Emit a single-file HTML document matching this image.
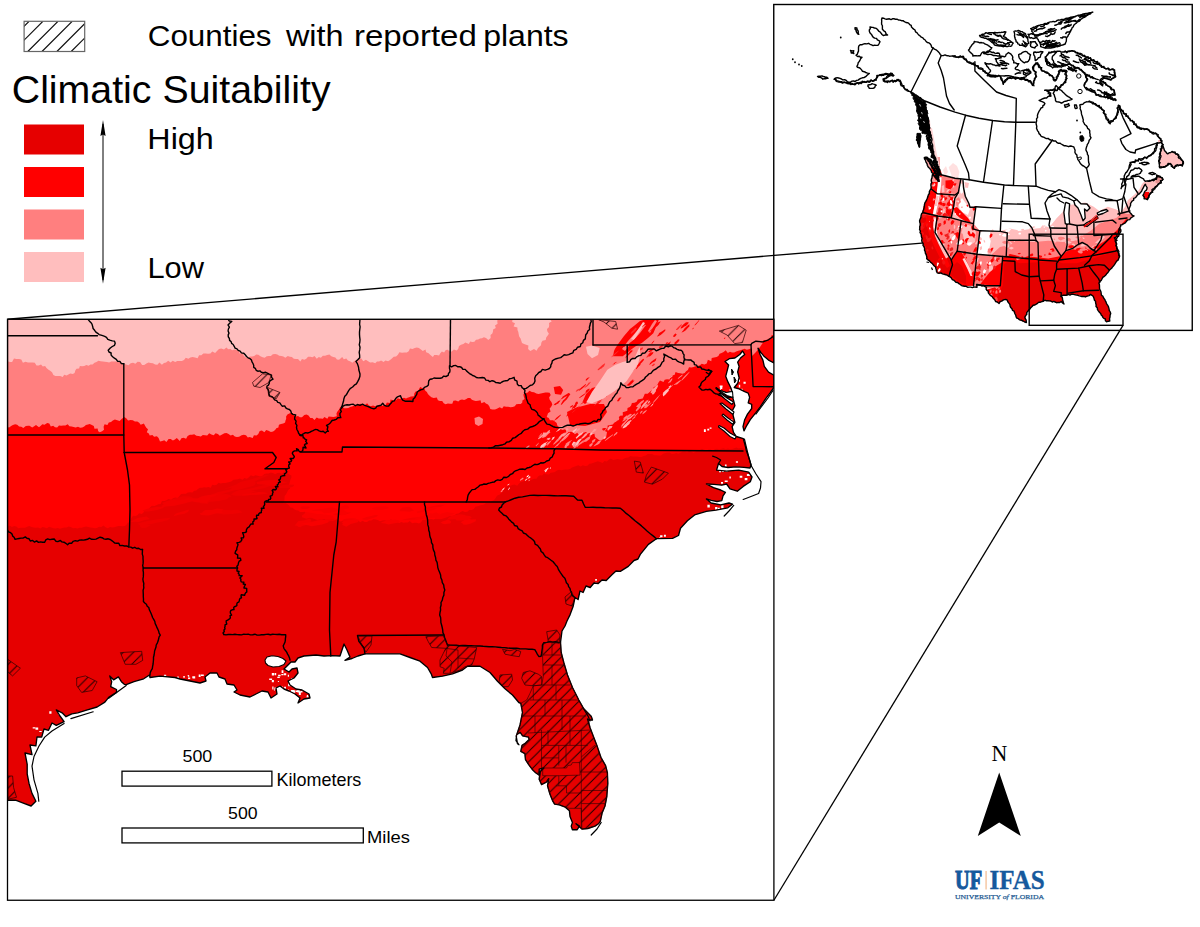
<!DOCTYPE html>
<html><head><meta charset="utf-8"><title>Climatic Suitability</title>
<style>
html,body{margin:0;padding:0;background:#fff;}
body{width:1200px;height:927px;overflow:hidden;font-family:"Liberation Sans",sans-serif;}
svg{display:block;position:absolute;left:0;top:0;}
text{font-family:"Liberation Sans",sans-serif;fill:#000;}
.ser{font-family:"Liberation Serif",serif;}
</style></head><body>
<svg width="1200" height="927" viewBox="0 0 1200 927">
<defs>
<pattern id="hatchL" patternUnits="userSpaceOnUse" width="16.6" height="20.5" x="24" y="21.5">
  <path d="M-16.6,20.5 L16.6,-20.5 M0,20.5 L16.6,0 M0,41 L33.2,0" stroke="#000" stroke-width="0.9" fill="none"/>
</pattern>

<pattern id="hatchM" patternUnits="userSpaceOnUse" width="10.3" height="10.3" x="3" y="0">
  <path d="M-1,11.3 L11.3,-1 M-1,1 L1,-1 M9.3,11.3 L11.3,9.3" stroke="#140000" stroke-width="0.95" fill="none"/>
</pattern>

</defs>
<rect x="0" y="0" width="1200" height="927" fill="#fff"/>
<!-- inset map -->
<rect x="773.75" y="4.5" width="418.5" height="325.9" fill="#fff"/>
<!-- connector lines -->
<line x1="7.5" y1="319.25" x2="1029.2" y2="234.2" stroke="#000" stroke-width="1.3"/>
<line x1="773.9" y1="900.25" x2="1123" y2="325.3" stroke="#000" stroke-width="1.3"/>
<clipPath id="insetclip"><rect x="773.75" y="4.5" width="418.5" height="325.9"/></clipPath>
<clipPath id="insetland"><path d="M882.0,18.0 L888.0,19.5 L895.5,18.8 L903.0,21.0 L909.0,23.2 L913.5,29.2 L918.0,33.8 L924.0,39.0 L930.0,44.2 L933.0,48.0 L937.5,51.0 L941.2,55.5 L945.0,54.8 L952.5,56.2 L962.5,57.0 L967.0,61.5 L974.5,64.5 L976.0,66.0 L983.5,70.5 L989.5,75.0 L1000.0,76.5 L1003.0,84.0 L1007.5,78.0 L1018.0,78.0 L1030.0,81.0 L1033.0,85.5 L1036.0,75.0 L1033.0,66.0 L1037.5,63.0 L1042.0,70.5 L1051.0,75.0 L1055.5,81.0 L1060.0,70.5 L1066.0,70.5 L1066.0,81.0 L1060.0,87.0 L1057.0,90.0 L1045.0,90.0 L1051.0,93.0 L1051.0,96.0 L1039.0,100.5 L1045.0,103.5 L1040.5,109.5 L1037.5,115.5 L1036.0,122.3 L1037.5,131.0 L1042.0,137.0 L1052.5,140.0 L1064.0,145.7 L1073.4,147.0 L1076.0,153.7 L1078.0,160.0 L1082.3,165.6 L1086.6,168.4 L1089.4,164.2 L1088.0,155.7 L1086.0,150.0 L1086.8,145.7 L1090.8,137.7 L1089.5,131.0 L1084.0,123.0 L1081.5,115.0 L1080.0,105.5 L1088.0,101.5 L1097.5,105.5 L1103.0,109.6 L1105.5,116.0 L1109.6,123.0 L1115.0,119.0 L1117.6,112.0 L1118.3,105.5 L1123.0,112.0 L1131.0,120.0 L1139.0,128.0 L1147.0,129.6 L1151.5,132.0 L1156.6,134.1 L1159.7,138.2 L1161.7,142.3 L1157.6,142.8 L1155.6,147.4 L1153.5,153.6 L1147.4,157.1 L1139.2,159.7 L1131.0,162.8 L1128.9,167.9 L1125.9,173.0 L1122.8,181.2 L1120.7,188.4 L1124.8,184.3 L1126.9,177.1 L1131.0,171.0 L1136.1,167.9 L1140.2,168.4 L1142.2,171.0 L1139.2,174.0 L1135.1,175.1 L1131.0,177.1 L1139.2,176.1 L1142.2,178.1 L1145.3,181.2 L1147.4,181.2 L1153.5,180.2 L1156.6,179.2 L1156.6,175.1 L1159.7,176.1 L1162.7,179.2 L1160.7,182.2 L1157.6,185.3 L1153.5,189.4 L1149.4,194.5 L1147.4,199.7 L1144.3,198.6 L1143.3,195.6 L1145.3,191.5 L1147.4,187.4 L1145.3,184.3 L1143.3,188.4 L1140.2,192.5 L1137.1,195.6 L1134.0,198.6 L1131.0,203.8 L1128.9,209.9 L1131.0,214.0 L1134.0,216.0 L1131.0,218.1 L1127.9,220.1 L1124.8,223.2 L1120.6,225.0 L1119.2,229.3 L1118.3,232.0 L1119.5,227.3 L1121.0,230.0 L1118.3,236.0 L1114.8,237.8 L1116.0,242.5 L1117.2,248.3 L1118.3,253.0 L1120.0,256.4 L1118.3,259.9 L1114.8,263.4 L1111.3,268.1 L1106.7,273.9 L1102.0,278.6 L1099.1,283.2 L1099.7,289.0 L1100.9,293.7 L1104.4,299.5 L1107.8,306.5 L1110.2,313.5 L1109.6,320.5 L1106.7,321.7 L1103.2,317.0 L1099.7,312.4 L1096.2,306.5 L1095.6,303.0 L1093.9,297.2 L1090.4,294.3 L1085.7,297.2 L1082.2,296.0 L1075.2,294.3 L1068.2,294.9 L1061.2,296.0 L1062.4,299.5 L1064.2,303.6 L1061.2,301.9 L1056.6,302.5 L1050.8,301.3 L1044.9,300.7 L1040.3,301.9 L1033.3,305.4 L1027.5,311.2 L1025.1,317.0 L1026.3,322.8 L1021.3,320.7 L1016.7,318.3 L1015.5,313.7 L1012.0,309.0 L1009.7,304.3 L1007.3,299.7 L1002.7,299.7 L999.2,303.2 L995.7,301.4 L992.2,297.3 L988.7,292.7 L985.2,286.2 L977.0,284.5 L977.0,287.4 L972.3,287.4 L963.0,286.2 L954.8,281.0 L949.0,276.3 L944.3,274.0 L937.3,272.8 L936.2,268.2 L931.5,263.5 L926.8,258.8 L925.0,251.8 L922.8,243.7 L921.6,236.7 L919.8,229.7 L920.0,220.6 L922.5,212.3 L923.9,206.0 L927.3,198.2 L930.7,188.5 L931.7,180.8 L932.2,175.0 L936.0,177.5 L938.5,174.0 L940.0,170.0 L938.5,168.5 L935.5,161.0 L932.5,149.0 L931.8,140.0 L929.5,129.5 L926.5,113.0 L923.5,101.0 L918.0,96.0 L912.0,93.0 L909.0,91.5 L904.5,88.5 L901.5,84.0 L898.5,79.5 L895.5,81.8 L891.0,81.0 L885.0,81.8 L883.5,79.5 L888.0,76.5 L894.0,75.0 L891.0,73.5 L883.5,74.2 L877.5,75.8 L876.0,79.5 L870.0,81.0 L861.0,82.5 L853.5,84.0 L847.5,83.2 L840.0,81.8 L834.0,78.8 L837.0,78.0 L843.0,79.5 L849.0,81.8 L855.0,81.0 L861.0,78.8 L865.5,76.5 L869.2,73.5 L864.0,72.0 L860.2,69.0 L856.5,66.0 L859.5,61.5 L861.8,57.8 L856.5,55.5 L858.0,51.0 L858.8,45.8 L863.2,44.2 L868.5,43.5 L873.0,45.8 L877.5,45.0 L879.8,42.0 L877.5,39.8 L872.2,36.0 L869.2,31.5 L870.0,27.0 L876.0,27.8 L879.8,32.2 L883.5,35.2 L887.2,35.2 L885.0,32.2 L882.8,29.2 L881.2,22.5 Z M1161.7,142.3 L1162.7,146.4 L1160.7,150.5 L1159.7,156.6 L1159.1,163.8 L1159.7,167.9 L1163.8,166.9 L1169.9,163.8 L1174.0,167.9 L1177.1,164.8 L1182.2,165.9 L1183.2,161.8 L1180.1,157.7 L1176.0,153.6 L1172.0,151.5 L1167.9,153.6 L1164.8,151.5 L1163.5,147.0 Z M924.4,157.5 L927.3,165.2 L933.2,174.0 L938.0,180.8 L939.0,176.9 L936.1,169.1 L931.2,161.4 L926.8,157.0 Z M917.5,134.0 L920.5,135.5 L919.6,146.8 L916.8,140.0 Z M868.0,85.0 L872.0,84.0 L876.0,85.0 L874.0,88.0 L869.0,88.5 Z M855.0,27.8 L857.0,28.0 L858.8,34.5 L856.8,33.0 Z M850.5,50.5 L853.5,50.8 L853.8,53.2 L851.0,53.0 Z M817.5,76.5 L822.0,76.0 L828.0,78.0 L823.0,79.0 Z M1139.5,163.3 L1144.3,162.0 L1149.0,163.5 L1144.3,164.8 Z M1149.0,173.5 L1152.5,172.5 L1155.5,173.8 L1152.5,174.5 Z M1056.0,85.5 L1066.8,96.2 L1072.0,98.9 L1061.4,102.9 L1056.0,101.5 L1053.4,93.5 Z M1064.5,105.0 L1068.5,103.8 L1069.5,106.0 L1065.5,107.3 Z M1074.5,105.0 L1076.5,105.0 L1077.0,108.5 L1075.0,108.5 Z M1064.0,52.0 L1073.4,50.7 L1084.0,56.0 L1096.0,61.4 L1104.2,68.0 L1114.2,70.0 L1115.0,76.0 L1111.0,80.0 L1103.0,77.5 L1100.0,80.0 L1108.2,85.5 L1114.2,90.8 L1115.0,94.8 L1109.6,94.8 L1104.2,92.0 L1112.2,98.9 L1116.0,100.0 L1107.0,97.5 L1099.0,96.0 L1093.5,92.0 L1086.8,89.5 L1084.0,85.5 L1086.8,78.8 L1084.0,72.0 L1077.5,68.0 L1069.4,64.0 L1061.4,66.8 L1053.4,65.4 L1048.0,62.7 L1045.4,57.4 L1049.4,52.7 L1057.4,51.4 Z M1092.8,12.1 L1081.7,18.5 L1073.5,25.5 L1070.0,32.5 L1066.5,38.3 L1065.3,44.2 L1057.2,46.5 L1046.7,48.2 L1040.8,46.5 L1039.7,41.8 L1033.8,34.8 L1030.9,29.0 L1037.3,25.5 L1049.0,22.6 L1064.2,19.1 L1079.3,15.0 Z M1057.2,51.2 L1049.0,52.3 L1045.5,58.2 L1046.7,64.0 L1052.5,67.5 L1058.3,66.3 L1053.7,62.8 L1051.9,58.2 L1054.8,53.5 Z M979.6,35.4 L986.0,33.0 L997.7,32.5 L1005.8,31.9 L1003.5,36.0 L1009.3,40.7 L1012.8,43.0 L1011.7,45.9 L1003.5,46.5 L995.3,45.3 L991.8,41.8 L986.0,38.3 L981.3,37.2 Z M1014.0,31.3 L1019.8,30.8 L1025.7,33.7 L1028.0,38.3 L1028.6,43.0 L1025.7,46.5 L1019.8,45.3 L1016.3,41.8 L1015.2,37.2 Z M1028.0,34.2 L1033.0,34.0 L1037.3,36.0 L1036.0,38.3 L1030.0,38.0 Z M1030.3,41.8 L1035.0,42.0 L1037.3,45.0 L1035.0,47.7 L1031.0,46.5 Z M968.5,50.0 L974.3,41.8 L983.7,43.0 L991.8,47.7 L988.3,52.3 L982.5,52.3 L980.2,55.8 L973.2,55.8 L970.8,52.3 Z M983.7,53.5 L988.3,51.2 L998.8,53.5 L1001.2,58.2 L995.0,59.0 L1000.0,66.3 L984.8,62.8 L987.2,66.3 L990.7,71.0 L987.2,75.7 L994.2,76.8 L1001.2,75.7 L1005.8,75.7 L1014.0,76.8 L1019.8,78.0 L1025.7,76.8 L1030.3,72.2 L1025.7,69.8 L1019.8,71.0 L1015.2,68.7 L1018.7,64.0 L1014.0,62.8 L1011.7,54.7 L1008.2,52.3 L1004.7,57.0 Z M1018.7,54.7 L1025.7,51.2 L1030.3,54.7 L1029.2,60.5 L1024.5,62.8 L1019.8,59.3 Z M1033.8,52.3 L1043.2,51.8 L1039.7,57.0 L1035.0,60.5 Z M1024.0,70.0 L1029.0,69.0 L1031.0,73.0 L1027.0,75.5 L1023.0,74.0 Z"/></clipPath>
<g clip-path="url(#insetclip)">
<path d="M882.0,18.0 L888.0,19.5 L895.5,18.8 L903.0,21.0 L909.0,23.2 L913.5,29.2 L918.0,33.8 L924.0,39.0 L930.0,44.2 L933.0,48.0 L937.5,51.0 L941.2,55.5 L945.0,54.8 L952.5,56.2 L962.5,57.0 L967.0,61.5 L974.5,64.5 L976.0,66.0 L983.5,70.5 L989.5,75.0 L1000.0,76.5 L1003.0,84.0 L1007.5,78.0 L1018.0,78.0 L1030.0,81.0 L1033.0,85.5 L1036.0,75.0 L1033.0,66.0 L1037.5,63.0 L1042.0,70.5 L1051.0,75.0 L1055.5,81.0 L1060.0,70.5 L1066.0,70.5 L1066.0,81.0 L1060.0,87.0 L1057.0,90.0 L1045.0,90.0 L1051.0,93.0 L1051.0,96.0 L1039.0,100.5 L1045.0,103.5 L1040.5,109.5 L1037.5,115.5 L1036.0,122.3 L1037.5,131.0 L1042.0,137.0 L1052.5,140.0 L1064.0,145.7 L1073.4,147.0 L1076.0,153.7 L1078.0,160.0 L1082.3,165.6 L1086.6,168.4 L1089.4,164.2 L1088.0,155.7 L1086.0,150.0 L1086.8,145.7 L1090.8,137.7 L1089.5,131.0 L1084.0,123.0 L1081.5,115.0 L1080.0,105.5 L1088.0,101.5 L1097.5,105.5 L1103.0,109.6 L1105.5,116.0 L1109.6,123.0 L1115.0,119.0 L1117.6,112.0 L1118.3,105.5 L1123.0,112.0 L1131.0,120.0 L1139.0,128.0 L1147.0,129.6 L1151.5,132.0 L1156.6,134.1 L1159.7,138.2 L1161.7,142.3 L1157.6,142.8 L1155.6,147.4 L1153.5,153.6 L1147.4,157.1 L1139.2,159.7 L1131.0,162.8 L1128.9,167.9 L1125.9,173.0 L1122.8,181.2 L1120.7,188.4 L1124.8,184.3 L1126.9,177.1 L1131.0,171.0 L1136.1,167.9 L1140.2,168.4 L1142.2,171.0 L1139.2,174.0 L1135.1,175.1 L1131.0,177.1 L1139.2,176.1 L1142.2,178.1 L1145.3,181.2 L1147.4,181.2 L1153.5,180.2 L1156.6,179.2 L1156.6,175.1 L1159.7,176.1 L1162.7,179.2 L1160.7,182.2 L1157.6,185.3 L1153.5,189.4 L1149.4,194.5 L1147.4,199.7 L1144.3,198.6 L1143.3,195.6 L1145.3,191.5 L1147.4,187.4 L1145.3,184.3 L1143.3,188.4 L1140.2,192.5 L1137.1,195.6 L1134.0,198.6 L1131.0,203.8 L1128.9,209.9 L1131.0,214.0 L1134.0,216.0 L1131.0,218.1 L1127.9,220.1 L1124.8,223.2 L1120.6,225.0 L1119.2,229.3 L1118.3,232.0 L1119.5,227.3 L1121.0,230.0 L1118.3,236.0 L1114.8,237.8 L1116.0,242.5 L1117.2,248.3 L1118.3,253.0 L1120.0,256.4 L1118.3,259.9 L1114.8,263.4 L1111.3,268.1 L1106.7,273.9 L1102.0,278.6 L1099.1,283.2 L1099.7,289.0 L1100.9,293.7 L1104.4,299.5 L1107.8,306.5 L1110.2,313.5 L1109.6,320.5 L1106.7,321.7 L1103.2,317.0 L1099.7,312.4 L1096.2,306.5 L1095.6,303.0 L1093.9,297.2 L1090.4,294.3 L1085.7,297.2 L1082.2,296.0 L1075.2,294.3 L1068.2,294.9 L1061.2,296.0 L1062.4,299.5 L1064.2,303.6 L1061.2,301.9 L1056.6,302.5 L1050.8,301.3 L1044.9,300.7 L1040.3,301.9 L1033.3,305.4 L1027.5,311.2 L1025.1,317.0 L1026.3,322.8 L1021.3,320.7 L1016.7,318.3 L1015.5,313.7 L1012.0,309.0 L1009.7,304.3 L1007.3,299.7 L1002.7,299.7 L999.2,303.2 L995.7,301.4 L992.2,297.3 L988.7,292.7 L985.2,286.2 L977.0,284.5 L977.0,287.4 L972.3,287.4 L963.0,286.2 L954.8,281.0 L949.0,276.3 L944.3,274.0 L937.3,272.8 L936.2,268.2 L931.5,263.5 L926.8,258.8 L925.0,251.8 L922.8,243.7 L921.6,236.7 L919.8,229.7 L920.0,220.6 L922.5,212.3 L923.9,206.0 L927.3,198.2 L930.7,188.5 L931.7,180.8 L932.2,175.0 L936.0,177.5 L938.5,174.0 L940.0,170.0 L938.5,168.5 L935.5,161.0 L932.5,149.0 L931.8,140.0 L929.5,129.5 L926.5,113.0 L923.5,101.0 L918.0,96.0 L912.0,93.0 L909.0,91.5 L904.5,88.5 L901.5,84.0 L898.5,79.5 L895.5,81.8 L891.0,81.0 L885.0,81.8 L883.5,79.5 L888.0,76.5 L894.0,75.0 L891.0,73.5 L883.5,74.2 L877.5,75.8 L876.0,79.5 L870.0,81.0 L861.0,82.5 L853.5,84.0 L847.5,83.2 L840.0,81.8 L834.0,78.8 L837.0,78.0 L843.0,79.5 L849.0,81.8 L855.0,81.0 L861.0,78.8 L865.5,76.5 L869.2,73.5 L864.0,72.0 L860.2,69.0 L856.5,66.0 L859.5,61.5 L861.8,57.8 L856.5,55.5 L858.0,51.0 L858.8,45.8 L863.2,44.2 L868.5,43.5 L873.0,45.8 L877.5,45.0 L879.8,42.0 L877.5,39.8 L872.2,36.0 L869.2,31.5 L870.0,27.0 L876.0,27.8 L879.8,32.2 L883.5,35.2 L887.2,35.2 L885.0,32.2 L882.8,29.2 L881.2,22.5 Z M1161.7,142.3 L1162.7,146.4 L1160.7,150.5 L1159.7,156.6 L1159.1,163.8 L1159.7,167.9 L1163.8,166.9 L1169.9,163.8 L1174.0,167.9 L1177.1,164.8 L1182.2,165.9 L1183.2,161.8 L1180.1,157.7 L1176.0,153.6 L1172.0,151.5 L1167.9,153.6 L1164.8,151.5 L1163.5,147.0 Z M924.4,157.5 L927.3,165.2 L933.2,174.0 L938.0,180.8 L939.0,176.9 L936.1,169.1 L931.2,161.4 L926.8,157.0 Z M917.5,134.0 L920.5,135.5 L919.6,146.8 L916.8,140.0 Z M868.0,85.0 L872.0,84.0 L876.0,85.0 L874.0,88.0 L869.0,88.5 Z M855.0,27.8 L857.0,28.0 L858.8,34.5 L856.8,33.0 Z M850.5,50.5 L853.5,50.8 L853.8,53.2 L851.0,53.0 Z M817.5,76.5 L822.0,76.0 L828.0,78.0 L823.0,79.0 Z M1139.5,163.3 L1144.3,162.0 L1149.0,163.5 L1144.3,164.8 Z M1149.0,173.5 L1152.5,172.5 L1155.5,173.8 L1152.5,174.5 Z M1056.0,85.5 L1066.8,96.2 L1072.0,98.9 L1061.4,102.9 L1056.0,101.5 L1053.4,93.5 Z M1064.5,105.0 L1068.5,103.8 L1069.5,106.0 L1065.5,107.3 Z M1074.5,105.0 L1076.5,105.0 L1077.0,108.5 L1075.0,108.5 Z M1064.0,52.0 L1073.4,50.7 L1084.0,56.0 L1096.0,61.4 L1104.2,68.0 L1114.2,70.0 L1115.0,76.0 L1111.0,80.0 L1103.0,77.5 L1100.0,80.0 L1108.2,85.5 L1114.2,90.8 L1115.0,94.8 L1109.6,94.8 L1104.2,92.0 L1112.2,98.9 L1116.0,100.0 L1107.0,97.5 L1099.0,96.0 L1093.5,92.0 L1086.8,89.5 L1084.0,85.5 L1086.8,78.8 L1084.0,72.0 L1077.5,68.0 L1069.4,64.0 L1061.4,66.8 L1053.4,65.4 L1048.0,62.7 L1045.4,57.4 L1049.4,52.7 L1057.4,51.4 Z M1092.8,12.1 L1081.7,18.5 L1073.5,25.5 L1070.0,32.5 L1066.5,38.3 L1065.3,44.2 L1057.2,46.5 L1046.7,48.2 L1040.8,46.5 L1039.7,41.8 L1033.8,34.8 L1030.9,29.0 L1037.3,25.5 L1049.0,22.6 L1064.2,19.1 L1079.3,15.0 Z M1057.2,51.2 L1049.0,52.3 L1045.5,58.2 L1046.7,64.0 L1052.5,67.5 L1058.3,66.3 L1053.7,62.8 L1051.9,58.2 L1054.8,53.5 Z M979.6,35.4 L986.0,33.0 L997.7,32.5 L1005.8,31.9 L1003.5,36.0 L1009.3,40.7 L1012.8,43.0 L1011.7,45.9 L1003.5,46.5 L995.3,45.3 L991.8,41.8 L986.0,38.3 L981.3,37.2 Z M1014.0,31.3 L1019.8,30.8 L1025.7,33.7 L1028.0,38.3 L1028.6,43.0 L1025.7,46.5 L1019.8,45.3 L1016.3,41.8 L1015.2,37.2 Z M1028.0,34.2 L1033.0,34.0 L1037.3,36.0 L1036.0,38.3 L1030.0,38.0 Z M1030.3,41.8 L1035.0,42.0 L1037.3,45.0 L1035.0,47.7 L1031.0,46.5 Z M968.5,50.0 L974.3,41.8 L983.7,43.0 L991.8,47.7 L988.3,52.3 L982.5,52.3 L980.2,55.8 L973.2,55.8 L970.8,52.3 Z M983.7,53.5 L988.3,51.2 L998.8,53.5 L1001.2,58.2 L995.0,59.0 L1000.0,66.3 L984.8,62.8 L987.2,66.3 L990.7,71.0 L987.2,75.7 L994.2,76.8 L1001.2,75.7 L1005.8,75.7 L1014.0,76.8 L1019.8,78.0 L1025.7,76.8 L1030.3,72.2 L1025.7,69.8 L1019.8,71.0 L1015.2,68.7 L1018.7,64.0 L1014.0,62.8 L1011.7,54.7 L1008.2,52.3 L1004.7,57.0 Z M1018.7,54.7 L1025.7,51.2 L1030.3,54.7 L1029.2,60.5 L1024.5,62.8 L1019.8,59.3 Z M1033.8,52.3 L1043.2,51.8 L1039.7,57.0 L1035.0,60.5 Z M1024.0,70.0 L1029.0,69.0 L1031.0,73.0 L1027.0,75.5 L1023.0,74.0 Z" fill="#fff" stroke="none"/>
<g clip-path="url(#insetland)">
<path d="M985.0,258.0 L985.0,240.0 L988.0,232.0 L1000.0,231.0 L1010.0,228.5 L1020.0,230.8 L1028.5,229.3 L1041.2,227.9 L1051.2,225.0 L1056.8,218.0 L1062.5,212.3 L1065.3,206.7 L1069.6,205.0 L1076.7,203.8 L1085.2,202.4 L1093.7,206.7 L1099.3,210.9 L1107.8,206.7 L1116.3,209.5 L1121.0,212.0 L1125.0,207.0 L1128.0,200.0 L1134.0,195.0 L1139.0,190.0 L1142.0,184.0 L1146.0,180.0 L1152.0,178.0 L1170.0,172.0 L1170.0,210.0 L1135.0,245.0 L985.0,262.0 Z" fill="#ffbebe"/>
<path d="M975.0,256.0 L990.0,256.0 L1000.0,247.0 L1010.0,244.8 L1020.0,240.7 L1034.2,242.0 L1048.3,240.7 L1062.5,242.0 L1076.7,240.7 L1083.8,235.0 L1090.8,230.8 L1099.3,223.7 L1107.8,220.8 L1116.3,218.0 L1122.0,212.3 L1127.0,214.0 L1135.0,214.0 L1135.0,270.0 L975.0,290.0 Z" fill="#ff7f7f"/>
<path d="M1002.7,258.0 L1010.0,254.0 L1020.0,256.2 L1034.2,257.0 L1048.3,258.4 L1059.7,256.2 L1068.2,250.6 L1079.5,247.8 L1088.0,249.2 L1091.0,250.0 L1096.5,246.3 L1105.0,240.7 L1112.0,235.0 L1117.8,229.3 L1122.0,223.7 L1126.0,219.0 L1135.0,222.0 L1135.0,330.0 L985.0,330.0 L985.0,290.0 L1000.3,285.7 L1002.7,262.0 Z" fill="#ff0000"/>
<path d="M1004.0,264.0 L1010.0,260.0 L1020.0,263.3 L1041.2,262.0 L1055.4,260.5 L1062.5,263.3 L1076.7,263.3 L1090.8,259.0 L1105.0,254.8 L1116.3,252.0 L1121.0,250.0 L1130.0,250.0 L1130.0,330.0 L992.0,330.0 L996.0,300.0 L1003.0,285.0 Z" fill="#e60000"/>
<path d="M1090.5,249.5 L1094.0,244.0 L1098.0,240.0 L1103.0,235.5 L1105.0,237.0 L1100.0,242.5 L1096.0,247.0 L1093.0,251.0 Z" fill="#ffbebe"/>
<path d="M1142.0,192.0 L1149.0,192.0 L1149.0,200.5 L1142.0,200.5 Z" fill="#ff0000"/>
<path d="M1155.5,174.0 L1164.0,174.0 L1164.0,183.0 L1155.5,183.0 Z" fill="#e89090"/>
<path d="M1158.0,140.0 L1185.0,140.0 L1185.0,170.0 L1158.0,170.0 Z" fill="#ffbebe"/>
<path d="M1083.5,226.0 L1090.8,221.5 L1097.5,217.0 L1098.5,218.5 L1091.5,223.5 L1084.5,227.5 Z" fill="#ff0000"/>
<path d="M1089.0,221.0 L1096.5,215.5 L1097.5,217.0 L1090.0,222.5 Z" fill="#ff0000"/>
<path d="M935.0,216.0 L951.3,217.5 L973.5,223.6 L979.9,231.0 L977.0,254.2 L1002.7,256.5 L1000.3,285.7 L973.5,285.7 L960.0,284.0 L949.0,276.3 L951.3,260.0 L935.0,232.3 Z" fill="#ff7f7f"/>
<path d="M979.9,231.0 L990.0,232.0 L991.0,240.0 L989.0,250.0 L988.0,255.5 L977.0,254.2 Z" fill="#fff"/>
<path d="M953.4,236.0 L953.9,237.1 L952.8,238.8 L951.1,238.4 L948.8,239.0 L949.6,237.1 L951.0,236.0 L952.8,234.7 Z M955.5,233.2 L956.2,233.2 L955.9,234.1 L955.4,234.5 L954.8,235.1 L954.7,234.3 L954.3,233.6 L955.0,233.1 Z M950.1,229.3 L950.1,230.5 L950.1,231.3 L949.8,232.4 L948.9,232.9 L948.5,232.0 L948.4,230.8 L949.2,229.5 Z M951.1,239.5 L951.0,240.3 L950.3,241.3 L949.1,241.8 L947.7,242.2 L948.4,240.9 L949.3,240.1 L950.2,239.6 Z M960.3,225.8 L960.7,226.3 L960.0,227.4 L959.0,228.3 L958.1,228.3 L958.4,227.2 L958.6,226.1 L959.8,225.3 Z M952.0,253.8 L952.3,254.7 L951.2,255.8 L949.8,256.3 L948.4,256.3 L949.3,255.0 L949.9,254.0 L951.5,252.9 Z M941.3,231.5 L942.1,232.5 L942.5,233.2 L942.7,234.4 L941.8,235.4 L940.7,234.6 L939.8,233.6 L940.1,232.1 Z M945.7,220.6 L945.9,222.0 L945.8,223.4 L944.8,224.2 L943.6,224.9 L943.7,223.3 L943.3,222.1 L944.3,220.6 Z M938.6,227.1 L939.1,227.7 L939.0,228.7 L938.5,229.7 L937.5,230.2 L936.9,229.3 L937.3,228.1 L937.6,226.7 Z M938.7,216.8 L938.7,218.2 L938.0,219.9 L936.6,221.7 L936.0,220.7 L935.8,219.9 L935.9,218.5 L937.2,217.9 Z M942.2,239.9 L943.2,240.4 L943.8,241.9 L943.6,244.0 L942.3,243.5 L941.3,243.5 L940.8,242.0 L941.0,240.2 Z M939.1,223.3 L940.2,223.6 L940.5,224.8 L940.5,226.1 L939.5,227.0 L938.1,226.5 L938.2,225.0 L938.2,223.9 Z M945.7,234.8 L946.2,235.1 L946.3,235.8 L945.9,236.5 L945.1,236.2 L944.8,235.7 L944.4,235.0 L945.0,234.3 Z M948.9,215.7 L949.9,216.2 L950.1,218.2 L949.7,219.7 L948.9,220.9 L948.0,220.0 L948.1,218.2 L948.1,216.6 Z M953.5,220.5 L954.5,221.4 L953.4,223.4 L952.3,224.5 L951.1,224.7 L950.7,223.6 L950.8,221.9 L952.3,220.0 Z M948.2,244.2 L949.0,244.9 L949.7,245.7 L949.2,246.7 L948.6,246.8 L947.9,246.8 L947.5,245.9 L947.7,245.0 Z M957.5,231.9 L959.0,232.7 L959.3,235.4 L959.3,238.0 L957.9,239.3 L956.7,237.4 L955.6,235.5 L956.1,232.8 Z" fill="#ff0000"/>
<path d="M948.8,236.0 L950.0,236.4 L948.9,238.0 L948.2,239.6 L947.0,239.7 L946.2,238.8 L947.0,237.1 L947.8,235.6 Z M953.5,251.6 L953.0,253.0 L952.5,254.0 L951.6,255.0 L950.9,254.7 L950.2,254.1 L950.9,252.6 L952.1,252.3 Z M947.2,216.9 L947.7,217.8 L947.8,218.8 L947.7,219.9 L947.2,220.2 L946.4,220.3 L946.4,218.8 L946.6,217.6 Z M949.1,246.5 L949.1,247.7 L949.5,248.8 L948.6,250.3 L947.7,249.9 L947.3,249.1 L947.1,247.8 L948.2,247.2 Z M952.9,247.9 L953.4,248.9 L952.5,250.4 L951.0,251.1 L949.8,251.0 L949.5,249.9 L950.3,248.2 L952.1,246.9 Z M954.1,231.5 L954.1,232.4 L953.8,233.8 L952.4,233.5 L951.1,233.5 L951.5,232.3 L952.0,231.1 L953.3,231.1 Z M948.7,233.0 L948.5,234.6 L948.8,236.2 L947.1,236.8 L946.0,237.1 L945.3,236.2 L945.8,234.3 L947.4,233.4 Z M940.2,223.0 L941.1,223.2 L941.4,224.5 L941.1,225.7 L940.3,226.2 L939.7,225.3 L939.2,224.6 L939.4,223.5 Z M944.8,242.4 L945.4,242.7 L944.8,243.5 L944.2,243.8 L943.7,243.7 L943.4,243.2 L943.8,242.6 L944.3,242.1 Z" fill="#f02020"/>
<path d="M960.0,225.5 L959.9,226.3 L959.4,227.0 L958.6,227.8 L957.6,227.8 L958.0,226.8 L958.1,225.8 L959.2,225.5 Z M949.5,254.1 L949.9,255.0 L949.7,256.0 L948.9,256.4 L948.1,256.3 L947.8,255.7 L947.5,254.6 L948.6,254.4 Z M951.2,241.1 L952.0,241.3 L952.3,242.2 L952.1,242.8 L951.8,243.8 L951.0,243.3 L950.7,242.5 L950.5,241.5 Z M955.1,234.8 L955.5,236.6 L955.0,238.4 L953.7,240.3 L951.9,240.1 L951.3,238.4 L951.8,236.5 L953.4,235.5 Z" fill="#fff"/>
<path d="M947.8,215.8 L948.3,216.6 L948.3,217.9 L948.0,219.0 L947.3,219.3 L946.8,218.8 L946.8,217.7 L946.9,216.0 Z M958.8,227.8 L958.9,228.8 L958.3,229.5 L957.7,230.1 L956.7,230.3 L956.6,229.3 L957.0,228.4 L957.8,228.0 Z M954.6,224.7 L955.2,225.8 L955.4,227.0 L955.1,228.0 L954.5,228.9 L953.8,228.5 L953.8,226.9 L953.8,225.4 Z M943.9,243.2 L944.6,243.2 L944.4,244.6 L944.4,246.0 L943.7,246.3 L943.2,245.7 L942.7,244.5 L943.4,243.6 Z M953.9,233.6 L953.8,235.1 L952.8,236.7 L951.3,238.3 L949.3,239.2 L949.7,237.0 L950.1,234.5 L952.6,233.4 Z M939.8,214.1 L941.0,215.1 L942.0,216.1 L942.2,218.1 L940.6,218.2 L939.2,218.6 L938.5,216.8 L939.2,215.5 Z" fill="#ffbebe"/>
<path d="M964.0,224.0 L972.0,226.0 L976.0,232.0 L975.0,242.0 L969.0,246.0 L964.0,240.0 L962.0,230.0 Z" fill="#ffbebe"/>
<path d="M963.9,239.5 L964.0,240.5 L963.5,241.5 L962.5,241.9 L961.4,242.1 L961.3,241.1 L961.9,240.1 L963.0,239.3 Z M967.7,238.0 L969.1,238.3 L967.6,240.5 L966.7,243.1 L965.1,243.1 L964.5,241.6 L965.3,239.3 L966.6,238.3 Z M964.3,242.4 L964.1,243.2 L964.0,244.1 L963.0,244.2 L962.0,244.6 L962.1,243.7 L963.0,243.0 L963.7,242.2 Z M970.7,234.2 L971.6,233.8 L971.9,235.0 L972.1,236.0 L971.3,236.3 L970.5,236.5 L970.0,235.6 L969.8,234.5 Z M969.0,230.8 L969.8,231.7 L970.4,233.2 L970.6,235.7 L969.5,236.3 L968.6,235.0 L967.6,233.4 L967.9,231.2 Z M959.5,244.2 L959.7,244.8 L959.1,245.7 L958.1,245.7 L957.5,245.4 L957.0,244.7 L958.0,243.9 L959.1,243.5 Z M976.4,246.6 L976.9,248.2 L976.9,250.6 L975.4,252.6 L974.1,252.7 L973.2,251.9 L974.0,249.5 L975.0,248.1 Z M965.7,223.7 L966.5,224.3 L967.2,225.1 L966.9,226.0 L966.3,227.0 L965.2,226.8 L964.3,225.6 L965.0,224.5 Z M964.8,250.8 L965.4,251.4 L966.2,251.8 L965.6,252.5 L965.3,253.3 L964.5,253.0 L964.2,252.3 L964.5,251.7 Z M972.4,225.5 L973.3,227.1 L974.6,228.3 L973.8,229.9 L972.9,230.6 L972.0,230.0 L971.4,228.6 L971.2,226.4 Z M972.7,231.9 L974.0,233.0 L975.4,234.9 L974.7,236.8 L974.3,238.5 L973.1,237.1 L971.8,235.8 L971.8,233.2 Z" fill="#ff0000"/>
<path d="M965.0,241.5 L965.7,241.5 L965.9,243.0 L965.6,244.7 L964.8,244.4 L964.1,244.5 L964.1,242.9 L964.4,241.6 Z M975.4,251.4 L975.9,252.1 L975.1,253.0 L974.6,253.6 L974.0,253.4 L973.5,252.9 L973.8,252.0 L974.6,251.8 Z M976.6,244.5 L977.2,244.8 L977.2,245.7 L977.3,246.6 L976.6,246.8 L976.0,246.6 L975.9,245.7 L976.0,244.9 Z" fill="#ff7f7f"/>
<path d="M962.6,240.6 L963.0,241.6 L961.6,243.9 L958.5,245.0 L956.7,244.4 L957.6,242.4 L959.6,240.8 L962.0,239.5 Z M961.9,224.8 L962.4,225.6 L962.7,226.7 L962.3,227.7 L961.8,228.1 L961.0,228.2 L960.8,226.7 L961.2,225.4 Z M972.3,242.4 L971.4,244.0 L970.2,245.4 L968.6,245.5 L967.6,245.1 L967.0,244.1 L968.4,242.4 L970.4,242.3 Z M959.8,241.4 L959.8,243.1 L960.0,244.4 L958.7,245.0 L957.5,245.1 L956.3,244.1 L957.0,242.5 L958.3,242.3 Z M959.4,242.3 L959.2,243.1 L958.9,243.8 L958.2,244.2 L957.3,244.3 L957.0,243.5 L957.7,242.6 L958.6,242.1 Z" fill="#fff"/>
<path d="M971.5,251.6 L972.1,252.1 L972.4,253.2 L972.4,254.3 L971.9,255.1 L971.4,254.3 L970.8,253.4 L971.2,252.4 Z M963.2,230.8 L963.7,231.6 L963.9,232.7 L963.0,233.4 L961.9,233.8 L961.3,232.8 L961.5,231.6 L962.4,230.9 Z M979.7,240.7 L980.0,242.2 L978.9,244.4 L976.9,244.3 L975.4,244.5 L975.2,243.2 L976.4,241.6 L978.2,240.5 Z" fill="#ffbebe"/>
<path d="M990.8,236.3 L991.8,238.2 L993.0,239.1 L992.9,241.2 L991.9,241.4 L991.0,241.1 L990.1,239.7 L990.5,238.2 Z M990.0,251.3 L990.6,252.1 L990.4,253.9 L989.3,255.3 L988.4,255.3 L987.7,254.8 L987.9,252.9 L989.0,250.8 Z M987.9,250.7 L988.8,251.1 L989.2,252.4 L989.4,253.6 L988.8,254.1 L988.0,254.3 L987.5,252.9 L987.2,251.5 Z M992.8,229.2 L993.9,230.4 L992.9,233.1 L992.0,234.6 L991.0,235.1 L989.8,234.8 L990.7,232.4 L991.4,230.3 Z M983.8,239.5 L984.5,240.2 L985.1,241.0 L985.2,242.0 L985.0,242.9 L984.3,242.2 L983.8,241.4 L983.6,240.4 Z M981.8,231.0 L982.2,231.4 L981.4,232.0 L980.7,232.4 L980.5,231.9 L980.0,231.5 L980.7,230.8 L981.5,230.6 Z M981.4,237.8 L981.8,238.4 L981.9,239.3 L981.3,240.4 L980.3,240.0 L979.7,239.3 L979.6,238.1 L980.5,237.0 Z M981.6,245.9 L982.0,247.2 L982.1,248.4 L981.4,249.7 L980.2,250.2 L979.8,248.8 L979.5,247.6 L980.5,246.8 Z" fill="#ffbebe"/>
<path d="M993.6,247.8 L992.8,249.6 L992.0,251.4 L990.1,251.8 L988.1,252.3 L988.4,250.7 L990.3,249.3 L991.9,247.8 Z M991.8,233.8 L992.6,234.3 L992.1,236.4 L991.0,237.3 L989.9,238.6 L989.7,237.1 L989.6,235.4 L990.8,233.5 Z M980.0,241.1 L980.5,242.1 L981.1,243.4 L979.7,243.8 L978.8,244.0 L978.4,243.2 L977.9,242.1 L978.8,241.0 Z" fill="#ff0000"/>
<path d="M988.7,248.2 L990.1,248.6 L991.3,250.7 L991.4,253.1 L990.3,253.6 L989.3,252.7 L987.8,251.8 L987.8,249.5 Z" fill="#ff7f7f"/>
<path d="M1002.7,262.0 L996.0,266.0 L990.0,272.0 L985.0,278.0 L980.0,284.5 L1000.3,285.7 Z" fill="#ff0000"/>
<path d="M977.0,284.5 L985.2,286.2 L988.7,292.7 L992.2,297.3 L985.0,290.0 Z" fill="#ff7f7f"/>
<path d="M993.5,259.1 L994.0,260.1 L993.2,261.4 L991.6,262.7 L990.8,261.5 L990.4,260.4 L991.4,259.2 L992.8,257.9 Z M980.2,278.4 L980.7,279.4 L980.5,280.6 L979.3,281.6 L978.3,280.5 L977.5,279.6 L978.2,278.5 L979.2,277.7 Z M987.9,261.9 L989.1,261.8 L990.3,263.1 L989.6,264.5 L989.1,265.7 L987.7,266.0 L987.0,264.2 L987.2,262.8 Z M985.2,273.6 L985.9,274.1 L985.6,274.9 L985.1,276.0 L984.2,275.3 L983.2,274.7 L983.9,273.9 L984.5,273.3 Z M976.4,271.4 L977.0,271.8 L977.0,272.8 L976.4,273.4 L975.9,273.2 L975.3,273.1 L975.3,272.3 L975.6,271.5 Z M979.4,271.3 L980.6,272.2 L979.3,274.4 L977.9,276.3 L976.2,276.4 L975.0,275.1 L976.1,272.5 L978.0,271.8 Z M980.0,263.8 L980.1,264.5 L979.8,265.5 L978.9,265.6 L978.4,265.6 L978.4,265.1 L978.6,264.4 L979.3,263.8 Z M982.5,278.2 L982.6,279.2 L982.7,279.9 L982.3,280.9 L981.6,280.5 L980.8,280.4 L981.3,279.4 L981.6,278.6 Z M996.9,258.3 L997.5,258.9 L998.0,259.9 L998.3,261.7 L997.4,261.7 L996.7,261.5 L996.1,260.2 L995.9,258.3 Z" fill="#ff0000"/>
<path d="M988.7,264.8 L988.9,265.9 L989.0,267.1 L988.5,268.8 L987.7,268.7 L987.3,267.8 L987.5,266.7 L987.9,265.3 Z M995.3,265.9 L996.3,266.6 L995.5,267.9 L994.6,269.2 L993.1,269.4 L993.2,267.6 L993.4,266.6 L994.2,265.6 Z M980.6,266.1 L981.3,267.5 L978.9,268.5 L977.3,269.3 L975.8,268.9 L975.6,267.4 L977.5,266.0 L979.6,265.1 Z M982.9,274.3 L983.9,274.3 L983.2,276.0 L982.5,277.2 L981.4,277.8 L980.7,276.9 L981.1,275.1 L982.2,274.2 Z M999.9,257.5 L999.6,258.9 L999.3,260.0 L998.2,260.1 L997.0,259.8 L997.0,258.6 L997.6,257.8 L998.5,257.4 Z M978.9,265.9 L980.0,266.2 L980.3,267.7 L980.9,269.6 L979.6,269.7 L978.7,269.4 L978.2,268.1 L978.2,266.7 Z M974.9,278.7 L975.3,279.4 L975.7,280.3 L975.3,281.5 L974.3,281.9 L974.0,280.7 L973.5,279.9 L974.2,279.0 Z M994.9,255.4 L995.8,256.1 L996.7,258.0 L995.9,260.8 L994.5,260.3 L993.8,259.4 L992.4,257.7 L993.8,255.7 Z M979.0,277.2 L978.3,278.5 L977.6,279.9 L975.9,280.3 L975.7,279.2 L974.8,278.4 L976.1,277.3 L977.8,276.6 Z" fill="#f02020"/>
<path d="M995.9,255.8 L996.5,256.5 L996.5,258.0 L996.1,259.6 L995.1,260.8 L994.4,259.4 L994.2,257.6 L995.1,256.5 Z M987.3,261.4 L987.8,262.1 L988.2,262.6 L988.1,263.4 L987.5,263.8 L986.8,263.7 L986.4,262.8 L986.8,262.1 Z M977.5,257.9 L978.8,258.1 L978.1,260.3 L977.6,261.7 L976.7,262.4 L975.7,261.8 L976.0,260.0 L976.1,257.4 Z M983.5,273.2 L983.8,274.1 L984.0,274.6 L984.0,275.4 L983.2,275.2 L982.6,275.0 L982.2,274.3 L983.0,273.9 Z M992.0,265.2 L992.7,266.5 L993.1,268.3 L992.1,270.3 L990.7,271.0 L990.2,269.2 L990.0,267.5 L990.8,265.7 Z M990.3,266.1 L991.1,267.3 L991.7,268.9 L991.1,270.6 L990.1,271.7 L988.7,271.6 L989.0,268.9 L988.7,265.9 Z" fill="#ffbebe"/>
<path d="M985.2,270.1 L986.5,270.2 L985.6,271.9 L984.9,273.6 L983.9,273.3 L983.0,272.7 L983.1,270.9 L984.2,269.1 Z M989.4,261.9 L990.8,262.2 L991.2,263.6 L990.6,264.6 L989.6,264.8 L988.5,264.8 L988.4,263.8 L988.5,262.8 Z M991.5,254.7 L992.1,254.8 L991.7,255.8 L991.4,256.4 L990.8,256.9 L990.6,256.3 L990.5,255.4 L991.1,254.5 Z M981.2,261.2 L981.7,261.8 L981.8,263.1 L981.3,264.8 L980.4,264.8 L980.1,263.8 L979.7,262.6 L980.5,261.4 Z" fill="#fff"/>
<path d="M951.3,260.0 L957.2,251.5 L962.0,253.0 L966.0,260.0 L970.0,268.0 L974.0,280.0 L973.5,285.7 L963.0,286.2 L954.8,281.0 L949.0,276.3 L950.2,271.7 L952.5,264.7 Z" fill="#ff0000"/>
<path d="M953.0,266.0 L957.0,262.0 L962.0,266.0 L966.0,276.0 L966.0,284.0 L958.0,281.0 L951.0,275.0 Z" fill="#e60000"/>
<path d="M962.5,259.0 L964.5,258.0 L968.0,264.0 L971.5,271.0 L972.5,276.0 L970.5,276.0 L967.5,269.0 L964.5,263.0 Z" fill="#ffd8d8"/>
<path d="M975.1,255.5 L976.3,256.2 L976.7,257.9 L975.7,259.0 L974.8,259.4 L974.1,258.7 L973.2,257.6 L974.3,256.8 Z M964.3,251.4 L965.5,252.0 L966.3,253.4 L965.5,254.4 L965.1,255.4 L963.9,255.5 L963.1,254.0 L963.6,252.5 Z M966.8,257.0 L967.0,257.6 L966.7,258.1 L966.4,258.7 L965.9,258.4 L965.7,258.0 L965.8,257.6 L966.1,256.8 Z M975.6,256.9 L976.4,257.6 L975.2,259.2 L973.9,260.7 L973.1,259.9 L972.2,259.2 L973.7,257.9 L974.8,256.2 Z M975.0,272.1 L974.6,273.3 L974.2,274.3 L973.0,274.7 L972.0,274.5 L971.8,273.5 L973.0,272.7 L973.8,272.4 Z M974.7,259.9 L974.5,261.6 L973.6,263.0 L972.4,264.8 L971.7,264.0 L970.6,263.6 L972.0,261.7 L973.3,260.0 Z M974.0,253.0 L974.5,253.5 L975.0,254.2 L975.1,255.5 L974.4,255.6 L973.8,255.6 L973.4,254.5 L973.7,253.7 Z M973.6,271.1 L974.4,272.4 L974.3,273.7 L974.0,275.2 L972.6,275.7 L971.7,274.5 L971.7,273.1 L972.5,272.2 Z M973.6,275.6 L974.6,276.3 L974.5,277.6 L974.4,278.6 L973.8,279.7 L972.6,279.2 L972.3,277.7 L972.9,276.7 Z M973.2,275.0 L974.2,275.3 L974.5,276.8 L974.6,278.0 L974.4,279.4 L973.5,278.2 L972.6,277.3 L972.7,275.9 Z" fill="#ff0000"/>
<path d="M915.0,212.0 L937.3,216.0 L935.0,232.3 L951.3,260.0 L952.5,264.7 L950.2,271.7 L949.0,278.0 L915.0,278.0 Z" fill="#e60000"/>
<path d="M926.0,214.0 L931.0,215.0 L930.0,222.0 L933.0,232.0 L937.0,242.0 L942.0,252.0 L947.0,259.0 L950.0,266.0 L947.0,268.0 L940.0,258.0 L934.0,246.0 L929.0,234.0 L926.0,224.0 Z" fill="#ff0000"/>
<path d="M933.5,217.0 L936.5,217.5 L935.5,226.0 L938.0,236.0 L942.0,244.0 L946.0,252.0 L948.5,257.0 L946.0,258.5 L942.5,252.0 L938.5,244.0 L935.0,236.0 L933.0,227.0 Z" fill="#ffbebe"/>
<path d="M934.2,219.0 L935.6,219.3 L935.2,226.0 L937.6,235.0 L941.0,243.0 L940.0,244.5 L936.5,236.5 L934.3,228.0 Z" fill="#fff"/>
<path d="M922.7,231.8 L923.5,232.4 L924.0,233.6 L923.6,234.8 L922.9,234.9 L922.1,235.1 L921.9,233.8 L921.9,232.3 Z M926.6,223.2 L927.7,223.4 L928.1,224.8 L927.5,225.7 L927.0,226.7 L926.0,226.4 L925.6,225.1 L925.8,223.9 Z M924.9,250.2 L925.8,249.9 L926.2,251.5 L926.4,252.8 L925.7,253.2 L925.1,252.9 L924.2,252.0 L924.2,250.5 Z M926.4,215.9 L926.7,216.8 L927.1,217.5 L926.4,218.0 L925.9,218.2 L925.5,217.9 L925.3,217.1 L925.7,216.4 Z M937.9,261.8 L938.3,262.5 L938.1,263.5 L937.3,264.0 L936.6,263.9 L935.4,263.6 L936.4,262.5 L936.9,261.1 Z M943.5,259.4 L944.5,261.1 L945.4,262.0 L945.2,263.6 L944.3,264.6 L942.9,264.5 L942.1,262.5 L942.7,260.9 Z M925.3,226.2 L923.8,228.3 L922.8,229.5 L921.1,230.6 L920.4,229.8 L919.8,228.9 L921.0,227.0 L923.0,226.8 Z" fill="#f41010"/>
<path d="M931.9,246.2 L932.6,246.5 L933.0,247.6 L933.4,248.9 L932.9,249.3 L932.2,249.4 L931.4,248.1 L931.7,247.0 Z M931.4,238.3 L930.6,239.6 L930.2,241.1 L928.2,242.0 L926.6,241.5 L926.9,239.8 L928.2,238.1 L930.4,237.4 Z M926.6,213.9 L926.9,215.1 L925.4,216.7 L924.2,217.8 L922.8,218.1 L923.2,216.7 L923.8,215.2 L925.4,213.8 Z M923.1,223.0 L924.4,222.6 L924.6,224.2 L924.3,225.4 L923.5,226.5 L921.9,226.3 L921.4,224.5 L921.6,222.6 Z M926.0,234.9 L927.3,235.9 L927.9,236.9 L927.8,238.0 L927.5,239.6 L926.0,239.3 L925.8,237.6 L925.4,236.3 Z M930.3,227.3 L931.2,228.4 L931.1,230.0 L931.1,231.6 L930.1,231.8 L929.4,231.1 L928.9,229.9 L928.9,227.7 Z M922.9,225.8 L923.3,226.8 L922.1,228.4 L920.5,229.5 L918.5,230.1 L918.1,228.4 L920.3,226.5 L922.1,225.1 Z M923.8,215.0 L924.7,215.5 L924.2,216.3 L923.6,216.9 L922.6,217.2 L922.5,216.1 L922.1,215.2 L923.0,214.7 Z M928.3,249.7 L929.0,250.1 L928.4,251.2 L927.4,251.6 L926.7,251.6 L926.5,250.9 L926.5,249.6 L927.8,248.9 Z M924.3,245.6 L925.3,246.3 L925.9,247.1 L926.1,248.3 L925.1,248.7 L923.9,248.9 L923.6,247.6 L923.2,246.2 Z" fill="#f01818"/>
<path d="M925.6,221.2 L926.4,222.4 L926.1,224.7 L924.7,225.9 L923.5,226.5 L923.1,225.2 L923.6,223.7 L924.4,222.7 Z M925.0,234.5 L925.9,234.5 L926.0,235.8 L925.5,236.6 L925.0,237.3 L924.4,236.8 L924.3,235.8 L924.6,235.0 Z M941.1,257.1 L941.0,258.4 L940.4,260.0 L938.9,260.9 L938.2,260.3 L937.8,259.6 L938.8,258.5 L939.7,257.7 Z M939.2,266.4 L940.2,266.8 L941.2,267.7 L940.6,268.8 L940.2,270.1 L938.9,269.9 L938.2,268.5 L938.2,266.9 Z M933.4,219.6 L933.9,220.2 L933.6,221.5 L932.3,221.6 L931.8,221.0 L931.2,220.4 L931.7,219.3 L932.9,218.9 Z" fill="#ff0000"/>
<path d="M940.4,268.6 L940.7,269.5 L940.0,270.9 L938.9,271.7 L937.9,271.7 L937.8,270.8 L938.3,269.5 L939.6,268.1 Z M938.2,262.8 L939.1,263.0 L938.4,264.6 L937.9,265.8 L937.0,266.4 L936.8,265.2 L936.9,264.1 L937.4,262.4 Z" fill="#fff"/>
<path d="M929.5,227.0 L930.0,227.7 L930.5,228.3 L930.4,229.4 L930.0,230.0 L929.5,229.3 L928.9,228.6 L929.2,227.7 Z M943.1,258.3 L943.0,258.8 L942.7,259.3 L942.1,259.5 L941.8,259.2 L941.6,258.7 L942.1,258.4 L942.6,258.1 Z M929.6,220.7 L929.8,221.0 L929.9,221.3 L929.8,221.8 L929.3,221.7 L929.0,221.5 L929.1,221.1 L929.3,220.9 Z" fill="#ffbebe"/>
<path d="M915.0,172.0 L946.7,175.8 L960.7,179.8 L958.3,192.7 L954.8,198.5 L953.7,206.7 L951.3,217.5 L937.3,216.0 L915.0,214.0 Z" fill="#ff7f7f"/>
<path d="M915.0,172.0 L938.5,175.5 L938.0,186.0 L936.5,196.0 L934.5,206.0 L932.5,215.0 L915.0,214.0 Z" fill="#ff0000"/>
<path d="M915.0,190.0 L930.0,190.0 L928.0,200.0 L926.0,208.0 L924.5,214.0 L915.0,214.0 Z" fill="#e60000"/>
<path d="M938.2,177.0 L941.5,177.5 L941.0,186.0 L939.5,196.0 L937.5,206.0 L935.5,214.5 L933.0,214.0 L934.8,204.0 L936.5,194.0 L937.6,185.0 Z" fill="#fff"/>
<path d="M936.2,196.0 L938.8,196.0 L937.0,206.0 L934.6,206.0 Z" fill="#ffbebe"/>
<path d="M945.5,180.5 L952.0,180.0 L954.5,185.5 L950.0,189.5 L945.5,187.5 Z" fill="#ff0000"/>
<path d="M941.8,186.0 L944.0,185.0 L944.5,192.0 L942.0,192.5 Z" fill="#ffbebe"/>
<path d="M955.6,200.9 L956.6,202.2 L954.1,204.6 L951.2,205.8 L949.7,205.2 L948.9,203.6 L951.7,201.3 L954.9,199.3 Z M941.5,201.7 L941.8,202.6 L940.6,204.0 L938.8,204.8 L938.5,203.8 L938.2,203.1 L939.3,202.2 L940.6,201.2 Z M950.6,209.4 L950.3,211.3 L949.1,213.0 L947.0,214.1 L946.0,212.8 L945.9,211.5 L946.8,209.9 L948.7,209.2 Z M947.7,208.3 L948.3,209.5 L947.8,210.7 L947.6,212.2 L946.5,212.2 L945.9,211.3 L946.2,210.1 L946.5,208.7 Z M943.3,203.3 L944.1,203.1 L944.6,204.4 L944.0,205.3 L943.5,206.4 L942.7,205.7 L942.3,204.6 L942.5,203.2 Z M942.1,208.5 L942.5,209.5 L941.3,211.1 L940.2,212.8 L939.7,211.9 L939.5,211.3 L939.9,210.2 L940.8,209.2 Z M943.6,197.8 L943.9,198.8 L942.3,199.8 L941.2,200.6 L939.7,200.8 L940.4,199.4 L941.2,198.4 L942.4,197.9 Z M945.7,203.5 L945.6,204.4 L945.2,205.8 L943.6,206.2 L942.4,205.9 L942.2,204.6 L943.3,203.1 L944.8,203.2 Z M948.9,201.4 L950.3,201.3 L950.8,203.4 L950.5,205.3 L949.4,206.4 L947.8,206.0 L947.9,203.7 L948.1,202.3 Z M952.5,196.8 L953.3,198.5 L952.4,200.6 L951.2,202.3 L949.9,201.7 L948.4,201.1 L949.9,199.2 L950.7,197.5 Z M951.5,211.6 L952.2,213.4 L952.0,215.3 L951.4,216.8 L950.4,217.5 L949.4,217.0 L949.6,214.9 L949.9,212.1 Z M952.0,201.9 L951.6,203.6 L950.2,204.6 L948.7,205.3 L946.3,205.4 L946.9,203.3 L948.3,201.4 L950.3,201.8 Z M940.8,192.8 L942.1,193.3 L943.2,194.9 L943.0,196.7 L942.5,198.3 L941.2,197.2 L940.7,195.7 L940.6,194.5 Z M944.5,197.7 L945.0,198.8 L944.1,200.3 L943.5,201.6 L942.6,201.8 L942.4,200.7 L942.5,199.5 L943.3,198.1 Z M953.8,203.3 L954.4,205.2 L954.1,208.2 L951.9,209.5 L950.2,210.9 L949.9,208.9 L950.4,206.5 L952.0,204.8 Z M951.1,200.7 L951.7,201.6 L952.6,202.3 L952.0,203.4 L951.2,203.7 L950.4,203.2 L949.8,202.3 L950.3,201.3 Z M951.5,209.9 L951.3,212.2 L951.1,214.4 L949.3,215.5 L947.2,216.4 L947.2,214.2 L947.1,211.7 L949.4,210.1 Z M947.2,206.5 L948.0,206.9 L947.8,207.8 L947.3,208.4 L946.4,209.2 L945.9,208.1 L945.5,207.1 L946.4,206.7 Z M951.6,201.7 L952.7,202.3 L952.6,203.9 L952.8,205.3 L951.8,206.2 L951.1,204.8 L950.5,203.9 L951.1,203.1 Z M954.7,199.0 L955.6,199.6 L955.1,200.8 L954.7,201.9 L953.7,201.6 L953.2,201.0 L953.2,200.0 L953.7,199.1 Z M944.4,212.9 L945.3,213.8 L946.4,214.9 L946.1,216.9 L944.8,217.9 L943.2,217.3 L942.5,215.2 L943.3,213.5 Z M949.9,201.1 L950.8,201.3 L951.0,202.7 L951.5,204.0 L950.8,204.5 L950.1,204.1 L949.3,203.1 L949.5,202.0 Z M940.9,203.1 L941.9,202.8 L942.8,203.6 L942.0,204.5 L941.6,205.4 L940.7,205.2 L940.1,204.4 L940.1,203.4 Z M946.0,197.1 L946.8,197.6 L947.4,198.8 L946.3,199.5 L945.3,200.8 L944.7,199.3 L944.6,198.2 L945.2,197.5 Z" fill="#ff0000"/>
<path d="M952.2,212.6 L953.5,212.9 L952.7,215.6 L950.9,217.9 L948.9,218.7 L948.8,216.3 L949.5,213.8 L951.2,211.9 Z M949.8,194.6 L950.8,194.1 L951.8,195.6 L951.6,197.2 L951.3,199.1 L950.0,197.5 L948.5,196.7 L948.3,194.4 Z M941.4,211.9 L942.3,213.3 L940.6,214.9 L938.8,215.0 L937.4,214.6 L936.8,213.2 L938.3,211.5 L940.5,210.6 Z M939.4,207.2 L940.7,207.9 L941.3,210.1 L941.0,212.8 L939.6,213.5 L938.1,212.8 L938.3,210.2 L938.4,208.4 Z M945.0,196.1 L944.5,197.6 L944.5,198.9 L943.0,199.9 L941.9,199.1 L941.5,197.9 L942.5,196.9 L943.5,196.2 Z M946.1,213.1 L947.2,213.8 L947.0,215.5 L946.2,216.8 L945.2,216.6 L944.5,216.0 L943.5,214.6 L944.9,213.4 Z" fill="#f01818"/>
<path d="M941.1,210.3 L941.9,210.6 L942.3,211.2 L942.1,211.8 L941.7,212.4 L941.0,212.1 L940.7,211.6 L940.5,210.9 Z M950.7,199.9 L951.7,200.6 L952.3,202.2 L952.6,204.2 L951.7,204.2 L950.8,204.2 L950.1,202.7 L949.8,200.6 Z M950.7,205.4 L951.5,205.6 L951.9,206.7 L951.9,208.1 L951.1,209.5 L950.0,208.5 L949.0,207.0 L950.0,205.8 Z M955.4,197.3 L955.5,198.3 L955.1,199.4 L954.4,201.2 L953.5,200.6 L953.0,199.8 L953.4,198.4 L954.4,197.9 Z M943.9,197.4 L944.3,198.3 L944.4,199.6 L943.7,201.1 L942.7,202.0 L942.2,200.8 L942.5,199.1 L943.1,197.7 Z" fill="#fff"/>
<path d="M944.0,208.6 L944.5,208.9 L944.8,209.7 L944.8,210.8 L943.9,211.1 L943.1,210.9 L943.3,209.7 L943.1,208.5 Z M952.7,193.8 L953.1,194.4 L953.0,195.9 L951.8,196.6 L950.8,197.0 L950.4,196.0 L950.6,194.5 L951.9,193.2 Z M944.8,210.2 L944.7,211.6 L944.5,212.5 L943.7,213.7 L942.8,212.8 L942.5,212.0 L942.4,210.9 L943.5,210.6 Z" fill="#ffbebe"/>
<path d="M952.2,181.1 L952.7,181.2 L952.6,182.0 L952.1,182.4 L951.7,182.8 L951.5,182.2 L951.4,181.6 L951.7,180.9 Z M949.8,188.8 L949.4,190.0 L949.2,190.7 L948.5,191.5 L947.5,191.3 L947.6,190.3 L947.8,189.4 L948.7,189.0 Z M951.3,191.2 L951.2,192.0 L950.8,192.8 L950.0,193.2 L949.3,193.1 L949.1,192.4 L949.4,191.4 L950.4,191.3 Z M953.2,181.7 L953.7,181.7 L954.1,182.1 L954.0,182.7 L953.6,183.1 L952.9,183.2 L952.7,182.5 L952.7,181.9 Z M956.5,183.2 L956.1,184.6 L955.5,185.5 L954.5,186.5 L953.4,186.1 L953.6,184.9 L953.7,183.4 L955.1,183.2 Z" fill="#ff0000"/>
<path d="M950.2,189.0 L949.3,190.3 L948.7,191.3 L947.0,192.7 L946.3,191.9 L946.9,190.8 L947.4,189.5 L949.0,188.9 Z M954.3,185.7 L954.5,186.2 L954.4,187.2 L953.4,187.4 L952.2,187.6 L952.8,186.4 L953.1,185.8 L954.0,184.8 Z M954.1,179.3 L954.4,179.7 L954.0,180.4 L953.4,181.0 L952.7,181.1 L952.8,180.4 L952.9,179.6 L953.7,179.0 Z" fill="#ffbebe"/>
<path d="M935.2,198.9 L935.5,199.2 L935.4,199.9 L934.8,200.2 L934.4,200.1 L934.2,199.8 L934.3,199.2 L934.8,198.8 Z M933.8,198.4 L934.5,198.5 L934.4,199.6 L933.9,200.3 L933.2,201.1 L932.8,200.2 L932.9,199.3 L933.2,198.2 Z M931.7,189.0 L932.3,189.7 L930.7,190.8 L929.3,191.2 L927.9,191.2 L928.8,190.0 L929.5,188.7 L930.9,188.8 Z M932.9,175.3 L934.0,175.6 L933.1,176.6 L932.5,177.5 L931.4,177.5 L931.0,176.5 L931.1,175.2 L932.3,175.1 Z M929.1,206.0 L929.9,206.1 L930.0,207.1 L929.3,207.7 L928.4,208.1 L928.0,207.2 L927.9,206.4 L928.4,205.8 Z" fill="#ff7f7f"/>
<path d="M932.4,184.6 L932.9,185.0 L932.3,186.0 L931.8,186.8 L931.3,186.7 L930.6,186.5 L931.3,185.5 L931.8,184.7 Z M934.8,183.5 L935.5,183.9 L935.1,185.5 L934.1,186.4 L933.4,186.5 L932.4,186.5 L933.3,184.7 L934.1,182.9 Z" fill="#ffbebe"/>
<path d="M930.8,207.2 L931.2,208.0 L930.5,208.9 L929.6,209.4 L928.6,209.5 L928.6,208.5 L929.2,207.6 L930.0,207.0 Z" fill="#fff"/>
<path d="M958.3,192.7 L960.7,179.8 L963.0,180.4 L963.6,188.0 L965.3,196.2 L968.8,203.2 L970.0,207.2 L975.8,207.2 L973.5,223.6 L951.3,217.5 L953.7,206.7 L954.8,198.5 Z" fill="#ffbebe"/>
<path d="M960.0,183.0 L962.5,184.0 L963.5,192.0 L961.0,194.0 L959.5,189.0 Z" fill="#fff"/>
<path d="M962.0,198.0 L967.0,205.0 L970.0,209.0 L968.0,215.0 L962.0,212.0 L958.0,204.0 Z" fill="#fff"/>
<path d="M953.5,208.0 L957.0,207.0 L962.0,212.0 L968.0,218.0 L971.0,222.5 L966.0,221.5 L960.0,218.0 L955.0,213.5 Z" fill="#ff0000"/>
<path d="M956.0,199.0 L959.0,197.0 L961.0,202.0 L958.0,205.0 Z" fill="#ff7f7f"/>
<path d="M958.2,200.5 L958.6,200.7 L958.8,201.4 L958.7,202.4 L958.2,202.2 L957.6,202.2 L957.4,201.3 L957.6,200.3 Z M955.3,213.1 L955.8,213.2 L956.0,214.0 L955.7,214.9 L955.2,214.8 L954.6,215.0 L954.8,214.0 L954.8,213.0 Z M960.4,213.2 L960.4,213.9 L960.3,214.5 L959.7,214.8 L959.3,214.6 L959.0,214.2 L959.4,213.7 L959.7,213.0 Z M965.8,206.2 L966.8,206.7 L966.5,208.5 L965.6,209.4 L964.8,209.9 L963.6,209.7 L963.8,207.7 L964.7,206.0 Z M960.8,206.3 L961.8,205.9 L961.8,207.8 L961.6,209.0 L961.0,209.5 L959.9,210.0 L959.3,207.9 L960.0,206.2 Z M955.3,206.7 L955.4,207.1 L955.0,207.5 L954.4,207.9 L953.6,207.9 L953.6,207.2 L954.3,206.6 L954.9,206.6 Z M962.6,190.5 L962.4,191.3 L961.7,192.0 L960.9,192.6 L960.1,192.6 L960.4,191.8 L960.9,191.0 L961.9,190.3 Z M957.8,193.0 L958.2,193.0 L958.6,193.7 L958.4,194.3 L958.3,195.2 L957.6,194.9 L957.5,193.9 L957.4,193.1 Z M970.9,216.9 L971.0,217.5 L970.8,218.4 L969.8,218.7 L969.2,218.5 L968.7,217.9 L969.2,216.8 L970.3,216.4 Z" fill="#fff"/>
<path d="M957.1,201.8 L957.8,203.0 L958.5,204.5 L958.0,206.3 L957.1,206.9 L956.4,205.8 L956.3,204.5 L956.0,202.2 Z M957.9,192.4 L957.8,193.5 L956.7,195.1 L954.9,195.5 L953.6,195.3 L953.5,194.2 L955.1,192.7 L956.7,192.3 Z M962.3,206.5 L962.7,206.9 L962.6,207.6 L962.0,208.0 L961.6,208.1 L961.4,207.7 L961.3,207.1 L961.8,206.6 Z" fill="#ff7f7f"/>
<path d="M967.3,204.9 L967.8,204.4 L968.2,205.6 L968.1,206.6 L967.7,206.9 L967.3,206.6 L966.6,206.0 L966.6,204.7 Z M975.9,206.1 L975.6,207.8 L975.5,209.5 L973.7,211.1 L973.0,209.8 L972.4,209.1 L973.1,207.7 L974.3,206.2 Z" fill="#ff0000"/>
<path d="M964.5,182.0 L969.0,183.0 L968.0,188.0 L965.0,187.5 Z" fill="#ffbebe"/>
<path d="M948.7,167.2 L953.0,163.0 L957.0,166.0 L959.4,172.0 L958.0,178.8 L952.0,177.0 Z" fill="#ffe0e0"/>
<path d="M943.0,170.0 L946.0,166.0 L948.0,172.0 L945.0,176.0 Z" fill="#ffe0e0"/>
<path d="M936.0,170.0 L941.0,171.0 L942.0,176.5 L936.0,177.0 Z" fill="#ff0000"/>
<path d="M924.0,157.0 L940.0,157.0 L940.0,182.0 L924.0,182.0 Z" fill="#f6a0a0"/>
<path d="M931.0,166.0 L936.0,168.0 L939.0,178.0 L936.0,180.5 L932.0,174.0 Z" fill="#ff0000"/>
<path d="M928.0,128.0 L932.0,128.0 L936.0,150.0 L940.0,168.0 L936.0,168.0 L931.0,150.0 Z" fill="#ffd6d6"/>
<path d="M925.0,120.0 L930.0,120.0 L931.0,135.0 L927.0,135.0 Z" fill="#ffd0d0"/>
<path d="M991.6,293.5 L992.3,294.3 L992.5,295.6 L991.8,296.8 L990.8,297.6 L990.2,296.4 L989.9,295.1 L990.7,294.0 Z M999.2,287.7 L999.9,287.8 L999.5,288.9 L998.8,289.6 L998.4,289.4 L997.8,289.3 L998.4,288.4 L998.8,287.3 Z M1000.3,289.8 L1001.0,290.3 L1001.1,291.5 L1000.5,292.7 L999.5,292.8 L998.7,292.3 L999.2,291.0 L999.3,289.5 Z M998.2,285.8 L998.9,286.7 L997.8,288.0 L996.5,289.2 L995.9,288.2 L994.8,287.7 L996.2,286.6 L997.3,285.0 Z M996.2,290.2 L997.3,290.6 L997.4,292.1 L997.7,293.5 L996.7,293.5 L995.8,293.9 L995.3,292.5 L995.6,291.3 Z M991.0,289.4 L991.5,290.2 L991.4,291.5 L991.0,292.8 L990.4,292.7 L990.0,292.3 L990.1,291.3 L990.4,290.6 Z" fill="#ff7f7f"/>
<path d="M996.2,296.8 L997.0,297.4 L997.7,298.7 L997.6,300.6 L996.5,301.8 L995.5,300.4 L994.5,298.8 L995.2,297.0 Z M993.2,290.7 L993.8,290.8 L994.1,291.5 L994.1,292.3 L993.6,292.7 L993.0,292.5 L992.8,291.7 L992.7,291.0 Z" fill="#ff4040"/>
<path d="M1024.3,229.8 L1023.7,230.5 L1022.4,230.7 L1021.5,230.3 L1021.1,229.8 L1021.2,229.2 L1022.4,228.9 L1023.7,229.1 Z M1057.4,225.0 L1057.2,225.8 L1056.4,226.2 L1055.6,225.9 L1055.0,225.2 L1055.3,224.2 L1056.3,223.6 L1057.3,224.0 Z M1052.8,229.0 L1052.6,230.4 L1050.5,230.8 L1048.3,230.8 L1048.3,229.3 L1048.4,227.9 L1050.3,227.2 L1052.4,227.6 Z M1061.8,230.3 L1060.9,231.1 L1059.8,231.3 L1058.2,231.4 L1058.0,230.5 L1058.4,229.7 L1059.7,229.6 L1060.6,229.8 Z M1035.6,227.0 L1034.5,227.6 L1033.7,228.0 L1032.1,228.5 L1032.4,227.6 L1032.6,227.1 L1033.3,226.3 L1034.7,226.5 Z M1032.6,229.8 L1032.2,230.4 L1030.5,230.2 L1029.1,229.4 L1029.5,228.8 L1030.1,228.5 L1031.0,228.7 L1032.6,229.0 Z M1045.4,226.5 L1045.7,227.6 L1043.5,228.9 L1041.3,228.6 L1040.6,227.8 L1041.1,226.8 L1042.7,226.0 L1045.2,225.3 Z M1023.6,227.3 L1023.7,228.2 L1022.5,228.3 L1021.7,228.0 L1021.4,227.5 L1021.6,227.0 L1022.4,226.8 L1023.2,226.8 Z M1031.6,228.1 L1031.5,228.5 L1030.9,229.0 L1029.8,229.2 L1029.4,228.6 L1029.9,227.9 L1030.6,227.6 L1031.4,227.6 Z M1018.9,232.9 L1017.7,233.4 L1016.2,233.9 L1015.2,232.8 L1013.5,231.7 L1015.2,231.2 L1016.8,231.2 L1018.3,231.8 Z M1001.2,228.7 L1001.2,229.1 L1000.6,229.2 L1000.0,229.4 L999.6,228.9 L999.9,228.5 L1000.5,228.3 L1001.1,228.2 Z M1036.9,230.2 L1036.8,231.0 L1035.9,231.0 L1035.1,231.0 L1034.7,230.4 L1034.7,229.5 L1035.7,229.4 L1036.8,229.4 Z M1033.9,232.7 L1033.6,233.6 L1032.7,233.8 L1031.7,233.8 L1031.5,232.8 L1031.9,232.1 L1032.6,231.7 L1033.5,231.9 Z M1027.1,232.9 L1026.5,233.5 L1025.5,233.6 L1024.4,233.5 L1024.0,232.8 L1024.2,232.1 L1025.5,231.9 L1026.8,232.2 Z M1043.4,226.1 L1043.0,226.4 L1042.4,226.7 L1042.2,226.1 L1042.1,225.7 L1042.4,225.5 L1042.8,225.3 L1043.3,225.6 Z" fill="#ffbebe"/>
<path d="M1010.0,234.5 L1009.2,234.9 L1008.3,235.0 L1007.5,234.8 L1007.2,234.3 L1007.7,234.0 L1008.4,233.6 L1009.4,234.0 Z M1011.3,229.1 L1010.2,230.3 L1009.0,232.1 L1006.8,231.6 L1006.1,230.8 L1005.9,229.8 L1008.0,229.1 L1009.8,228.7 Z M1051.7,229.6 L1051.4,230.8 L1050.1,230.5 L1049.3,230.0 L1049.0,229.2 L1049.2,228.2 L1050.5,227.9 L1051.4,228.7 Z M1006.6,235.2 L1007.0,236.4 L1005.0,236.8 L1003.3,236.5 L1001.8,235.7 L1002.9,234.4 L1004.7,233.6 L1006.1,234.5 Z M1045.0,227.0 L1045.0,227.6 L1044.3,227.8 L1043.7,227.5 L1043.5,227.1 L1043.7,226.6 L1044.3,226.4 L1044.8,226.6 Z M1046.7,231.1 L1046.2,231.5 L1045.6,231.4 L1044.9,231.3 L1045.2,230.7 L1045.2,229.9 L1046.1,229.8 L1046.5,230.4 Z M1020.9,233.2 L1021.0,234.2 L1019.9,234.6 L1019.0,234.6 L1018.3,234.1 L1018.6,233.3 L1019.2,232.7 L1020.3,232.5 Z M1008.6,234.7 L1008.4,235.0 L1007.9,235.3 L1007.1,234.9 L1007.3,234.4 L1007.4,233.8 L1008.2,233.7 L1008.8,234.2 Z M1001.5,234.4 L1000.7,234.8 L1000.3,235.5 L999.3,235.2 L999.1,234.6 L999.3,234.0 L1000.1,233.6 L1000.8,234.0 Z M1022.2,227.7 L1021.3,228.6 L1020.1,228.5 L1019.4,228.0 L1019.0,227.2 L1019.5,226.4 L1020.6,226.1 L1021.8,226.5 Z M1008.9,231.5 L1007.7,231.7 L1006.6,232.1 L1005.3,231.3 L1005.5,230.5 L1005.4,229.4 L1007.2,229.9 L1008.0,230.7 Z M1050.0,225.9 L1049.5,226.9 L1048.1,227.3 L1046.9,226.6 L1046.4,225.6 L1047.2,224.9 L1048.3,224.6 L1049.1,225.2 Z M1020.8,230.1 L1019.6,230.8 L1018.4,231.1 L1017.7,230.1 L1017.8,229.1 L1018.1,228.0 L1019.4,228.2 L1020.4,228.8 Z M1025.2,226.3 L1025.0,227.2 L1024.1,228.5 L1022.1,228.7 L1022.0,227.4 L1022.0,226.5 L1023.2,225.8 L1024.4,225.9 Z M1054.2,227.0 L1053.4,227.4 L1052.4,227.6 L1051.0,227.2 L1051.4,226.3 L1051.9,225.9 L1052.9,225.8 L1053.7,226.3 Z" fill="#fff"/>
<path d="M1030.9,246.1 L1030.6,247.2 L1029.0,247.5 L1027.4,246.6 L1027.6,245.3 L1028.4,244.5 L1029.9,243.9 L1031.7,244.7 Z M1018.5,243.6 L1018.1,244.2 L1016.9,244.2 L1016.2,244.1 L1015.6,243.8 L1015.9,243.3 L1016.8,243.0 L1017.7,243.3 Z M1079.8,237.5 L1079.0,238.5 L1077.5,238.3 L1076.3,238.3 L1075.4,237.5 L1076.0,236.5 L1077.5,236.5 L1078.9,236.4 Z M1012.0,247.8 L1011.4,248.4 L1010.1,248.9 L1009.2,248.3 L1008.9,247.9 L1009.0,247.4 L1010.0,246.8 L1010.9,247.4 Z M1065.1,238.8 L1062.6,239.5 L1060.9,240.6 L1058.7,239.6 L1058.0,238.4 L1058.5,237.1 L1061.1,236.8 L1063.9,237.3 Z M1084.4,240.4 L1084.3,240.9 L1083.9,241.7 L1083.2,241.3 L1082.4,241.0 L1083.0,240.4 L1083.4,240.0 L1084.0,240.0 Z M1017.8,242.1 L1015.9,243.2 L1014.7,244.3 L1012.8,243.9 L1011.7,243.3 L1011.7,242.1 L1014.2,241.9 L1015.5,241.9 Z M1020.4,240.7 L1020.8,241.8 L1018.5,242.7 L1016.6,242.7 L1014.6,242.4 L1015.0,240.8 L1017.7,240.0 L1020.4,239.3 Z M1045.5,246.2 L1045.2,247.0 L1044.3,247.6 L1043.8,246.6 L1042.9,245.8 L1043.8,245.1 L1044.8,244.6 L1045.6,245.3 Z M1010.5,243.2 L1010.6,243.7 L1009.7,244.0 L1009.0,243.8 L1008.4,243.4 L1008.7,242.8 L1009.6,242.7 L1010.1,243.0 Z M1010.1,242.1 L1008.2,243.2 L1006.4,243.9 L1004.0,243.6 L1003.2,242.4 L1003.7,241.1 L1006.2,241.2 L1008.5,241.0 Z M1012.4,245.6 L1010.7,246.0 L1009.4,246.4 L1008.1,245.8 L1007.9,245.1 L1008.5,244.7 L1009.7,243.9 L1010.9,244.8 Z M1070.7,239.1 L1071.1,240.5 L1068.5,241.0 L1066.2,240.6 L1066.3,239.3 L1066.9,238.5 L1068.4,238.0 L1069.9,238.3 Z M1085.9,241.5 L1085.2,242.1 L1084.5,242.4 L1083.7,242.7 L1083.0,242.5 L1083.3,241.8 L1084.2,241.6 L1085.1,241.2 Z M1027.0,243.7 L1026.8,244.2 L1026.0,244.3 L1024.9,244.4 L1025.1,243.6 L1025.3,243.2 L1026.0,243.0 L1027.2,242.8 Z M1014.1,241.3 L1013.6,242.0 L1012.5,243.2 L1010.9,242.3 L1009.9,241.3 L1011.3,240.6 L1012.5,239.7 L1014.3,240.1 Z M1011.7,246.6 L1010.6,247.8 L1009.6,249.3 L1007.9,248.7 L1007.1,247.6 L1007.6,246.4 L1008.8,245.4 L1010.6,245.5 Z M1055.9,239.6 L1055.3,239.9 L1054.6,240.3 L1053.9,239.8 L1053.6,239.4 L1054.0,239.0 L1054.8,238.6 L1055.3,239.2 Z M1062.9,246.7 L1061.8,247.5 L1060.6,247.4 L1059.4,247.1 L1059.1,246.2 L1059.9,245.7 L1060.8,245.4 L1061.9,245.7 Z M1022.5,247.1 L1022.8,248.0 L1021.3,249.0 L1019.6,248.8 L1018.7,248.2 L1019.1,247.2 L1020.4,246.2 L1022.7,245.7 Z M1007.2,243.0 L1006.2,243.8 L1004.0,243.8 L1002.4,242.7 L1002.2,241.7 L1003.3,241.4 L1004.8,240.8 L1006.8,241.8 Z M1028.7,248.0 L1028.4,248.4 L1028.0,248.6 L1027.6,248.3 L1027.4,248.0 L1027.4,247.4 L1028.1,247.3 L1028.7,247.5 Z M1083.9,238.0 L1083.1,238.5 L1082.2,239.4 L1081.1,238.7 L1080.5,238.1 L1080.7,237.2 L1082.2,237.0 L1083.8,237.1 Z M1035.7,240.8 L1034.9,241.5 L1033.8,241.1 L1032.7,240.9 L1032.1,239.7 L1033.5,239.5 L1034.5,238.7 L1034.9,239.9 Z M1077.1,241.3 L1076.7,242.0 L1075.4,242.1 L1074.4,242.0 L1073.9,241.6 L1074.1,241.0 L1075.2,240.6 L1076.7,240.6 Z M1060.4,245.5 L1059.7,246.5 L1057.6,247.2 L1056.1,246.4 L1053.4,245.7 L1054.9,244.4 L1057.5,244.4 L1059.2,244.7 Z M1039.3,242.9 L1038.7,243.3 L1037.8,243.4 L1037.1,242.8 L1037.1,242.3 L1037.5,242.1 L1038.2,241.9 L1039.1,242.2 Z M1083.4,236.5 L1083.1,237.5 L1081.9,237.9 L1080.9,237.4 L1079.9,236.7 L1080.6,235.7 L1081.7,235.5 L1082.7,235.7 Z" fill="#ff7f7f"/>
<path d="M1074.7,244.4 L1074.7,245.4 L1073.4,245.3 L1072.2,245.4 L1071.8,244.5 L1072.4,243.8 L1073.3,243.6 L1074.1,243.9 Z M1013.8,248.1 L1013.0,248.8 L1011.6,249.4 L1009.8,248.9 L1008.8,247.9 L1010.3,247.2 L1011.7,246.8 L1013.0,247.4 Z M1039.4,239.9 L1036.6,240.6 L1034.9,241.2 L1031.8,241.3 L1032.0,239.9 L1031.8,238.5 L1034.9,238.2 L1037.3,238.7 Z M1084.7,238.4 L1084.1,239.0 L1083.1,239.1 L1082.8,238.3 L1082.2,237.8 L1082.7,237.2 L1083.6,237.4 L1084.1,237.8 Z M1009.3,245.7 L1009.2,246.7 L1007.9,247.9 L1006.5,247.0 L1004.6,246.5 L1005.4,245.0 L1007.4,244.9 L1009.3,244.4 Z M1083.3,243.8 L1083.2,244.4 L1082.2,244.3 L1081.1,244.0 L1081.4,243.3 L1081.9,243.1 L1082.6,242.6 L1083.6,243.1 Z M1071.9,242.4 L1069.8,243.4 L1067.9,243.8 L1065.7,243.6 L1064.9,242.4 L1066.0,241.3 L1067.9,240.7 L1069.3,241.6 Z M1058.1,239.0 L1058.0,240.0 L1056.9,240.7 L1055.7,240.5 L1054.9,239.8 L1055.5,239.0 L1056.4,238.6 L1057.4,238.4 Z M1055.2,240.4 L1055.3,240.9 L1054.2,240.7 L1053.5,240.2 L1053.0,239.6 L1053.7,239.4 L1054.5,239.7 L1055.1,240.0 Z M1085.6,244.2 L1085.8,245.4 L1083.5,246.4 L1081.6,246.6 L1079.7,246.3 L1081.2,245.0 L1082.5,243.6 L1084.8,243.3 Z M1075.0,245.3 L1074.9,246.6 L1073.3,246.4 L1071.8,246.7 L1071.8,245.5 L1072.3,244.6 L1073.3,244.4 L1074.7,244.1 Z M1056.4,241.5 L1056.3,242.3 L1055.4,242.6 L1054.5,242.7 L1054.1,241.9 L1054.2,240.9 L1055.0,240.3 L1055.9,240.8 Z" fill="#ffbebe"/>
<path d="M1076.2,248.9 L1075.9,249.7 L1075.0,249.6 L1073.8,249.7 L1073.9,248.6 L1074.2,247.6 L1075.3,247.4 L1076.4,247.9 Z M1008.8,254.9 L1008.9,255.6 L1008.3,256.0 L1007.7,255.8 L1006.9,255.6 L1007.0,254.7 L1007.8,254.4 L1008.3,254.6 Z M1022.5,252.8 L1021.6,254.5 L1019.5,255.7 L1017.6,255.4 L1015.5,255.1 L1016.2,253.5 L1018.4,252.3 L1020.1,252.7 Z M1099.3,244.2 L1097.1,245.0 L1095.5,245.8 L1092.8,245.8 L1092.6,244.5 L1093.3,243.5 L1095.3,242.9 L1097.7,243.2 Z M1029.1,254.3 L1028.2,255.6 L1027.1,256.4 L1025.9,256.0 L1025.0,255.3 L1025.1,254.2 L1026.4,253.7 L1027.4,253.9 Z M1082.8,252.4 L1081.9,253.4 L1080.1,253.4 L1078.5,252.8 L1077.6,251.6 L1078.4,250.4 L1080.7,250.1 L1082.5,251.2 Z M1021.0,253.4 L1020.2,253.9 L1019.0,254.2 L1018.0,253.4 L1018.1,252.7 L1018.3,252.1 L1019.5,252.1 L1020.4,252.6 Z M1021.9,257.0 L1021.4,258.3 L1019.7,259.2 L1017.2,260.2 L1016.0,259.1 L1016.5,257.5 L1018.9,256.8 L1020.9,256.1 Z M1088.1,250.8 L1086.3,251.2 L1084.9,251.2 L1084.1,250.3 L1084.1,249.3 L1084.2,247.8 L1086.2,247.8 L1087.2,249.3 Z M1062.1,249.1 L1062.2,249.9 L1060.7,249.8 L1059.2,249.6 L1059.4,248.9 L1059.5,248.2 L1060.8,248.3 L1062.2,248.5 Z M1056.9,251.7 L1056.7,252.2 L1055.9,252.4 L1055.0,252.2 L1054.5,251.7 L1054.9,251.1 L1055.9,250.9 L1057.0,251.1 Z M1025.8,255.7 L1026.1,257.1 L1024.7,257.6 L1023.3,258.1 L1023.3,256.7 L1022.6,255.6 L1023.6,254.6 L1025.0,254.9 Z M1082.4,250.4 L1082.1,251.0 L1081.3,250.9 L1080.3,250.9 L1080.6,250.3 L1080.6,249.8 L1081.3,249.8 L1082.2,249.9 Z M1085.9,248.7 L1086.3,249.9 L1084.1,250.7 L1081.8,251.1 L1081.5,249.9 L1081.9,248.9 L1083.4,248.1 L1085.6,247.4 Z M1097.2,249.5 L1096.5,250.2 L1095.4,250.4 L1094.0,249.9 L1094.0,248.6 L1094.9,247.9 L1096.0,248.0 L1097.4,248.2 Z M1020.1,252.2 L1019.5,252.8 L1018.5,253.2 L1017.8,253.0 L1016.5,252.8 L1017.3,252.1 L1018.3,251.7 L1019.2,251.8 Z M1033.0,255.0 L1032.8,255.7 L1031.8,255.9 L1030.6,256.0 L1029.4,255.4 L1029.9,254.2 L1031.5,253.6 L1033.1,254.0 Z M1059.5,253.6 L1058.3,254.8 L1055.7,254.1 L1053.8,253.9 L1052.4,252.7 L1053.3,251.4 L1056.1,251.4 L1058.1,252.4 Z M1083.4,249.5 L1082.7,250.9 L1081.4,251.1 L1080.2,251.4 L1079.9,250.2 L1079.5,249.0 L1080.8,248.6 L1082.4,248.1 Z M1089.8,248.0 L1089.3,248.8 L1088.1,249.0 L1087.1,248.3 L1087.1,247.3 L1087.7,246.6 L1088.7,246.8 L1089.7,247.1 Z M1054.8,252.7 L1053.2,253.2 L1052.0,253.1 L1050.8,252.7 L1050.6,251.6 L1050.9,250.3 L1052.8,250.1 L1054.5,251.2 Z M1096.0,248.1 L1095.3,249.3 L1093.6,249.8 L1092.4,249.1 L1091.7,248.2 L1092.4,247.4 L1093.5,247.0 L1095.0,247.1 Z" fill="#ff7f7f"/>
<path d="M1045.8,255.1 L1045.4,255.5 L1044.8,255.5 L1044.2,255.5 L1043.8,255.0 L1044.3,254.6 L1044.9,254.5 L1045.5,254.6 Z M1011.5,257.7 L1011.2,258.3 L1009.8,258.5 L1008.7,258.0 L1007.6,257.3 L1008.1,256.4 L1010.1,256.2 L1012.0,256.7 Z M1097.8,247.1 L1097.1,247.9 L1096.0,248.3 L1094.7,248.4 L1093.6,248.0 L1093.6,246.8 L1095.5,246.0 L1097.4,246.2 Z M1054.8,251.0 L1053.9,251.4 L1053.2,251.6 L1051.9,251.7 L1051.6,250.9 L1052.1,250.3 L1053.2,249.8 L1054.2,250.3 Z M1014.2,258.8 L1014.0,260.3 L1012.5,260.2 L1011.0,260.7 L1010.5,259.4 L1010.4,257.8 L1012.1,257.4 L1013.0,258.2 Z M1040.6,256.2 L1040.2,256.9 L1039.0,257.2 L1037.9,256.7 L1038.0,255.8 L1038.2,255.1 L1039.3,255.2 L1040.4,255.4 Z M1054.3,249.6 L1053.3,250.2 L1052.0,250.1 L1050.6,250.1 L1049.8,249.2 L1051.2,248.7 L1052.2,248.3 L1053.6,248.6 Z M1074.1,246.0 L1073.4,247.2 L1071.8,248.3 L1069.9,247.9 L1068.3,247.1 L1069.1,245.6 L1071.2,245.2 L1072.8,245.3 Z M1087.3,251.4 L1087.1,252.1 L1086.1,252.6 L1085.2,251.8 L1084.4,251.0 L1085.1,250.3 L1086.4,250.1 L1087.1,250.8 Z M1033.2,254.5 L1033.2,255.4 L1031.8,256.2 L1029.9,256.3 L1029.9,255.3 L1030.1,254.6 L1031.1,253.8 L1032.9,253.6 Z M1073.6,246.8 L1073.5,247.3 L1072.5,247.4 L1071.5,247.1 L1070.9,246.5 L1071.7,246.0 L1072.7,245.5 L1073.6,246.2 Z M1085.2,251.6 L1084.8,252.1 L1084.0,252.0 L1083.4,251.9 L1083.5,251.4 L1083.6,251.0 L1084.2,251.0 L1085.0,250.9 Z M1042.2,256.7 L1041.4,257.5 L1040.0,257.7 L1039.2,256.7 L1038.6,255.8 L1039.8,255.5 L1040.6,255.5 L1041.8,255.7 Z M1020.6,253.2 L1020.5,254.0 L1019.4,254.3 L1018.5,254.3 L1017.9,253.9 L1017.8,253.2 L1019.0,252.9 L1020.0,252.7 Z M1013.7,256.1 L1013.2,257.0 L1012.0,257.0 L1010.9,257.1 L1010.1,256.4 L1011.1,255.8 L1011.9,255.5 L1012.7,255.7 Z M1051.7,254.2 L1050.8,255.1 L1049.7,255.0 L1048.5,254.9 L1048.5,253.7 L1048.9,252.6 L1050.1,252.7 L1050.7,253.4 Z M1087.0,248.3 L1086.6,248.5 L1086.0,248.7 L1085.1,248.3 L1084.9,247.8 L1085.5,247.6 L1086.2,247.7 L1086.7,247.9 Z M1028.8,256.3 L1028.9,256.7 L1028.4,257.2 L1027.6,257.3 L1027.5,256.7 L1027.5,256.3 L1028.0,255.9 L1028.8,255.6 Z" fill="#ff0000"/>
</g>
<path d="M882.0,18.0 L883.5,18.2 L885.0,18.9 L886.5,19.3 L888.0,19.0 L889.4,18.8 L891.0,19.6 L892.5,18.8 L894.0,18.6 L895.3,19.3 L897.0,19.2 L898.4,20.0 L900.0,20.1 L901.5,20.7 L903.1,20.6 L904.4,21.7 L905.9,22.5 L907.5,22.7 L908.8,23.4 L909.7,24.6 L911.2,25.4 L911.5,27.0 L912.5,28.1 L913.7,29.1 L915.0,30.0 L915.5,31.8 L916.9,32.6 L917.8,33.9 L918.9,35.1 L920.2,36.0 L921.3,37.2 L922.9,37.9 L923.8,39.2 L925.2,40.0 L926.1,41.5 L927.3,42.5 L929.1,42.9 L930.3,44.0 L931.2,45.3 L931.6,47.1 L933.0,47.9 L934.4,49.1 L936.1,49.8 L937.5,51.0 L938.5,52.0 L939.5,53.1 L940.2,54.4 L941.3,55.6 L943.2,55.6 L945.0,54.9 L946.4,55.5 L947.9,55.7 L949.4,56.2 L951.0,56.1 L952.5,55.9 L954.1,56.8 L955.8,57.0 L957.5,57.1 L959.2,56.8 L960.8,57.1 L962.7,56.8 L963.4,58.4 L964.7,59.3 L966.0,60.2 L967.2,61.1 L968.4,62.5 L969.8,63.2 L971.7,62.9 L972.9,64.2 L974.6,64.4 L976.2,65.7 L977.6,66.7 L978.8,68.1 L980.3,69.1 L982.3,69.2 L983.4,70.6 L985.0,71.0 L985.8,72.5 L987.2,73.1 L988.0,74.4 L989.4,75.5 L991.0,75.2 L992.4,76.0 L994.0,75.4 L995.6,75.4 L997.0,76.2 L998.6,75.8 L1000.3,76.4 L1000.7,78.0 L1001.1,79.5 L1002.2,80.9 L1002.9,82.3 L1003.3,84.2 L1003.7,82.7 L1005.2,81.9 L1006.0,80.7 L1006.5,79.1 L1007.5,78.0 L1009.0,78.0 L1010.5,78.2 L1012.0,78.1 L1013.5,78.1 L1015.0,78.1 L1016.5,78.5 L1018.0,78.0 L1019.5,78.3 L1020.9,79.0 L1022.6,78.8 L1024.1,79.3 L1025.4,80.4 L1027.0,80.3 L1028.5,80.7 L1030.4,80.7 L1031.1,82.4 L1031.9,84.0 L1032.5,85.4 L1033.6,84.0 L1034.0,82.5 L1033.8,80.9 L1034.8,79.5 L1035.1,78.0 L1035.8,76.6 L1035.8,75.1 L1035.7,73.4 L1035.2,71.9 L1034.0,70.7 L1033.5,69.2 L1033.7,67.4 L1033.3,66.4 L1034.3,64.8 L1036.0,64.0 L1037.4,63.1 L1038.6,64.4 L1039.4,65.9 L1040.4,67.4 L1041.2,68.9 L1042.0,70.6 L1043.6,71.1 L1045.1,71.9 L1046.4,73.0 L1048.2,73.0 L1049.5,74.3 L1050.8,75.2 L1052.1,76.1 L1053.0,77.2 L1053.4,78.8 L1054.8,79.6 L1055.2,80.9 L1056.1,79.5 L1057.0,78.1 L1057.0,76.3 L1057.9,74.9 L1058.5,73.4 L1059.7,72.1 L1060.0,70.4 L1061.5,70.9 L1063.0,70.1 L1064.5,70.3 L1065.8,70.5 L1065.6,72.0 L1066.1,73.5 L1066.3,75.0 L1066.4,76.5 L1066.0,78.0 L1066.3,79.5 L1065.8,80.8 L1064.5,81.9 L1063.8,83.6 L1062.6,84.8 L1061.0,85.6 L1059.9,86.9 L1058.8,87.8 L1058.1,89.1 L1057.0,90.4 L1055.5,90.2 L1054.0,89.7 L1052.5,90.3 L1051.0,90.2 L1049.5,90.1 L1048.0,90.1 L1046.5,90.1 L1044.8,90.4 L1046.7,90.4 L1048.2,91.0 L1049.3,92.7 L1050.6,93.0 L1050.5,94.5 L1051.0,96.1 L1049.3,96.1 L1047.8,96.7 L1046.6,98.0 L1044.9,98.0 L1043.4,98.5 L1041.9,99.2 L1040.5,99.9 L1039.1,100.3 L1040.6,101.1 L1042.1,101.7 L1043.7,102.3 L1044.9,103.4 L1044.3,104.8 L1042.9,105.7 L1042.7,107.4 L1041.0,108.0 L1040.3,109.4 L1039.3,110.8 L1038.6,112.3 L1037.9,113.8 L1037.4,115.5 L1037.6,117.3 L1036.5,118.8 L1036.7,120.7 L1036.2,122.3 L1036.1,123.8 L1036.5,125.2 L1036.8,126.6 L1036.5,128.2 L1037.1,129.6 L1037.6,130.9 L1038.6,132.0 L1039.0,133.6 L1040.2,134.6 L1040.9,136.0 L1042.0,136.8 L1043.6,137.1 L1045.0,137.9 L1046.4,138.6 L1048.1,138.4 L1049.4,139.5 L1050.9,140.0 L1052.4,140.3 L1053.8,141.0 L1055.6,140.9 L1056.7,142.3 L1058.1,143.2 L1059.9,143.1 L1061.2,144.0 L1062.7,144.8 L1064.0,145.7 L1065.6,145.8 L1067.1,146.1 L1068.7,146.7 L1070.3,146.0 L1071.9,146.3 L1073.8,146.9 L1074.4,148.5 L1075.1,150.2 L1074.9,152.2 L1075.6,153.8 L1076.9,155.1 L1077.0,156.9 L1077.7,158.4 L1078.2,159.9 L1079.2,161.3 L1080.0,162.9 L1081.1,164.3 L1082.4,165.5 L1083.9,166.2 L1085.3,167.3 L1086.3,168.2 L1087.6,167.0 L1088.7,165.7 L1089.3,164.2 L1088.7,162.6 L1088.5,160.9 L1088.4,159.1 L1088.4,157.4 L1088.3,155.6 L1087.4,154.3 L1087.3,152.7 L1086.6,151.4 L1085.9,150.0 L1086.1,148.5 L1086.5,147.1 L1087.0,145.8 L1087.4,144.3 L1088.3,143.1 L1088.8,141.7 L1089.2,140.2 L1090.2,139.1 L1091.0,137.7 L1090.0,136.1 L1090.1,134.4 L1089.7,132.7 L1089.8,130.8 L1089.0,129.4 L1087.6,128.4 L1087.1,126.8 L1086.1,125.5 L1084.7,124.5 L1084.0,123.0 L1083.1,121.5 L1083.3,119.7 L1082.7,118.1 L1082.4,116.5 L1081.8,114.9 L1081.4,113.4 L1081.3,111.8 L1080.8,110.2 L1080.1,108.7 L1080.3,107.1 L1079.8,105.0 L1081.2,104.5 L1082.8,104.4 L1083.8,103.1 L1085.1,102.4 L1086.5,101.8 L1087.8,101.9 L1089.7,101.8 L1091.4,102.4 L1092.6,103.8 L1094.5,103.8 L1095.8,105.2 L1097.4,105.7 L1098.7,106.8 L1100.0,107.9 L1101.6,108.6 L1102.7,109.7 L1104.1,111.0 L1104.0,112.9 L1104.9,114.4 L1105.3,116.1 L1106.7,117.2 L1106.9,118.9 L1107.5,120.4 L1109.2,121.4 L1109.5,122.8 L1111.0,122.1 L1112.5,121.3 L1113.5,119.8 L1114.7,118.9 L1115.3,117.5 L1116.2,116.2 L1116.8,114.9 L1117.0,113.4 L1117.5,112.0 L1117.7,110.4 L1117.8,108.7 L1118.0,107.1 L1118.7,105.2 L1119.2,106.8 L1119.8,108.4 L1121.2,109.3 L1121.8,110.9 L1123.3,111.7 L1124.0,113.3 L1125.1,114.5 L1126.3,115.6 L1127.6,116.6 L1128.7,117.7 L1129.7,119.0 L1130.7,120.3 L1132.4,120.9 L1133.6,122.0 L1134.2,123.6 L1135.2,124.9 L1136.7,125.7 L1137.9,126.8 L1139.0,128.2 L1140.7,128.0 L1142.3,128.4 L1143.9,128.6 L1145.4,129.4 L1147.1,129.4 L1148.6,130.1 L1149.9,131.4 L1151.3,132.5 L1153.3,132.5 L1154.8,133.6 L1156.7,134.0 L1157.3,135.7 L1158.6,136.9 L1159.9,138.1 L1160.6,139.4 L1161.5,140.7 L1161.7,142.3 L1160.3,142.6 L1159.0,143.0 L1157.7,142.9 L1157.1,144.4 L1156.0,145.7 L1156.0,147.5 L1154.6,148.8 L1154.6,150.5 L1153.9,152.0 L1153.5,153.6 L1151.8,154.2 L1150.3,155.0 L1148.9,156.2 L1147.4,157.1 L1145.7,157.4 L1144.0,157.8 L1142.5,158.8 L1140.8,158.9 L1139.0,159.2 L1137.6,160.4 L1136.0,161.2 L1134.4,161.8 L1132.6,162.0 L1130.8,162.7 L1129.8,164.3 L1129.2,166.1 L1129.1,168.0 L1128.4,169.3 L1127.6,170.6 L1126.9,171.9 L1125.7,172.9 L1124.9,174.5 L1124.2,176.1 L1124.3,178.0 L1123.0,179.4 L1123.0,181.3 L1122.5,182.7 L1121.7,184.0 L1122.0,185.6 L1121.6,187.1 L1121.0,188.7 L1121.6,187.2 L1122.6,186.2 L1123.8,185.4 L1125.0,184.4 L1124.7,182.7 L1125.5,181.4 L1126.0,180.0 L1126.5,178.5 L1126.6,176.9 L1127.8,175.9 L1129.0,174.9 L1129.3,173.4 L1130.2,172.2 L1130.8,170.6 L1132.1,170.0 L1133.6,169.6 L1134.6,168.3 L1136.0,168.3 L1137.4,168.5 L1138.9,167.8 L1139.8,168.7 L1141.3,169.6 L1142.0,170.8 L1141.0,171.8 L1140.4,173.2 L1139.1,173.8 L1137.8,174.2 L1136.4,174.4 L1135.2,175.3 L1133.6,175.5 L1132.1,176.0 L1131.0,177.3 L1132.6,176.9 L1134.2,176.3 L1135.9,176.5 L1137.5,176.1 L1139.1,176.3 L1140.6,177.3 L1142.1,178.2 L1143.5,178.9 L1144.2,180.3 L1145.3,181.3 L1147.3,180.9 L1149.0,181.4 L1150.5,180.9 L1151.9,180.0 L1153.6,180.7 L1154.9,179.3 L1156.4,179.2 L1156.8,177.8 L1156.7,176.5 L1156.6,175.2 L1158.1,175.8 L1159.7,176.1 L1160.8,177.0 L1162.0,177.9 L1163.1,179.5 L1161.5,180.6 L1160.5,182.0 L1159.6,183.2 L1158.4,184.1 L1157.7,185.4 L1156.8,186.5 L1155.6,187.4 L1154.2,188.1 L1153.9,189.7 L1152.5,190.7 L1151.7,192.1 L1150.2,193.0 L1149.5,194.6 L1148.9,196.3 L1148.2,198.0 L1147.4,199.7 L1145.9,198.9 L1144.1,198.7 L1144.2,197.0 L1142.9,195.4 L1143.7,194.1 L1144.2,192.7 L1144.9,191.3 L1146.3,190.3 L1146.9,188.9 L1147.1,187.6 L1146.1,186.0 L1145.4,184.3 L1144.4,185.5 L1143.7,186.9 L1143.1,188.2 L1142.2,189.7 L1141.5,191.4 L1140.3,192.6 L1139.4,193.8 L1138.1,194.5 L1137.0,195.5 L1136.3,196.8 L1135.2,197.8 L1133.7,198.4 L1133.7,200.1 L1132.2,201.0 L1131.4,202.2 L1130.5,203.6 L1130.6,205.3 L1129.9,206.8 L1129.3,208.3 L1128.8,210.0 L1129.1,211.5 L1130.1,212.7 L1131.1,213.8 L1132.3,215.3 L1134.0,216.0 L1132.4,217.0 L1130.9,217.9 L1129.7,219.6 L1127.7,219.9 L1126.7,221.0 L1125.8,222.2 L1124.8,223.2 L1123.4,223.8 L1122.1,224.7 L1120.6,225.0 L1120.6,226.6 L1119.7,227.9 L1119.0,229.2 L1118.8,230.7 L1118.4,232.0 L1119.2,230.6 L1119.5,229.0 L1119.9,227.1 L1120.0,228.8 L1120.9,229.9 L1120.8,231.7 L1119.8,233.1 L1119.2,234.6 L1118.5,236.4 L1116.5,236.9 L1114.3,237.9 L1115.4,239.3 L1115.2,241.0 L1115.8,242.5 L1116.7,243.9 L1116.2,245.5 L1116.8,246.9 L1116.7,248.4 L1117.3,249.9 L1117.7,251.5 L1118.5,252.9 L1118.8,254.9 L1119.6,256.2 L1118.8,258.0 L1118.3,259.9 L1116.9,260.9 L1116.0,262.2 L1115.1,263.7 L1114.3,264.9 L1113.4,266.0 L1112.4,267.1 L1111.6,268.3 L1110.4,269.3 L1109.3,270.3 L1108.5,271.6 L1107.7,272.8 L1106.6,273.8 L1105.7,275.2 L1104.4,276.3 L1103.0,277.2 L1102.1,278.7 L1101.3,280.3 L1099.7,281.4 L1098.9,283.2 L1099.4,284.6 L1099.5,286.1 L1099.5,287.6 L1099.6,289.0 L1100.4,290.5 L1101.0,292.0 L1101.2,293.5 L1101.5,295.3 L1103.0,296.4 L1103.6,298.0 L1104.7,299.4 L1105.4,300.8 L1106.1,302.1 L1106.5,303.7 L1107.4,304.9 L1108.3,306.3 L1108.7,307.8 L1109.1,309.2 L1109.3,310.7 L1110.2,311.9 L1110.7,313.5 L1110.1,315.3 L1110.0,317.0 L1109.5,318.7 L1109.8,321.0 L1108.2,321.2 L1106.6,321.8 L1105.4,320.8 L1105.4,319.0 L1103.8,318.4 L1102.8,317.3 L1102.3,315.9 L1101.2,314.9 L1100.7,313.5 L1099.6,312.5 L1098.5,311.1 L1097.5,309.7 L1097.3,307.8 L1096.0,306.5 L1096.2,304.7 L1095.6,303.0 L1095.6,301.4 L1094.5,300.2 L1094.1,298.7 L1093.7,297.4 L1093.0,296.0 L1091.7,295.2 L1090.5,294.4 L1089.1,295.6 L1087.2,296.1 L1085.9,296.7 L1084.0,296.5 L1082.1,296.5 L1080.7,296.2 L1079.3,295.8 L1077.9,295.3 L1076.5,295.1 L1075.2,294.8 L1073.4,294.3 L1071.7,294.2 L1070.0,295.1 L1068.1,294.4 L1066.5,295.2 L1064.7,295.1 L1062.9,295.3 L1060.8,296.2 L1062.3,297.6 L1062.6,299.4 L1062.9,300.9 L1063.2,302.4 L1064.0,304.0 L1062.6,302.9 L1061.2,301.5 L1059.8,302.5 L1058.2,302.4 L1056.6,302.7 L1055.2,302.0 L1053.8,301.4 L1052.2,302.0 L1050.8,301.0 L1049.4,300.9 L1047.9,300.6 L1046.4,300.8 L1044.8,300.2 L1043.4,301.2 L1041.9,301.6 L1040.4,302.2 L1038.8,302.3 L1037.5,303.3 L1036.2,304.2 L1034.9,305.0 L1033.1,305.2 L1032.1,306.5 L1030.8,307.6 L1029.9,309.0 L1028.7,310.1 L1027.9,311.3 L1026.7,312.6 L1026.8,314.3 L1025.7,315.6 L1024.8,317.1 L1025.2,318.5 L1026.1,319.8 L1026.3,321.3 L1026.4,322.5 L1024.7,322.0 L1023.1,321.0 L1021.5,320.3 L1019.7,319.9 L1018.4,318.7 L1016.9,318.2 L1016.1,316.8 L1015.8,315.3 L1015.1,314.0 L1014.5,312.6 L1014.2,311.1 L1012.5,310.4 L1012.1,309.0 L1010.8,307.6 L1010.1,306.1 L1009.8,304.2 L1008.6,302.9 L1007.7,301.5 L1007.3,300.1 L1005.8,299.5 L1004.2,299.6 L1003.1,300.1 L1001.7,301.1 L1000.0,301.7 L999.1,303.5 L997.5,302.2 L995.6,301.5 L994.8,299.8 L993.5,298.6 L992.5,297.1 L991.4,296.1 L990.2,295.2 L989.3,294.1 L988.3,292.9 L988.3,291.2 L986.9,290.3 L986.1,289.1 L986.4,287.3 L985.1,286.6 L983.7,285.5 L981.8,286.0 L980.3,285.2 L978.6,285.1 L976.6,284.5 L976.9,285.9 L977.0,287.2 L975.4,287.1 L973.9,287.0 L972.3,287.6 L970.8,287.1 L969.2,287.1 L967.6,287.2 L966.1,286.3 L964.6,286.3 L963.2,286.0 L961.5,285.6 L960.3,284.5 L958.9,283.7 L957.7,282.5 L955.9,282.3 L954.7,281.1 L953.6,280.1 L952.2,279.5 L951.4,278.1 L950.3,277.0 L949.0,276.4 L947.5,275.4 L945.9,274.7 L944.2,274.3 L942.5,273.9 L940.9,272.9 L939.0,273.3 L937.2,272.8 L936.5,271.4 L936.3,269.8 L935.9,268.5 L935.4,266.7 L934.0,265.7 L933.0,264.4 L931.9,263.1 L930.4,262.2 L929.5,260.8 L928.0,259.9 L926.7,258.8 L926.9,257.3 L926.5,255.9 L926.2,254.5 L925.3,253.2 L925.3,251.7 L924.5,250.2 L924.6,248.4 L924.1,246.8 L923.0,245.4 L923.2,243.6 L922.1,242.0 L921.7,240.3 L922.1,238.4 L921.4,236.8 L921.3,235.3 L921.0,233.9 L920.0,232.6 L920.4,231.0 L919.6,229.7 L919.8,228.2 L919.7,226.7 L920.2,225.2 L920.2,223.6 L919.7,222.1 L919.6,220.5 L920.3,218.9 L920.9,217.3 L921.1,215.5 L921.6,213.8 L922.8,212.4 L923.1,210.8 L923.7,209.3 L924.1,207.7 L924.3,206.2 L924.5,204.4 L924.9,202.8 L925.8,201.3 L926.6,199.8 L927.3,198.3 L927.9,196.6 L928.3,194.9 L929.4,193.5 L929.3,191.7 L930.1,190.1 L931.1,188.6 L931.2,187.0 L930.9,185.4 L931.0,183.8 L931.8,182.4 L931.2,180.8 L931.4,179.3 L932.0,177.9 L932.1,176.5 L932.4,174.7 L933.7,175.4 L934.9,176.4 L936.2,177.7 L936.8,176.3 L938.1,175.5 L938.8,174.1 L939.5,172.9 L939.0,171.2 L939.8,170.2 L938.0,168.7 L937.8,167.0 L937.1,165.6 L936.2,164.2 L936.1,162.5 L935.1,161.1 L934.9,159.6 L934.5,158.1 L934.7,156.4 L933.9,155.0 L933.4,153.6 L932.8,152.1 L932.8,150.5 L932.6,149.0 L932.6,147.5 L932.7,146.0 L932.5,144.5 L931.7,143.0 L931.5,141.5 L932.0,139.9 L931.7,138.4 L931.1,137.0 L931.1,135.4 L930.5,134.0 L929.9,132.6 L929.5,131.1 L929.0,129.6 L929.4,127.8 L929.3,126.1 L929.0,124.5 L928.3,122.9 L928.2,121.2 L928.2,119.5 L927.7,117.9 L927.2,116.3 L926.7,114.7 L926.5,113.0 L925.8,111.6 L925.4,110.1 L925.6,108.5 L925.5,106.9 L924.7,105.5 L924.2,104.0 L923.7,102.5 L923.5,101.0 L922.6,99.8 L921.3,99.0 L920.5,97.6 L918.8,97.3 L917.9,96.2 L916.5,95.2 L915.0,94.6 L913.7,93.4 L912.2,92.7 L910.7,91.8 L909.1,91.4 L907.2,90.9 L906.0,89.4 L904.5,88.5 L903.5,87.0 L902.3,85.6 L901.7,83.9 L900.9,82.2 L899.1,81.2 L898.4,79.4 L897.1,80.7 L895.5,81.7 L894.1,81.1 L892.6,80.8 L891.0,80.8 L889.5,81.5 L887.9,80.9 L886.5,81.9 L884.9,81.8 L884.6,80.4 L883.4,79.3 L884.9,78.3 L886.8,77.9 L888.1,77.0 L889.5,75.9 L891.0,75.6 L892.4,75.1 L893.8,75.4 L892.4,74.5 L890.9,73.0 L889.5,74.1 L888.0,74.1 L886.5,74.3 L885.0,74.6 L883.5,74.2 L881.9,74.4 L880.4,74.6 L879.0,75.2 L877.2,75.6 L877.5,77.2 L876.7,78.3 L875.9,79.0 L874.6,80.3 L873.1,80.5 L871.5,80.6 L870.0,81.3 L868.5,81.2 L867.1,82.0 L865.5,82.0 L863.9,81.5 L862.6,82.6 L860.9,82.1 L859.6,83.1 L857.9,82.6 L856.5,83.2 L855.0,83.5 L853.5,84.4 L851.9,84.3 L850.5,83.3 L849.0,83.8 L847.4,83.6 L846.1,82.6 L844.6,82.2 L842.9,82.8 L841.6,81.6 L840.0,81.7 L838.4,81.1 L836.8,80.6 L835.4,79.6 L834.1,79.3 L835.4,78.1 L837.1,77.6 L838.6,78.0 L840.1,78.4 L841.5,79.0 L842.8,79.9 L844.7,79.6 L846.1,80.3 L847.3,81.6 L849.1,82.3 L850.6,82.1 L852.0,81.1 L853.5,81.0 L855.2,81.5 L856.5,80.4 L858.1,80.1 L859.4,79.1 L860.8,78.3 L862.4,77.8 L864.1,77.5 L865.7,76.7 L866.8,75.6 L868.0,74.5 L869.3,73.5 L867.5,73.1 L865.8,72.5 L864.2,71.7 L862.5,71.3 L861.6,69.9 L860.5,68.6 L859.2,67.7 L857.5,67.3 L856.9,66.3 L857.8,64.7 L858.2,62.8 L859.3,61.4 L860.0,60.1 L860.6,58.7 L862.0,57.3 L860.4,57.3 L859.3,56.2 L857.6,56.5 L856.0,55.3 L857.4,54.1 L857.8,52.6 L858.5,51.1 L858.5,49.3 L858.5,47.5 L858.8,46.0 L860.1,44.8 L861.8,44.8 L863.2,44.2 L864.9,43.6 L866.8,43.9 L868.6,43.3 L870.0,44.3 L871.6,44.9 L873.0,45.6 L874.5,45.3 L876.0,45.4 L877.9,45.3 L879.0,43.8 L880.0,41.7 L878.9,40.6 L877.4,39.9 L876.5,38.4 L874.7,38.1 L873.3,37.3 L872.3,36.0 L871.5,34.4 L870.1,33.1 L869.4,31.5 L869.3,30.0 L870.3,28.6 L870.0,26.9 L871.5,27.2 L873.0,27.4 L874.4,28.0 L875.6,28.1 L876.9,28.9 L877.9,30.0 L878.7,31.2 L880.0,31.9 L881.1,33.2 L882.0,34.5 L883.5,35.6 L885.4,34.8 L887.6,35.0 L886.0,33.8 L885.4,31.9 L883.8,30.8 L882.4,29.3 L882.4,27.6 L882.4,25.8 L881.6,24.2 L881.6,22.6 L881.7,21.0 L881.6,19.5 Z M1161.7,142.3 L1162.0,143.7 L1162.6,145.0 L1162.4,146.3 L1161.8,147.6 L1161.2,149.1 L1161.0,150.5 L1160.4,152.0 L1160.4,153.6 L1160.2,155.1 L1159.3,156.6 L1159.1,158.0 L1159.9,159.5 L1159.0,160.9 L1159.1,162.4 L1159.2,163.8 L1159.5,165.1 L1159.3,166.6 L1159.7,167.9 L1161.1,167.7 L1162.4,167.4 L1163.6,166.6 L1165.1,166.5 L1166.4,166.0 L1167.6,165.4 L1168.7,164.5 L1170.2,163.5 L1171.2,164.5 L1172.2,165.6 L1172.7,167.2 L1173.9,167.8 L1174.9,166.8 L1176.3,166.1 L1177.1,164.6 L1178.4,165.1 L1179.7,165.3 L1181.0,165.2 L1182.3,165.9 L1182.8,164.6 L1182.6,163.1 L1183.0,161.9 L1182.4,160.8 L1181.3,160.0 L1180.9,158.7 L1180.3,157.5 L1179.2,156.6 L1178.1,155.6 L1177.3,154.4 L1175.9,153.9 L1174.7,152.8 L1173.3,152.3 L1172.0,151.4 L1170.8,152.5 L1169.2,152.7 L1167.7,153.9 L1166.7,153.1 L1166.0,152.0 L1165.2,151.4 L1164.3,150.0 L1163.9,148.5 L1163.3,147.1 L1162.9,145.9 L1162.7,144.6 L1161.9,143.6 Z M924.4,157.5 L924.5,158.9 L925.4,160.1 L925.8,161.4 L926.3,162.7 L927.1,163.8 L927.3,165.2 L927.9,166.4 L928.6,167.5 L929.8,168.3 L930.4,169.5 L931.3,170.5 L931.5,172.0 L932.3,173.0 L933.5,173.8 L933.6,175.4 L934.5,176.5 L935.5,177.5 L936.3,178.6 L937.5,179.5 L937.6,180.7 L938.4,179.5 L938.3,178.1 L938.7,177.0 L938.3,175.7 L937.6,174.4 L937.5,173.0 L937.0,171.7 L936.9,170.3 L936.1,169.1 L935.5,167.9 L934.7,166.9 L934.1,165.7 L933.3,164.7 L932.4,163.7 L932.3,162.3 L931.5,161.1 L930.3,160.1 L929.1,159.1 L927.8,158.2 L926.8,157.2 L925.6,157.4 Z M917.5,134.0 L918.9,134.9 L920.8,135.5 L920.8,136.9 L920.4,138.3 L920.4,139.8 L919.8,141.1 L919.8,142.5 L919.7,144.0 L919.7,145.4 L919.7,146.7 L918.7,145.6 L918.4,144.1 L917.6,142.8 L917.7,141.2 L916.4,140.0 L917.2,138.5 L916.7,137.0 L917.5,135.5 Z M868.0,85.0 L869.4,84.8 L870.7,84.6 L872.1,83.7 L873.4,84.1 L874.7,84.4 L876.2,85.1 L875.2,85.9 L874.9,87.2 L874.0,88.0 L872.8,88.4 L871.5,88.4 L870.3,88.4 L869.3,88.4 L868.8,87.3 L867.9,86.3 Z M855.0,27.8 L856.9,28.0 L857.0,29.4 L857.9,30.5 L858.3,31.8 L858.2,33.3 L858.8,34.4 L857.7,33.9 L857.0,32.9 L856.3,31.7 L856.1,30.3 L855.1,29.2 Z M850.5,50.5 L852.0,50.9 L853.8,50.8 L853.2,52.1 L853.8,53.6 L852.4,52.8 L851.2,53.0 L851.1,51.7 Z M817.5,76.5 L819.0,76.3 L820.5,76.1 L822.0,75.9 L823.2,76.5 L824.5,76.6 L825.6,77.3 L826.9,77.2 L828.0,78.2 L826.8,78.4 L825.6,78.8 L824.2,78.5 L822.9,79.2 L821.7,78.1 L820.4,77.4 L818.8,77.3 Z M1139.5,163.3 L1140.8,163.4 L1141.9,162.5 L1143.2,162.6 L1144.2,162.2 L1145.4,162.5 L1146.8,162.4 L1148.0,162.7 L1149.0,163.6 L1147.4,163.7 L1145.9,164.6 L1144.3,164.8 L1143.1,164.6 L1142.0,163.8 L1140.8,163.3 Z M1149.0,173.5 L1150.1,173.0 L1151.3,172.6 L1152.5,172.5 L1154.0,173.1 L1155.5,173.8 L1154.0,174.2 L1152.4,174.7 L1151.3,174.4 L1150.2,173.7 Z M1056.0,85.5 L1057.0,86.5 L1058.0,87.5 L1059.0,88.4 L1059.6,89.7 L1061.0,90.2 L1062.1,91.1 L1063.0,92.2 L1064.0,93.1 L1064.9,94.1 L1066.0,95.1 L1067.0,95.9 L1068.2,96.7 L1069.5,97.4 L1070.7,98.3 L1072.1,99.2 L1070.8,99.8 L1069.4,100.2 L1068.0,100.4 L1066.7,101.0 L1065.3,101.2 L1064.0,101.6 L1062.8,102.5 L1061.3,103.2 L1060.1,102.4 L1058.8,102.0 L1057.3,101.9 L1056.1,101.5 L1055.4,100.2 L1055.5,98.7 L1055.0,97.4 L1054.5,96.1 L1054.2,94.7 L1053.2,93.4 L1053.9,92.2 L1054.5,90.9 L1055.0,89.6 L1055.0,88.1 L1055.3,86.7 Z M1064.5,105.0 L1065.9,104.8 L1067.3,104.5 L1068.7,103.7 L1068.9,105.0 L1069.4,105.7 L1068.1,106.1 L1066.8,106.8 L1065.2,107.4 L1064.9,106.2 Z M1074.5,105.0 L1076.4,105.0 L1076.7,106.2 L1077.1,107.3 L1077.0,108.2 L1075.3,108.5 L1074.8,107.3 L1074.7,106.2 Z M1064.0,52.0 L1065.3,51.4 L1066.7,52.1 L1068.0,51.2 L1069.3,50.9 L1070.7,51.2 L1072.0,50.7 L1073.2,51.0 L1074.8,51.1 L1075.9,52.4 L1077.4,52.5 L1078.7,53.4 L1079.9,54.4 L1081.3,54.8 L1082.5,55.7 L1083.9,56.2 L1085.5,56.2 L1086.5,57.5 L1088.0,57.9 L1089.4,58.2 L1090.8,58.7 L1091.9,59.9 L1093.3,60.3 L1094.5,61.2 L1095.8,61.6 L1096.8,62.5 L1098.0,63.1 L1099.0,64.0 L1100.0,64.8 L1101.3,65.4 L1101.9,66.7 L1103.3,67.0 L1104.2,68.2 L1105.5,68.7 L1107.0,68.7 L1108.5,68.5 L1109.9,69.4 L1111.3,69.6 L1112.8,69.4 L1114.6,69.9 L1114.4,71.5 L1115.0,72.9 L1114.4,74.6 L1115.0,76.0 L1114.0,77.0 L1113.1,78.1 L1111.9,78.9 L1111.1,79.6 L1109.6,79.7 L1108.3,79.3 L1107.0,78.7 L1105.6,78.5 L1104.4,77.8 L1103.0,77.5 L1102.0,78.4 L1100.9,79.0 L1100.0,80.0 L1101.4,80.5 L1102.1,81.9 L1103.6,82.2 L1104.7,83.1 L1105.9,83.9 L1106.8,85.0 L1107.9,85.8 L1109.2,86.4 L1110.3,87.2 L1111.4,87.9 L1112.0,89.3 L1113.4,89.7 L1114.2,90.8 L1114.6,92.1 L1114.9,93.4 L1115.0,94.9 L1113.7,95.1 L1112.3,95.2 L1110.9,94.8 L1109.7,94.6 L1108.3,94.0 L1106.8,93.6 L1105.6,92.5 L1104.5,91.7 L1105.3,92.8 L1106.0,93.9 L1107.0,94.9 L1108.2,95.4 L1109.0,96.5 L1110.2,97.2 L1111.2,98.1 L1112.2,99.0 L1113.3,99.7 L1114.7,99.8 L1116.0,100.0 L1114.8,99.4 L1113.5,99.2 L1112.1,99.1 L1110.9,98.3 L1109.6,97.9 L1108.3,97.8 L1107.1,97.1 L1105.6,97.7 L1104.3,97.0 L1103.0,96.6 L1101.6,96.6 L1100.3,96.5 L1099.1,95.9 L1097.9,95.2 L1096.7,94.6 L1095.5,93.9 L1094.8,92.5 L1093.5,92.1 L1092.0,91.8 L1090.7,91.2 L1089.4,90.7 L1088.3,89.7 L1086.6,89.7 L1085.7,88.3 L1084.6,87.0 L1084.0,85.5 L1084.3,84.1 L1085.0,82.8 L1085.9,81.6 L1086.6,80.3 L1087.1,78.7 L1085.9,77.6 L1085.6,76.1 L1085.4,74.6 L1084.2,73.5 L1083.9,72.2 L1082.7,71.2 L1081.3,70.5 L1080.2,69.4 L1078.9,68.6 L1077.5,68.0 L1076.0,67.5 L1074.7,66.9 L1073.4,66.2 L1071.9,65.7 L1070.8,64.5 L1069.5,64.3 L1068.0,64.1 L1066.7,64.8 L1065.5,65.8 L1064.1,65.9 L1062.7,66.2 L1061.3,67.2 L1060.1,66.6 L1058.7,66.8 L1057.4,65.9 L1056.0,66.3 L1054.8,65.5 L1053.6,65.0 L1052.2,64.4 L1050.6,64.3 L1049.4,63.3 L1047.7,62.8 L1047.2,61.4 L1047.0,59.9 L1046.3,58.6 L1045.1,57.1 L1046.3,56.2 L1047.5,55.1 L1048.2,53.7 L1049.4,53.0 L1050.8,52.8 L1052.1,52.3 L1053.4,51.9 L1054.8,52.1 L1056.1,51.6 L1057.4,51.1 L1058.7,51.3 L1060.1,51.3 L1061.3,52.1 L1062.7,51.9 Z M1092.8,12.1 L1091.4,12.5 L1090.5,13.8 L1089.1,14.2 L1087.9,15.0 L1086.6,15.6 L1085.6,16.7 L1084.3,17.3 L1083.0,17.8 L1081.9,18.7 L1080.7,19.4 L1079.9,20.6 L1078.9,21.4 L1077.5,21.9 L1076.6,22.9 L1075.5,23.7 L1074.4,24.5 L1073.6,25.6 L1073.3,26.8 L1072.1,27.7 L1071.7,29.0 L1071.0,30.1 L1070.5,31.3 L1069.6,32.3 L1069.4,33.7 L1068.4,34.7 L1068.0,36.0 L1067.1,37.1 L1066.4,38.3 L1066.4,39.8 L1066.3,41.3 L1065.6,42.7 L1065.2,44.0 L1063.9,44.5 L1062.6,45.0 L1061.2,45.2 L1060.0,46.0 L1058.6,46.4 L1057.2,46.7 L1055.8,46.4 L1054.6,47.2 L1053.3,47.5 L1052.0,47.7 L1050.7,48.0 L1049.4,48.0 L1048.0,48.0 L1046.8,48.0 L1045.2,48.0 L1043.7,47.5 L1042.2,47.1 L1040.6,46.5 L1040.7,44.9 L1040.1,43.4 L1039.5,41.9 L1038.6,41.0 L1038.2,39.6 L1037.3,38.7 L1036.6,37.6 L1035.3,37.0 L1034.7,35.8 L1034.1,34.6 L1033.3,33.6 L1033.0,32.3 L1031.8,31.5 L1031.9,30.0 L1030.7,28.6 L1032.1,28.2 L1033.3,27.2 L1034.9,27.1 L1036.1,26.3 L1037.4,25.9 L1038.7,25.4 L1040.0,25.2 L1041.2,24.6 L1042.6,24.6 L1043.9,24.1 L1045.1,23.4 L1046.5,23.7 L1047.7,22.8 L1048.9,22.3 L1050.3,21.9 L1051.8,21.9 L1053.1,21.4 L1054.6,21.7 L1056.0,21.4 L1057.2,20.4 L1058.6,20.0 L1060.1,20.1 L1061.4,19.4 L1062.8,19.5 L1064.3,19.4 L1065.5,18.5 L1066.9,18.3 L1068.4,18.3 L1069.7,17.6 L1071.0,17.1 L1072.5,17.2 L1073.9,16.8 L1075.3,16.5 L1076.6,15.9 L1077.9,15.3 L1079.3,15.2 L1080.7,15.0 L1082.0,14.5 L1083.3,13.9 L1084.7,13.7 L1086.0,13.5 L1087.5,13.5 L1088.8,13.0 L1090.1,12.7 L1091.5,12.7 Z M1057.2,51.2 L1055.9,51.7 L1054.4,51.1 L1053.1,52.0 L1051.7,51.8 L1050.4,52.5 L1048.8,52.2 L1048.6,53.6 L1047.4,54.6 L1046.7,55.7 L1046.0,56.9 L1045.6,58.2 L1045.5,59.7 L1045.7,61.2 L1046.7,62.5 L1046.7,64.0 L1047.6,65.1 L1048.9,65.6 L1050.2,66.1 L1051.4,66.6 L1052.6,67.9 L1053.9,66.8 L1055.4,67.1 L1056.9,66.9 L1058.1,66.5 L1057.1,65.5 L1055.9,64.7 L1054.9,63.6 L1053.6,62.8 L1053.6,61.5 L1053.2,60.4 L1052.2,59.4 L1052.2,58.4 L1052.3,56.8 L1053.0,55.7 L1054.2,54.8 L1055.0,53.7 L1056.2,52.6 Z M979.6,35.4 L981.0,35.2 L982.1,34.2 L983.6,34.3 L984.8,33.6 L986.0,32.6 L987.5,33.3 L988.9,32.7 L990.4,32.6 L991.8,32.7 L993.3,32.8 L994.8,32.3 L996.2,32.7 L997.7,32.8 L999.1,32.4 L1000.4,32.6 L1001.8,32.3 L1003.1,32.4 L1004.4,31.7 L1005.9,32.0 L1005.1,33.3 L1004.6,34.8 L1003.2,36.3 L1004.6,37.0 L1006.0,37.6 L1006.9,38.9 L1008.2,39.7 L1009.5,40.5 L1010.6,41.2 L1011.7,42.2 L1013.2,43.1 L1012.2,44.4 L1011.7,45.9 L1010.4,46.3 L1008.9,45.8 L1007.6,46.6 L1006.3,46.6 L1004.8,46.1 L1003.5,46.7 L1002.1,46.4 L1000.8,46.0 L999.4,46.0 L998.0,45.7 L996.7,45.5 L995.3,45.3 L994.1,44.7 L993.8,43.3 L992.5,42.8 L991.6,42.1 L990.6,41.2 L989.6,40.2 L988.4,39.6 L987.1,39.0 L986.0,38.3 L984.4,38.2 L982.9,37.5 L981.2,37.3 L980.2,36.6 Z M1014.0,31.3 L1015.4,30.9 L1016.9,31.1 L1018.3,30.5 L1019.7,31.0 L1020.9,31.6 L1022.3,31.6 L1023.3,32.7 L1024.5,33.1 L1025.6,33.8 L1025.9,35.0 L1026.5,36.2 L1027.5,37.1 L1027.7,38.3 L1027.9,39.9 L1028.0,41.5 L1028.9,43.3 L1027.3,43.9 L1026.9,45.5 L1025.6,46.8 L1024.2,46.1 L1022.8,45.6 L1021.4,45.2 L1019.7,45.4 L1019.1,44.2 L1017.8,43.8 L1017.5,42.4 L1016.1,41.8 L1016.0,40.3 L1015.2,38.8 L1014.8,37.3 L1014.5,35.8 L1014.7,34.2 L1014.4,32.8 Z M1028.0,34.2 L1029.3,34.6 L1030.5,33.9 L1031.7,33.7 L1032.9,34.3 L1034.5,34.5 L1035.9,35.2 L1037.1,35.9 L1036.9,37.3 L1036.0,37.9 L1034.5,38.2 L1033.0,38.5 L1031.5,37.7 L1030.1,38.0 L1029.0,36.9 L1028.9,35.4 Z M1030.3,41.8 L1031.9,42.0 L1033.4,41.6 L1035.3,41.8 L1035.8,43.0 L1036.6,44.0 L1037.5,45.2 L1036.6,46.0 L1035.5,46.6 L1034.9,48.0 L1033.6,47.6 L1032.2,47.3 L1030.8,46.5 L1030.4,45.0 L1031.0,43.3 Z M968.5,50.0 L969.6,49.0 L970.0,47.5 L971.0,46.5 L971.7,45.2 L972.6,44.1 L973.8,43.2 L974.3,41.4 L975.6,41.9 L977.0,41.9 L978.3,42.2 L979.6,42.9 L981.0,42.5 L982.3,42.9 L983.7,42.9 L984.8,43.9 L986.0,44.3 L987.3,44.8 L988.4,45.6 L989.5,46.3 L990.5,47.3 L991.8,47.7 L991.1,49.0 L989.9,49.9 L989.3,51.3 L988.3,52.3 L986.8,52.6 L985.4,52.4 L984.0,52.0 L982.5,52.3 L981.5,53.3 L980.8,54.5 L980.2,55.7 L978.8,55.7 L977.4,55.9 L976.0,55.7 L974.6,55.6 L972.9,56.0 L972.7,54.4 L971.5,53.5 L970.6,52.5 L969.4,51.4 Z M983.7,53.5 L984.7,52.5 L986.1,52.5 L987.0,51.5 L988.3,51.0 L989.6,51.4 L990.9,51.9 L992.1,52.5 L993.6,52.3 L994.8,53.1 L996.1,53.4 L997.5,53.0 L999.1,53.3 L999.7,54.5 L999.7,56.0 L1000.5,57.1 L1001.2,57.8 L999.6,58.0 L998.1,58.5 L996.5,58.8 L995.3,58.8 L996.2,60.0 L996.4,61.6 L997.4,62.7 L998.1,64.0 L999.1,65.1 L1000.0,66.1 L998.6,65.9 L997.3,65.3 L995.8,65.7 L994.5,65.0 L993.1,64.9 L991.8,64.1 L990.4,63.7 L988.9,64.0 L987.5,63.8 L986.1,63.3 L984.9,62.7 L985.4,64.1 L986.5,65.1 L987.0,66.4 L988.2,67.4 L988.9,68.7 L990.1,69.7 L990.6,70.9 L989.8,72.2 L988.7,73.2 L987.8,74.3 L987.2,75.7 L988.7,75.5 L989.9,76.5 L991.3,76.8 L992.8,76.6 L994.2,76.8 L995.7,77.0 L997.0,76.1 L998.4,75.9 L999.8,76.1 L1001.2,75.9 L1002.7,75.9 L1004.3,76.0 L1005.8,75.7 L1007.2,75.8 L1008.6,75.8 L1009.9,76.0 L1011.3,76.3 L1012.6,76.6 L1014.0,77.0 L1015.4,77.2 L1016.9,77.4 L1018.4,77.6 L1019.8,78.1 L1021.3,77.6 L1022.8,77.7 L1024.3,77.2 L1025.8,76.9 L1026.5,75.8 L1027.6,75.0 L1028.6,74.2 L1029.7,73.4 L1030.3,72.2 L1029.1,71.7 L1028.1,70.8 L1026.7,70.7 L1025.7,69.9 L1024.3,70.5 L1022.7,70.4 L1021.3,70.9 L1019.8,71.1 L1018.8,70.2 L1017.6,69.7 L1016.2,69.6 L1015.2,68.7 L1015.7,67.3 L1017.2,66.5 L1017.8,65.2 L1018.8,63.7 L1017.1,63.8 L1015.6,62.9 L1013.7,62.9 L1013.9,61.4 L1013.1,60.1 L1012.5,58.9 L1012.8,57.3 L1012.4,56.0 L1011.5,54.9 L1010.6,53.8 L1009.4,53.1 L1008.5,52.5 L1007.4,53.5 L1006.1,54.4 L1005.7,55.9 L1004.7,56.8 L1003.3,56.5 L1001.9,56.3 L1000.5,56.2 L999.2,55.7 L997.7,56.0 L996.3,55.6 L994.9,55.4 L993.4,55.5 L992.1,54.9 L990.7,54.4 L989.3,54.4 L987.9,54.5 L986.5,54.2 L985.1,53.7 Z M1018.7,54.7 L1019.8,54.0 L1021.1,53.7 L1022.1,52.7 L1023.2,52.1 L1024.4,51.6 L1025.6,51.4 L1027.0,51.8 L1027.9,53.1 L1029.1,53.9 L1030.6,54.8 L1030.0,56.1 L1029.8,57.6 L1029.6,59.1 L1029.0,60.1 L1028.2,61.4 L1027.0,62.0 L1025.5,61.9 L1024.4,62.9 L1023.2,62.1 L1022.1,61.2 L1020.9,60.3 L1020.2,59.2 L1019.2,57.8 L1018.8,56.3 Z M1033.8,52.3 L1035.1,52.0 L1036.5,52.5 L1037.8,52.1 L1039.2,52.2 L1040.5,51.5 L1041.9,51.8 L1042.9,51.6 L1042.5,52.8 L1041.5,53.6 L1040.8,54.7 L1040.5,56.0 L1040.0,57.4 L1038.4,57.7 L1037.6,59.0 L1036.4,60.0 L1035.2,60.5 L1035.1,59.1 L1034.9,57.7 L1034.8,56.3 L1033.9,55.1 L1033.6,53.7 Z M1024.0,70.0 L1025.3,70.0 L1026.5,69.3 L1027.8,69.4 L1028.7,69.2 L1029.3,70.5 L1030.6,71.5 L1030.9,72.9 L1029.6,73.7 L1028.3,74.7 L1027.1,75.1 L1025.7,75.0 L1024.3,74.5 L1023.4,74.1 L1023.5,72.7 L1023.5,71.3 Z" fill="none" stroke="#000" stroke-width="1.4" stroke-linejoin="round"/>
<path d="M1118.3,105.5 L1120.0,105.9 L1120.3,107.3 L1119.7,109.4 L1121.1,110.1 L1123.0,110.4 L1123.3,111.7 L1123.2,113.6 L1124.9,113.7 L1126.5,113.8 L1125.9,116.3 L1128.1,115.8 L1128.1,117.6 L1129.0,118.4 L1130.2,119.0 L1130.2,120.8 L1132.5,120.3 L1132.6,122.0 L1134.3,122.0 L1133.7,124.4 L1136.1,123.8 L1136.3,125.4 L1136.6,126.8 L1137.4,127.8 L1139.2,127.0 L1140.1,129.2 L1141.5,129.4 L1143.1,128.3 L1144.2,129.7 L1145.8,128.7 L1147.4,128.8 L1148.5,129.5 L1149.5,130.4 L1150.0,132.1 L1151.5,131.9 L1152.3,133.7 L1153.7,134.0 L1155.6,132.9 L1156.7,134.0 L1158.2,134.5 L1158.0,136.3 L1158.7,137.3 L1159.5,138.3 L1161.1,138.8 L1160.4,140.4 L1162.1,140.9 L1160.9,142.5 L1162.1,143.6 L1163.3,144.8 L1161.6,145.9 L1161.2,146.9 L1162.1,148.6 L1160.2,149.0 L1161.2,150.6 L1160.4,151.7 L1160.1,152.9 L1159.4,154.0 L1161.0,155.6 L1160.9,156.7 L1160.5,157.9 L1159.8,159.0 L1158.7,160.1 L1158.7,161.4 L1160.2,162.7 L1159.1,163.8" fill="none" stroke="#000" stroke-width="1.3" stroke-linejoin="round"/>
<path d="M1064.0,52.0 L1065.2,51.0 L1066.8,52.7 L1068.1,51.6 L1069.4,51.7 L1070.7,51.2 L1072.0,50.6 L1073.1,51.2 L1074.5,51.5 L1075.4,52.5 L1076.8,52.8 L1077.7,53.8 L1079.4,53.5 L1080.9,53.5 L1082.0,54.0 L1082.6,55.9 L1084.3,55.2 L1085.0,56.9 L1086.3,57.4 L1088.1,56.6 L1088.5,58.8 L1090.5,57.6 L1090.8,60.1 L1092.1,60.6 L1093.9,59.7 L1094.6,61.4 L1095.6,61.9 L1097.6,61.5 L1097.8,63.4 L1099.7,63.1 L1099.5,65.5 L1100.8,65.9 L1101.4,67.3 L1103.9,66.3 L1104.3,67.6 L1105.4,68.5 L1106.6,68.8 L1108.1,68.0 L1109.0,70.0 L1110.3,70.1 L1111.8,69.0 L1113.1,68.9 L1113.8,70.1 L1114.6,71.2 L1114.1,72.5 L1114.7,73.6 L1115.1,74.8 L1115.8,76.8 L1114.6,77.6 L1113.1,78.1 L1111.6,78.6 L1110.9,80.2 L1109.8,79.0 L1108.4,79.1 L1107.3,77.8 L1105.8,78.0 L1104.2,78.3 L1103.6,78.2 L1102.7,79.2 L1101.7,80.1 L1099.5,80.8 L1100.5,81.5 L1101.7,81.9 L1103.6,81.3 L1103.9,83.1 L1105.6,82.7 L1105.6,84.9 L1107.0,85.1 L1107.8,86.0 L1109.0,86.6 L1110.3,87.1 L1110.6,88.8 L1111.4,89.9 L1113.6,89.4 L1114.4,90.8 L1113.9,92.2 L1114.3,93.6 L1115.0,95.0 L1113.7,94.9 L1112.3,93.6 L1110.9,95.4 L1109.3,95.4 L1108.7,93.8 L1107.2,94.2 L1106.8,92.2 L1105.1,92.9 L1103.5,92.8 L1105.4,92.6 L1105.6,94.5 L1106.8,95.1 L1107.8,95.9 L1109.7,95.8 L1110.7,96.5 L1112.0,97.1 L1112.4,98.1 L1113.4,99.7 L1115.0,98.6 L1115.8,100.6 L1114.8,99.5 L1113.2,100.1 L1112.0,99.3 L1110.7,99.2 L1109.7,97.8 L1108.0,98.8 L1107.2,96.3 L1105.7,97.0 L1104.4,96.5 L1103.0,96.6 L1101.7,96.5 L1100.6,95.1 L1099.6,95.2 L1098.4,94.5 L1096.1,95.4 L1095.8,93.4 L1095.2,91.9 L1093.5,92.0" fill="none" stroke="#000" stroke-width="1.3" stroke-linejoin="round"/>
<path d="M952.5,56.2 L953.8,55.8 L955.1,55.7 L956.2,57.1 L957.5,57.1 L958.7,57.7 L960.1,55.8 L961.3,56.7 L963.3,56.2 L963.9,57.4 L964.3,58.8 L966.0,58.9 L966.6,60.1 L966.9,61.8 L968.2,62.1 L969.8,61.9 L970.7,63.2 L971.7,64.2 L973.7,62.9 L974.1,65.1 L975.4,65.7 L977.0,65.7 L978.4,66.0 L978.4,68.5 L980.4,67.9 L981.8,68.2 L982.9,68.9 L983.0,71.2 L984.3,71.5 L985.0,72.6 L986.2,73.2 L987.4,73.6 L987.8,75.2 L989.5,74.7 L990.8,75.3 L992.0,76.2 L993.4,75.9 L994.6,76.6 L996.0,76.1 L997.3,76.6 L998.8,75.2 L1000.6,76.2 L1001.0,77.6 L1002.0,78.6 L1002.1,80.0 L1002.9,81.1 L1003.0,82.5 L1003.3,84.2 L1003.5,82.8 L1004.2,81.8 L1004.7,80.6 L1005.5,79.7 L1007.6,79.7 L1007.5,78.4 L1008.8,78.3 L1010.1,77.2 L1011.4,78.6 L1012.8,77.2 L1014.1,77.7 L1015.4,79.2 L1016.7,78.3 L1018.0,78.1 L1019.1,78.7 L1020.2,79.4 L1021.4,79.6 L1023.0,78.5 L1024.3,78.4 L1025.3,79.4 L1026.5,79.5 L1027.8,79.7 L1028.5,81.8 L1029.2,81.5 L1031.1,81.9 L1031.2,83.5 L1032.5,84.2 L1034.0,85.8 L1033.3,84.2 L1033.2,82.7 L1033.5,81.4 L1034.6,80.3 L1034.3,78.8 L1035.5,77.7 L1036.6,76.6 L1035.8,75.1 L1034.9,73.9 L1036.3,72.0 L1034.7,71.1 L1033.3,70.2 L1032.8,68.9 L1032.5,67.6 L1033.2,66.3 L1034.5,65.9 L1035.1,64.3 L1035.8,62.8 L1037.8,62.8 L1037.1,64.7 L1038.7,65.2 L1038.4,66.8 L1039.3,67.7 L1041.8,67.7 L1040.9,69.7 L1041.8,70.9 L1043.1,71.1 L1044.5,71.1 L1045.2,72.5 L1046.9,71.9 L1047.7,73.2 L1048.8,73.8 L1049.4,75.5 L1050.2,75.6 L1052.2,75.6 L1052.5,77.0 L1053.9,77.5 L1053.2,79.6 L1054.0,80.6 L1055.0,80.8 L1056.3,80.0 L1056.8,78.8 L1056.2,77.2 L1058.1,76.6 L1058.1,75.2 L1059.1,74.3 L1059.1,72.9 L1058.4,71.2 L1060.0,70.1 L1061.2,69.3 L1062.4,71.6 L1063.6,71.4 L1064.8,71.3 L1066.5,70.5 L1067.1,71.8 L1065.1,73.1 L1064.9,74.4 L1067.0,75.8 L1066.0,77.1 L1067.1,78.4 L1065.3,79.7 L1065.5,80.5 L1065.8,82.5 L1064.3,82.8 L1063.3,83.5 L1063.0,84.8 L1061.1,84.6 L1061.0,86.3 L1060.5,87.5 L1058.9,87.9 L1057.6,88.6 L1057.0,90.7 L1055.7,90.5 L1054.3,88.8 L1053.0,89.6 L1051.7,90.2 L1050.3,90.0 L1049.0,90.9 L1047.7,90.7 L1046.3,90.4 L1044.8,90.2 L1046.3,90.4 L1047.2,91.2 L1048.3,91.8 L1048.2,93.7 L1049.8,93.8 L1049.4,95.9 L1051.0,96.0" fill="none" stroke="#000" stroke-width="1.3" stroke-linejoin="round"/>
<path d="M1159.7,167.9 L1160.8,166.7 L1162.4,167.1 L1163.9,167.3 L1165.3,166.9 L1166.2,165.6 L1167.4,165.0 L1168.1,163.3 L1170.0,163.7 L1171.2,164.6 L1171.3,166.5 L1172.9,167.0 L1174.5,168.4 L1174.9,166.8 L1175.5,165.3 L1176.9,165.7 L1178.2,165.9 L1179.7,165.0 L1181.1,164.6 L1182.2,165.9 L1182.5,164.5 L1183.5,163.3 L1183.4,161.6 L1182.4,160.7 L1181.8,159.6 L1180.6,158.9 L1179.3,158.5 L1178.3,157.5 L1178.8,154.9 L1177.6,154.0 L1175.8,154.1 L1175.1,152.0 L1173.4,152.2 L1172.0,151.5" fill="none" stroke="#000" stroke-width="1.3" stroke-linejoin="round"/>
<path d="M1157.6,142.8 L1156.3,143.6 L1157.3,145.4 L1156.7,146.5 L1156.7,147.8 L1156.1,148.9 L1155.9,150.3 L1155.2,151.4 L1153.9,152.3 L1152.9,152.5 L1152.0,153.9 L1151.2,155.3 L1150.0,155.9 L1148.4,156.0 L1147.5,157.5 L1146.6,158.5 L1144.8,157.0 L1143.8,157.9 L1143.0,159.5 L1141.9,160.0 L1140.7,160.3 L1138.8,158.6 L1138.4,161.1 L1136.7,160.3 L1135.3,159.9 L1134.9,162.6 L1133.4,162.2 L1132.2,162.4 L1130.0,162.4 L1131.2,164.4 L1130.5,165.6 L1130.0,166.9 L1128.9,167.9" fill="none" stroke="#000" stroke-width="1.3" stroke-linejoin="round"/>
<path d="M1088.0,101.5 L1089.6,101.0 L1090.5,102.1 L1092.0,102.0 L1093.2,102.4 L1094.1,103.5 L1095.5,103.6 L1096.5,104.6 L1097.1,106.0 L1099.3,105.4 L1099.5,107.4 L1101.3,107.2 L1101.5,109.4 L1102.4,109.8 L1104.2,110.6 L1103.2,112.5 L1104.0,113.6 L1106.0,114.3 L1105.7,115.9 L1105.8,117.4 L1106.0,118.9 L1108.3,119.1 L1108.8,120.4 L1108.3,122.2 L1110.3,123.9 L1110.1,121.4 L1111.1,120.6 L1113.2,121.1 L1113.6,119.4 L1114.7,118.9 L1116.3,118.2 L1116.4,116.9 L1116.7,115.6 L1117.6,114.7 L1117.7,113.4 L1118.4,112.1 L1118.1,110.7 L1118.1,109.4 L1116.9,108.0 L1119.2,106.9 L1118.3,105.5" fill="none" stroke="#000" stroke-width="1.3" stroke-linejoin="round"/>
<path d="M909.0,91.5 L908.0,90.6 L907.2,89.3 L905.2,89.8 L904.5,88.5 L903.9,87.3 L903.9,85.6 L901.3,85.8 L900.6,84.6 L900.4,83.1 L900.7,81.3 L900.0,80.1 L899.0,80.2 L896.9,79.4 L896.5,80.9 L895.7,80.6 L894.6,80.5 L893.1,82.4 L892.3,80.0 L891.0,81.1 L889.9,82.0 L888.6,81.4 L887.5,82.5 L886.1,81.0 L885.1,81.7 L883.4,81.2 L883.1,78.9 L884.6,78.8 L886.1,78.6 L886.6,76.8 L887.8,75.5 L889.1,75.8 L890.1,74.9 L891.5,75.2 L893.0,76.2 L893.6,75.7 L892.8,74.9 L892.3,73.4 L891.1,74.2 L889.8,74.6 L888.6,74.4 L887.2,73.6 L885.9,73.5 L884.7,73.7 L883.8,75.3 L882.4,75.1 L881.3,75.8 L879.9,75.0 L878.8,75.8 L876.9,75.5 L876.8,76.9 L876.3,78.2 L876.2,80.3 L874.8,79.7 L873.9,81.2 L872.6,81.4 L871.0,79.8 L870.1,81.8 L868.9,82.4 L867.3,80.9 L866.3,82.4 L864.9,82.3 L863.5,81.9 L862.1,81.2 L861.2,83.7 L859.7,82.4 L858.7,84.1 L857.1,82.6 L856.1,83.8 L855.0,84.8 L853.5,84.3 L852.3,83.5 L851.0,84.6 L849.9,83.8 L848.8,82.7 L847.7,82.5 L846.4,82.4 L845.0,82.8 L843.9,82.0 L842.3,83.1 L841.2,82.3 L839.8,82.2 L838.4,82.0 L837.1,81.6 L835.9,80.9 L835.7,78.3 L834.0,78.8" fill="none" stroke="#000" stroke-width="1.3" stroke-linejoin="round"/>
<path d="M1147.4,181.2 L1148.6,180.9 L1149.8,180.4 L1151.1,180.6 L1152.2,180.1 L1153.1,179.1 L1154.5,179.7 L1155.2,178.4 L1155.6,179.2 L1156.0,177.8 L1157.8,176.5 L1156.6,175.1 L1157.6,175.5 L1158.3,176.8 L1159.0,176.8 L1160.6,177.3 L1162.2,177.7 L1162.7,179.2 L1162.3,180.4 L1160.4,180.6 L1161.5,183.0 L1159.9,183.5 L1158.3,183.9 L1157.4,185.1 L1156.5,186.2 L1155.1,186.9 L1155.0,188.8 L1152.8,188.9 L1151.9,189.8 L1152.8,192.2 L1151.4,192.7 L1150.5,193.7 L1149.7,194.6 L1148.8,195.8 L1149.0,197.3 L1147.6,198.3 L1147.4,199.7" fill="none" stroke="#000" stroke-width="1.3" stroke-linejoin="round"/>
<path d="M1045.4,57.4 L1045.4,58.7 L1046.9,59.3 L1046.0,61.1 L1048.2,61.3 L1047.7,63.3 L1049.5,62.5 L1049.6,64.8 L1050.8,65.2 L1052.8,64.0 L1053.3,65.8 L1054.9,64.9 L1056.1,65.9 L1057.2,67.0 L1058.9,65.5 L1060.2,65.9 L1061.0,65.8 L1062.2,65.4 L1063.7,66.0 L1064.6,64.8 L1065.7,64.3 L1067.3,65.3 L1068.1,63.9 L1069.6,63.6 L1070.7,64.2 L1071.3,65.9 L1073.1,65.2 L1073.9,66.6 L1074.7,67.8 L1076.3,67.6 L1077.8,67.5 L1079.1,67.9 L1079.5,69.7 L1081.2,69.3 L1082.0,70.5 L1082.5,72.0 L1083.3,72.3 L1085.0,72.9 L1085.2,74.1 L1085.9,75.2 L1086.3,76.3 L1086.3,77.7 L1087.7,79.2 L1087.2,80.3 L1086.7,81.4 L1085.8,82.3 L1084.9,83.2 L1084.9,84.6 L1084.0,85.5" fill="none" stroke="#000" stroke-width="1.3" stroke-linejoin="round"/>
<path d="M1118.3,232.0 L1118.7,233.5 L1116.8,234.2 L1116.9,235.6 L1117.5,237.2 L1117.1,237.9 L1115.5,239.2 L1117.1,240.3 L1115.7,241.6 L1116.1,242.8 L1116.5,244.0 L1115.9,245.6 L1116.7,246.9 L1117.0,248.3 L1117.7,249.4 L1118.4,250.5 L1118.9,251.6 L1118.5,252.9 L1119.1,254.0 L1118.8,255.6 L1120.0,256.4" fill="none" stroke="#000" stroke-width="1.3" stroke-linejoin="round"/>
<path d="M928.5,131.0 L929.6,132.4 L928.1,134.0 L929.8,135.4 L929.5,137.0 L927.6,138.6 L929.7,139.9 L928.9,141.4 L929.6,142.6 L929.9,144.0 L930.0,145.3 L931.0,146.5 L929.7,148.2 L931.9,149.1 L932.0,150.6 L932.9,151.9 L932.7,153.4 L932.7,154.9 L932.0,156.6 L933.8,157.4 L934.9,158.4 L935.1,159.8 L933.8,161.7 L936.5,162.0 L935.7,163.7 L936.8,164.7 L936.6,166.2 L938.0,167.1 L937.8,168.7 L938.9,169.7 L939.1,171.1 L938.8,172.6 L940.0,173.7 L940.5,175.0" fill="none" stroke="#000" stroke-width="3.0" stroke-linejoin="round"/>
<path d="M926.0,130.0 L927.0,131.2 L925.8,132.8 L927.7,133.8 L927.0,135.3 L926.5,136.8 L928.3,137.8 L927.6,139.4 L927.8,140.7 L929.2,141.8 L928.7,143.3 L928.4,144.7 L929.1,146.0 L929.0,147.5 L930.5,148.6 L930.7,150.1 L931.3,151.4 L931.0,153.0" fill="none" stroke="#000" stroke-width="1.8" stroke-linejoin="round"/>
<path d="M924.7,157.1 L925.4,158.3 L927.0,158.6 L928.0,159.4 L928.7,160.9 L929.8,161.7 L930.2,163.2 L930.9,164.4 L931.7,165.6 L932.3,166.8 L932.8,168.1 L934.1,168.9 L934.2,170.2 L935.2,171.1 L934.7,172.7 L936.5,173.8 L936.0,175.7 L937.6,176.8 L937.2,178.4 L938.2,179.4 L938.6,180.7 L938.9,182.0" fill="none" stroke="#000" stroke-width="2.4" stroke-linejoin="round"/>
<path d="M926.5,157.0 L927.5,158.0 L928.5,159.2 L930.2,159.3 L931.3,160.4 L931.8,162.0 L932.8,163.0 L934.2,163.9 L934.4,165.3 L935.3,166.3 L935.5,167.8 L936.9,168.6 L937.4,169.9 L937.0,171.4 L938.2,172.3 L938.8,173.5 L938.6,175.0 L939.5,176.0" fill="none" stroke="#000" stroke-width="1.6" stroke-linejoin="round"/>
<path d="M917,133.4 L920.5,133.4 L920,141 L919.3,147.6 L917.5,141.7 Z" fill="#000" stroke="#000" stroke-width="1"/>
<path d="M1074.2,20.6 L1075.7,21.5 L1078.1,20.8 L1079.5,19.4 L1080.1,19.7" fill="none" stroke="#000" stroke-width="1.5" stroke-linejoin="round" stroke-linecap="round"/>
<path d="M1080.1,16.2 L1081.3,15.7 L1083.4,16.6 L1084.1,15.3 L1086.0,15.4 L1088.0,14.4 L1090.2,13.5" fill="none" stroke="#000" stroke-width="1.5" stroke-linejoin="round" stroke-linecap="round"/>
<path d="M1045.2,32.2 L1045.6,31.8 L1047.2,31.5 L1048.0,31.8 L1049.2,31.1 L1051.5,29.9 L1051.4,29.7" fill="none" stroke="#000" stroke-width="1.5" stroke-linejoin="round" stroke-linecap="round"/>
<path d="M1040.8,26.4 L1043.3,26.2 L1044.2,25.7 L1044.2,24.0 L1046.9,24.2 L1047.2,23.9 L1048.7,23.2" fill="none" stroke="#000" stroke-width="1.5" stroke-linejoin="round" stroke-linecap="round"/>
<path d="M1051.4,47.3 L1054.2,46.2 L1056.5,46.3 L1056.4,45.2" fill="none" stroke="#000" stroke-width="1.5" stroke-linejoin="round" stroke-linecap="round"/>
<path d="M1068.3,20.6 L1069.3,19.2 L1071.5,18.3 L1073.0,17.8 L1073.0,17.0 L1075.3,16.5" fill="none" stroke="#000" stroke-width="1.5" stroke-linejoin="round" stroke-linecap="round"/>
<path d="M1043.5,44.9 L1044.8,44.0 L1045.9,43.8 L1046.9,43.3 L1047.7,41.7" fill="none" stroke="#000" stroke-width="1.5" stroke-linejoin="round" stroke-linecap="round"/>
<path d="M1040.8,44.3 L1042.0,44.3 L1042.9,44.5 L1045.4,42.9 L1046.9,44.1 L1047.9,42.4 L1049.7,42.3 L1051.3,43.0" fill="none" stroke="#000" stroke-width="1.5" stroke-linejoin="round" stroke-linecap="round"/>
<path d="M1079.8,17.5 L1081.2,16.7 L1082.1,16.6 L1083.8,17.1 L1084.4,16.5 L1085.1,15.4" fill="none" stroke="#000" stroke-width="1.5" stroke-linejoin="round" stroke-linecap="round"/>
<path d="M1078.6,16.1 L1079.0,16.0 L1081.5,14.9 L1081.5,15.4 L1084.1,14.8 L1084.7,14.9" fill="none" stroke="#000" stroke-width="1.5" stroke-linejoin="round" stroke-linecap="round"/>
<path d="M1043.4,45.0 L1044.6,43.4 L1046.4,43.2 L1047.8,43.7 L1049.3,41.8 L1049.9,42.2 L1051.5,42.0 L1052.8,40.5 L1053.7,41.3 L1055.1,40.7" fill="none" stroke="#000" stroke-width="1.5" stroke-linejoin="round" stroke-linecap="round"/>
<path d="M1045.9,46.9 L1046.7,45.7 L1048.6,45.6 L1049.9,44.7 L1050.3,44.3 L1052.9,43.9 L1054.4,43.7 L1055.3,43.2 L1056.7,42.3" fill="none" stroke="#000" stroke-width="1.5" stroke-linejoin="round" stroke-linecap="round"/>
<path d="M1051.4,46.9 L1056.5,45.4 L1057.2,45.3 L1058.4,45.5 L1059.9,44.9 L1060.1,43.8" fill="none" stroke="#000" stroke-width="1.5" stroke-linejoin="round" stroke-linecap="round"/>
<path d="M1045.4,47.8 L1045.9,46.5 L1047.3,46.6 L1049.7,46.5 L1050.2,45.2 L1052.2,44.5 L1053.0,43.6 L1054.0,43.9" fill="none" stroke="#000" stroke-width="1.5" stroke-linejoin="round" stroke-linecap="round"/>
<path d="M1053.0,46.3 L1053.4,45.9 L1054.9,46.7 L1057.2,46.1" fill="none" stroke="#000" stroke-width="1.5" stroke-linejoin="round" stroke-linecap="round"/>
<path d="M1046.4,47.3 L1047.0,46.5 L1048.5,46.1 L1049.3,46.9 L1050.9,46.1 L1052.8,45.3 L1053.9,45.0 L1055.5,44.1" fill="none" stroke="#000" stroke-width="1.5" stroke-linejoin="round" stroke-linecap="round"/>
<path d="M1060.7,37.7 L1062.6,37.9 L1062.8,37.1 L1065.5,36.9 L1066.1,37.3" fill="none" stroke="#000" stroke-width="1.5" stroke-linejoin="round" stroke-linecap="round"/>
<path d="M1039.3,34.5 L1042.0,33.8 L1043.2,33.7 L1043.7,33.1 L1045.8,32.2 L1046.0,31.8 L1048.6,30.9 L1049.6,31.4 L1050.9,29.5" fill="none" stroke="#000" stroke-width="1.5" stroke-linejoin="round" stroke-linecap="round"/>
<path d="M1064.3,22.9 L1066.2,21.8 L1067.8,22.4 L1069.3,22.2 L1070.3,21.7 L1071.5,21.2 L1073.5,20.7 L1073.4,21.0 L1075.4,20.5" fill="none" stroke="#000" stroke-width="1.5" stroke-linejoin="round" stroke-linecap="round"/>
<path d="M1065.8,23.0 L1066.9,21.1 L1068.7,21.7 L1069.2,19.7 L1071.0,20.1" fill="none" stroke="#000" stroke-width="1.5" stroke-linejoin="round" stroke-linecap="round"/>
<path d="M1046.8,45.4 L1048.6,44.5 L1049.7,45.8 L1051.6,45.3 L1052.2,44.7 L1054.3,44.5 L1055.1,43.3 L1055.8,44.2 L1058.6,42.9 L1059.6,42.8" fill="none" stroke="#000" stroke-width="1.5" stroke-linejoin="round" stroke-linecap="round"/>
<path d="M1045.6,36.1 L1047.3,36.6 L1048.3,35.8 L1049.5,35.6 L1050.9,33.6 L1052.2,34.4 L1054.2,33.8 L1055.2,32.0" fill="none" stroke="#000" stroke-width="1.5" stroke-linejoin="round" stroke-linecap="round"/>
<path d="M1048.3,29.5 L1049.4,29.5 L1051.0,28.7 L1052.9,29.2 L1053.2,28.9 L1054.7,28.6" fill="none" stroke="#000" stroke-width="1.5" stroke-linejoin="round" stroke-linecap="round"/>
<path d="M1064.8,26.4 L1067.2,25.8 L1068.6,24.6 L1069.8,25.5 L1070.7,25.6 L1071.1,24.4" fill="none" stroke="#000" stroke-width="1.5" stroke-linejoin="round" stroke-linecap="round"/>
<path d="M1034.5,31.2 L1036.6,30.8 L1036.7,29.5 L1038.3,29.2 L1040.2,28.7 L1041.7,28.5 L1042.6,28.7 L1044.9,27.5" fill="none" stroke="#000" stroke-width="1.5" stroke-linejoin="round" stroke-linecap="round"/>
<path d="M1040.3,42.4 L1041.8,42.0 L1042.9,41.0 L1045.4,41.8 L1046.2,40.5 L1047.5,40.9 L1049.9,40.5" fill="none" stroke="#000" stroke-width="1.5" stroke-linejoin="round" stroke-linecap="round"/>
<path d="M1037.5,35.0 L1038.4,35.8 L1039.4,34.2 L1040.9,34.2 L1042.7,33.8 L1044.5,33.2 L1045.4,33.6 L1047.2,33.7" fill="none" stroke="#000" stroke-width="1.5" stroke-linejoin="round" stroke-linecap="round"/>
<path d="M1048.3,32.3 L1049.0,31.7 L1050.9,32.1 L1052.4,31.0 L1053.3,31.3 L1053.6,31.2 L1056.2,29.7" fill="none" stroke="#000" stroke-width="1.5" stroke-linejoin="round" stroke-linecap="round"/>
<path d="M1065.8,33.5 L1066.6,32.3 L1068.0,32.1 L1070.3,31.8 L1070.5,30.5" fill="none" stroke="#000" stroke-width="1.5" stroke-linejoin="round" stroke-linecap="round"/>
<path d="M1032.1,29.5 L1033.3,29.9 L1034.6,28.0 L1036.0,28.4 L1037.5,26.3 L1037.2,26.0 L1039.3,25.6" fill="none" stroke="#000" stroke-width="1.5" stroke-linejoin="round" stroke-linecap="round"/>
<path d="M1036.3,35.0 L1037.6,35.1 L1038.6,34.8 L1039.8,35.0 L1041.3,34.4" fill="none" stroke="#000" stroke-width="1.5" stroke-linejoin="round" stroke-linecap="round"/>
<path d="M1061.3,29.1 L1062.2,28.1 L1063.6,27.5 L1064.6,27.7 L1066.0,27.1 L1067.3,25.9 L1069.2,26.2" fill="none" stroke="#000" stroke-width="1.5" stroke-linejoin="round" stroke-linecap="round"/>
<path d="M1054.9,25.3 L1056.0,25.1 L1057.3,24.4 L1059.1,23.8 L1060.6,24.1 L1061.0,23.7 L1062.0,22.0" fill="none" stroke="#000" stroke-width="1.5" stroke-linejoin="round" stroke-linecap="round"/>
<path d="M1058.9,22.5 L1060.2,22.8 L1061.2,21.2 L1063.3,20.6 L1063.3,19.9 L1066.1,20.1 L1066.9,19.7 L1068.6,18.8 L1068.8,18.8 L1069.5,17.7 L1072.0,17.5" fill="none" stroke="#000" stroke-width="1.5" stroke-linejoin="round" stroke-linecap="round"/>
<path d="M992.5,42.1 L994.1,42.6 L996.5,43.3" fill="none" stroke="#000" stroke-width="1.5" stroke-linejoin="round" stroke-linecap="round"/>
<path d="M997.0,44.8 L999.6,45.2 L1000.9,45.0 L1001.7,45.2 L1003.8,45.2 L1004.8,46.0 L1005.7,45.3" fill="none" stroke="#000" stroke-width="1.5" stroke-linejoin="round" stroke-linecap="round"/>
<path d="M998.0,42.1 L999.0,41.5 L1000.4,42.3 L1001.1,42.4 L1002.2,42.3" fill="none" stroke="#000" stroke-width="1.5" stroke-linejoin="round" stroke-linecap="round"/>
<path d="M1001.8,37.7 L1003.3,38.7 L1005.1,39.0 L1007.0,39.6 L1008.0,40.3" fill="none" stroke="#000" stroke-width="1.5" stroke-linejoin="round" stroke-linecap="round"/>
<path d="M1007.6,42.7 L1009.1,42.8 L1010.1,42.2 L1011.3,42.3" fill="none" stroke="#000" stroke-width="1.5" stroke-linejoin="round" stroke-linecap="round"/>
<path d="M1003.4,42.8 L1005.3,44.2 L1006.9,43.7 L1008.5,43.8 L1009.5,44.3" fill="none" stroke="#000" stroke-width="1.5" stroke-linejoin="round" stroke-linecap="round"/>
<path d="M988.2,39.1 L989.0,39.1 L989.6,39.3 L991.8,40.0 L992.7,41.2 L993.4,40.4 L994.4,41.2" fill="none" stroke="#000" stroke-width="1.5" stroke-linejoin="round" stroke-linecap="round"/>
<path d="M993.6,33.8 L993.9,33.1 L995.3,34.1" fill="none" stroke="#000" stroke-width="1.5" stroke-linejoin="round" stroke-linecap="round"/>
<path d="M995.0,34.6 L997.2,35.8 L998.0,36.2 L1000.2,35.3 L1001.4,36.9" fill="none" stroke="#000" stroke-width="1.5" stroke-linejoin="round" stroke-linecap="round"/>
<path d="M988.7,39.5 L990.6,38.6 L991.6,39.0 L993.2,39.4 L994.6,40.1 L996.5,41.2" fill="none" stroke="#000" stroke-width="1.5" stroke-linejoin="round" stroke-linecap="round"/>
<path d="M996.9,35.2 L997.8,35.6 L1000.2,35.8 L1001.1,36.1" fill="none" stroke="#000" stroke-width="1.5" stroke-linejoin="round" stroke-linecap="round"/>
<path d="M992.4,39.5 L994.3,39.5 L994.8,40.3 L996.6,40.1 L998.0,39.7" fill="none" stroke="#000" stroke-width="1.5" stroke-linejoin="round" stroke-linecap="round"/>
<path d="M988.0,33.6 L989.6,34.1 L990.2,34.3 L991.4,34.4" fill="none" stroke="#000" stroke-width="1.5" stroke-linejoin="round" stroke-linecap="round"/>
<path d="M982.1,35.7 L984.4,35.9 L985.2,36.5 L987.3,36.2 L988.7,36.6" fill="none" stroke="#000" stroke-width="1.5" stroke-linejoin="round" stroke-linecap="round"/>
<path d="M1018.2,32.3 L1020.1,33.6 L1020.5,34.2 L1021.5,35.3 L1022.5,35.3 L1023.6,37.4" fill="none" stroke="#000" stroke-width="1.5" stroke-linejoin="round" stroke-linecap="round"/>
<path d="M1023.2,41.0 L1023.6,41.7 L1024.6,42.3 L1026.1,43.3 L1026.3,43.9" fill="none" stroke="#000" stroke-width="1.5" stroke-linejoin="round" stroke-linecap="round"/>
<path d="M1020.4,33.0 L1022.3,34.7 L1024.1,34.0 L1024.0,35.4 L1026.1,36.8 L1026.9,37.9" fill="none" stroke="#000" stroke-width="1.5" stroke-linejoin="round" stroke-linecap="round"/>
<path d="M1024.7,43.8 L1026.1,43.7 L1025.8,44.7" fill="none" stroke="#000" stroke-width="1.5" stroke-linejoin="round" stroke-linecap="round"/>
<path d="M1017.1,34.6 L1018.6,35.1 L1019.6,34.7 L1021.9,35.4 L1022.6,36.5" fill="none" stroke="#000" stroke-width="1.5" stroke-linejoin="round" stroke-linecap="round"/>
<path d="M1019.9,34.2 L1020.9,35.2 L1022.7,35.9 L1023.0,36.4" fill="none" stroke="#000" stroke-width="1.5" stroke-linejoin="round" stroke-linecap="round"/>
<path d="M1022.2,43.6 L1022.7,44.7 L1023.9,45.6 L1025.0,45.2" fill="none" stroke="#000" stroke-width="1.5" stroke-linejoin="round" stroke-linecap="round"/>
<path d="M1000.3,62.6 L1002.0,63.6 L1003.2,63.5 L1004.6,62.9 L1006.0,63.0 L1005.9,63.7" fill="none" stroke="#000" stroke-width="1.5" stroke-linejoin="round" stroke-linecap="round"/>
<path d="M1000.1,60.4 L1001.0,60.6 L1002.7,61.0 L1004.4,61.7" fill="none" stroke="#000" stroke-width="1.5" stroke-linejoin="round" stroke-linecap="round"/>
<path d="M1001.6,62.8 L1003.4,63.3 L1004.2,63.0 L1005.7,63.3 L1007.8,63.5 L1008.7,64.1" fill="none" stroke="#000" stroke-width="1.5" stroke-linejoin="round" stroke-linecap="round"/>
<path d="M1001.5,68.4 L1003.0,68.7 L1004.3,68.4 L1006.9,68.3" fill="none" stroke="#000" stroke-width="1.5" stroke-linejoin="round" stroke-linecap="round"/>
<path d="M1024.7,72.5 L1025.9,73.5 L1027.8,73.0 L1028.2,73.1" fill="none" stroke="#000" stroke-width="1.5" stroke-linejoin="round" stroke-linecap="round"/>
<path d="M1015.3,74.2 L1016.3,73.5 L1018.8,72.7 L1019.6,72.9 L1020.7,73.0" fill="none" stroke="#000" stroke-width="1.5" stroke-linejoin="round" stroke-linecap="round"/>
<path d="M990.9,75.7 L992.7,75.2 L993.9,75.7 L994.4,75.7" fill="none" stroke="#000" stroke-width="1.5" stroke-linejoin="round" stroke-linecap="round"/>
<path d="M998.9,64.4 L1000.4,64.7 L1001.8,64.4 L1002.7,65.3 L1004.2,65.2 L1005.4,65.8 L1006.7,65.1" fill="none" stroke="#000" stroke-width="1.5" stroke-linejoin="round" stroke-linecap="round"/>
<path d="M1093.0,61.8 L1093.8,63.1 L1096.0,63.7 L1096.4,63.6 L1097.8,64.2 L1099.3,64.1" fill="none" stroke="#000" stroke-width="1.5" stroke-linejoin="round" stroke-linecap="round"/>
<path d="M1061.4,64.1 L1062.9,63.6 L1063.2,65.0" fill="none" stroke="#000" stroke-width="1.5" stroke-linejoin="round" stroke-linecap="round"/>
<path d="M1086.2,87.6 L1087.9,89.0 L1088.7,89.2 L1090.3,90.5 L1091.6,90.8 L1092.4,91.5 L1093.3,90.9" fill="none" stroke="#000" stroke-width="1.5" stroke-linejoin="round" stroke-linecap="round"/>
<path d="M1086.5,75.4 L1087.7,75.9 L1089.4,76.0 L1090.6,77.4 L1092.1,76.7 L1092.4,77.4 L1093.2,78.5" fill="none" stroke="#000" stroke-width="1.5" stroke-linejoin="round" stroke-linecap="round"/>
<path d="M1097.6,90.1 L1099.4,90.3 L1100.9,91.2 L1102.1,92.9 L1102.5,92.6 L1104.3,93.4 L1104.4,95.4" fill="none" stroke="#000" stroke-width="1.5" stroke-linejoin="round" stroke-linecap="round"/>
<path d="M1057.8,61.7 L1058.9,62.1 L1061.2,63.2 L1062.3,64.2 L1062.7,63.7 L1064.9,64.4 L1066.7,64.7" fill="none" stroke="#000" stroke-width="1.5" stroke-linejoin="round" stroke-linecap="round"/>
<path d="M1099.8,82.3 L1100.0,82.3 L1101.5,83.1 L1102.1,84.2 L1102.9,84.3" fill="none" stroke="#000" stroke-width="1.5" stroke-linejoin="round" stroke-linecap="round"/>
<path d="M1060.0,55.9 L1061.0,55.4 L1062.4,57.2 L1063.6,57.7 L1065.0,57.7 L1066.1,59.1 L1067.8,60.0" fill="none" stroke="#000" stroke-width="1.5" stroke-linejoin="round" stroke-linecap="round"/>
<path d="M1091.1,77.7 L1091.9,77.0 L1094.5,78.4 L1095.3,78.7 L1095.6,78.9 L1098.2,79.6" fill="none" stroke="#000" stroke-width="1.5" stroke-linejoin="round" stroke-linecap="round"/>
<path d="M1085.3,74.5 L1087.0,74.6 L1088.9,75.4 L1089.6,75.3" fill="none" stroke="#000" stroke-width="1.5" stroke-linejoin="round" stroke-linecap="round"/>
<path d="M1095.6,82.5 L1096.4,81.8 L1097.0,83.2 L1099.0,83.4 L1100.2,83.6 L1100.9,84.4 L1102.7,85.8" fill="none" stroke="#000" stroke-width="1.5" stroke-linejoin="round" stroke-linecap="round"/>
<path d="M1061.3,53.2 L1061.5,54.3 L1063.6,55.0 L1064.1,56.1 L1065.8,56.5 L1067.1,57.1 L1068.2,57.3 L1069.1,57.6" fill="none" stroke="#000" stroke-width="1.5" stroke-linejoin="round" stroke-linecap="round"/>
<path d="M1090.3,88.7 L1092.2,89.8 L1092.2,90.1 L1094.1,90.7 L1094.8,91.0" fill="none" stroke="#000" stroke-width="1.5" stroke-linejoin="round" stroke-linecap="round"/>
<path d="M1101.8,75.7 L1103.6,76.3 L1105.6,76.2 L1106.7,76.3 L1109.0,77.1 L1110.4,76.8 L1110.3,77.3" fill="none" stroke="#000" stroke-width="1.5" stroke-linejoin="round" stroke-linecap="round"/>
<path d="M1062.4,59.8 L1063.9,60.6 L1065.5,60.6 L1066.2,62.0 L1068.4,62.1 L1069.3,62.2" fill="none" stroke="#000" stroke-width="1.5" stroke-linejoin="round" stroke-linecap="round"/>
<path d="M1109.1,72.9 L1109.6,74.1 L1111.7,74.7 L1112.6,75.4 L1114.6,74.9" fill="none" stroke="#000" stroke-width="1.5" stroke-linejoin="round" stroke-linecap="round"/>
<path d="M1076.2,55.2 L1078.2,55.6 L1078.9,56.7 L1079.5,56.5 L1081.4,57.9" fill="none" stroke="#000" stroke-width="1.5" stroke-linejoin="round" stroke-linecap="round"/>
<path d="M1092.9,66.0 L1093.6,65.6 L1095.1,65.8 L1095.2,66.9 L1096.7,67.6" fill="none" stroke="#000" stroke-width="1.5" stroke-linejoin="round" stroke-linecap="round"/>
<path d="M1073.3,61.0 L1076.6,62.3 L1078.7,62.6" fill="none" stroke="#000" stroke-width="1.5" stroke-linejoin="round" stroke-linecap="round"/>
<path d="M1079.3,59.1 L1080.7,60.7 L1082.6,60.1 L1083.1,61.7 L1085.3,61.2" fill="none" stroke="#000" stroke-width="1.5" stroke-linejoin="round" stroke-linecap="round"/>
<path d="M1084.0,59.3 L1084.6,59.0 L1086.1,59.7 L1088.3,61.6 L1089.6,61.6 L1090.8,63.2" fill="none" stroke="#000" stroke-width="1.5" stroke-linejoin="round" stroke-linecap="round"/>
<path d="M1092.7,67.5 L1094.2,68.7 L1096.0,68.9 L1097.3,69.3" fill="none" stroke="#000" stroke-width="1.5" stroke-linejoin="round" stroke-linecap="round"/>
<path d="M1083.4,63.1 L1083.9,64.0 L1085.5,63.7 L1086.8,64.6 L1088.5,64.7 L1089.2,64.7" fill="none" stroke="#000" stroke-width="1.5" stroke-linejoin="round" stroke-linecap="round"/>
<path d="M1084.8,58.5 L1086.7,59.3 L1086.7,59.6 L1088.2,60.6 L1090.5,61.1" fill="none" stroke="#000" stroke-width="1.5" stroke-linejoin="round" stroke-linecap="round"/>
<path d="M1080.0,60.6 L1081.0,62.2 L1082.4,62.6 L1084.0,64.1 L1084.8,65.3 L1086.4,64.8" fill="none" stroke="#000" stroke-width="1.5" stroke-linejoin="round" stroke-linecap="round"/>
<path d="M1084.7,61.9 L1085.0,62.6 L1085.7,62.8 L1087.1,64.3 L1088.3,64.6 L1090.7,64.9 L1092.0,65.3" fill="none" stroke="#000" stroke-width="1.5" stroke-linejoin="round" stroke-linecap="round"/>
<path d="M1067.7,68.4 L1069.6,68.5 L1071.5,69.8 L1073.6,70.5" fill="none" stroke="#000" stroke-width="1.5" stroke-linejoin="round" stroke-linecap="round"/>
<path d="M1073.5,67.9 L1075.7,68.6 L1076.1,68.6" fill="none" stroke="#000" stroke-width="1.5" stroke-linejoin="round" stroke-linecap="round"/>
<path d="M1068.6,69.5 L1069.9,69.5 L1072.0,70.4 L1072.6,70.9 L1073.4,70.7" fill="none" stroke="#000" stroke-width="1.5" stroke-linejoin="round" stroke-linecap="round"/>
<path d="M1071.7,69.1 L1073.5,69.4 L1074.6,70.2 L1074.8,70.5 L1076.1,71.7" fill="none" stroke="#000" stroke-width="1.5" stroke-linejoin="round" stroke-linecap="round"/>
<path d="M1069.9,67.5 L1070.8,69.0 L1071.5,69.7 L1072.9,69.9 L1074.6,70.4 L1076.5,70.4" fill="none" stroke="#000" stroke-width="1.5" stroke-linejoin="round" stroke-linecap="round"/>
<path d="M1068.5,66.5 L1069.7,68.2 L1071.7,67.7 L1072.2,69.6 L1074.0,69.7 L1074.4,70.1" fill="none" stroke="#000" stroke-width="1.5" stroke-linejoin="round" stroke-linecap="round"/>
<path d="M911.0,92.5 L912.5,93.2 L913.2,94.9 L915.1,95.0 L916.0,96.5 L917.2,97.3 L918.4,98.2 L920.0,98.3 L920.9,99.7 L922.2,100.4 L923.2,101.7 L925.2,101.5 L925.3,103.1 L926.7,104.4 L925.8,106.1 L926.5,107.5 L926.1,109.1 L927.3,110.4 L927.3,112.0 L927.9,113.3 L927.0,114.9 L927.6,116.3 L928.3,117.6 L928.6,119.1 L928.9,120.5 L929.0,121.9 L928.7,123.5 L929.1,125.0 L928.9,126.6 L930.2,127.9 L929.2,129.6 L929.4,130.6 L928.7,132.3 L928.1,133.6 L926.7,133.2 L925.1,134.1 L923.9,133.3 L921.9,133.3 L922.1,131.5 L921.1,130.5 L919.7,129.6 L919.4,128.0 L919.7,126.4 L919.1,125.0 L918.2,123.6 L919.2,121.9 L917.5,120.6 L918.5,118.9 L918.5,117.3 L918.0,115.8 L918.1,114.2 L917.2,112.7 L916.5,111.2 L916.7,109.6 L916.9,107.9 L916.5,106.3 L915.5,104.8 L916.0,103.0 L914.2,101.8 L914.5,100.0 L913.2,99.1 L913.1,97.6 L913.5,95.9 L911.6,95.3 L912.3,93.4 L911.0,92.5 Z" fill="#000" stroke="#000" stroke-width="1"/>
<path d="M919.5,104 l1.2,2.5 M921.5,112 l0.8,2.2 M923.5,121 l1,2 M920.3,117 l0.6,1.6" stroke="#fff" stroke-width="0.7" fill="none"/>
<path d="M1048.3,197.5 L1052.0,194.0 L1055.4,191.8 L1059.0,189.7 L1065.3,191.8 L1071.0,195.3 L1076.7,199.6 L1073.8,201.0 L1068.2,198.2 L1062.5,196.8 L1061.1,193.9 L1055.4,195.3 Z" fill="#fff" stroke="#000" stroke-width="1.35" stroke-linejoin="round"/>
<path d="M1066.0,202.4 L1069.6,203.8 L1068.9,213.8 L1069.6,223.7 L1066.8,224.5 L1065.3,223.7 L1063.9,212.3 L1065.3,203.8 Z" fill="#fff" stroke="#000" stroke-width="1.35" stroke-linejoin="round"/>
<path d="M1073.8,201.0 L1076.7,199.6 L1080.9,203.8 L1087.0,204.0 L1090.0,208.0 L1087.0,211.0 L1084.5,209.0 L1085.2,218.0 L1083.0,220.8 L1081.0,215.0 L1078.0,208.0 L1075.0,205.0 Z" fill="#fff" stroke="#000" stroke-width="1.35" stroke-linejoin="round"/>
<path d="M1083.8,225.0 L1087.0,222.5 L1090.8,220.8 L1097.2,216.6 L1098.0,218.0 L1092.0,222.5 L1087.0,226.5 Z" fill="#fff" stroke="#000" stroke-width="1.35" stroke-linejoin="round"/>
<path d="M1097.2,213.0 L1101.0,211.0 L1106.4,209.5 L1108.0,211.0 L1103.0,213.5 L1098.0,215.0 Z" fill="#fff" stroke="#000" stroke-width="1.35" stroke-linejoin="round"/>
<path d="M1084,226.5 L1090.8,222 L1097.5,217.5" fill="none" stroke="#e00000" stroke-width="1.6"/>
<path d="M1091,220.5 L1097,215" fill="none" stroke="#f04040" stroke-width="1.2"/>
<path d="M933.0,48.0 L911.2,91.5" fill="none" stroke="#000" stroke-width="1.4" stroke-linejoin="round" stroke-linecap="round"/>
<path d="M910.8,92.8 L925.0,101.0 L940.0,107.0 L955.0,112.2 L965.5,115.2 L979.0,118.2 L992.5,120.5 L1004.5,121.7 L1015.8,122.3 L1035.2,122.3" fill="none" stroke="#000" stroke-width="1.4" stroke-linejoin="round" stroke-linecap="round"/>
<path d="M941.2,55.5 L938.2,63.0 L941.2,70.5 L943.5,78.0 L945.0,87.0 L946.5,96.0 L949.5,103.5 L954.2,110.0" fill="none" stroke="#000" stroke-width="1.4" stroke-linejoin="round" stroke-linecap="round"/>
<path d="M974.9,61.7 L974.9,71.0 L985.0,81.0 L996.5,92.0 L1006.0,95.5 L1016.3,98.4 L1015.8,122.3" fill="none" stroke="#000" stroke-width="1.4" stroke-linejoin="round" stroke-linecap="round"/>
<path d="M965.5,115.2 L957.2,146.0 L961.0,155.0 L965.5,165.5 L968.5,173.0 L969.2,179.8" fill="none" stroke="#000" stroke-width="1.4" stroke-linejoin="round" stroke-linecap="round"/>
<path d="M992.5,120.5 L983.5,182.0" fill="none" stroke="#000" stroke-width="1.4" stroke-linejoin="round" stroke-linecap="round"/>
<path d="M1015.8,122.3 L1013.5,185.0" fill="none" stroke="#000" stroke-width="1.4" stroke-linejoin="round" stroke-linecap="round"/>
<path d="M1052.5,140.0 L1035.2,164.0 L1036.0,185.8" fill="none" stroke="#000" stroke-width="1.4" stroke-linejoin="round" stroke-linecap="round"/>
<path d="M1086.6,168.4 L1089.4,181.2 L1092.2,192.5 L1099.3,196.8 L1106.4,198.9 L1112.0,199.6" fill="none" stroke="#000" stroke-width="1.4" stroke-linejoin="round" stroke-linecap="round"/>
<path d="M1118.3,105.5 L1123.0,117.6 L1127.0,125.6 L1131.0,133.6 L1125.6,136.3 L1120.3,139.0 L1121.8,143.3 L1125.9,149.5 L1130.0,152.0 L1135.1,153.0 L1135.6,150.0 L1157.6,142.8" fill="none" stroke="#000" stroke-width="1.4" stroke-linejoin="round" stroke-linecap="round"/>
<path d="M940.0,174.5 L955.0,178.2 L969.2,179.8 L983.5,182.3 L1004.5,185.0 L1013.5,185.5 L1036.0,186.2 L1041.2,188.2 L1048.3,190.4 L1055.4,191.8" fill="none" stroke="#000" stroke-width="1.4" stroke-linejoin="round" stroke-linecap="round"/>
<path d="M931.5,189.2 L937.3,193.8 L946.7,194.4 L954.8,195.0 L958.3,192.7" fill="none" stroke="#000" stroke-width="1.4" stroke-linejoin="round" stroke-linecap="round"/>
<path d="M960.7,179.8 L958.3,192.7 L954.8,198.5 L953.7,206.7 L951.3,217.5" fill="none" stroke="#000" stroke-width="1.4" stroke-linejoin="round" stroke-linecap="round"/>
<path d="M922.8,212.5 L937.3,216.0 L951.3,217.8 L961.2,220.7 L973.5,223.6" fill="none" stroke="#000" stroke-width="1.4" stroke-linejoin="round" stroke-linecap="round"/>
<path d="M963.0,180.4 L963.6,188.0 L965.3,196.2 L968.8,203.2 L970.0,207.2 L975.8,207.2 L973.5,223.6 L972.9,228.8 L979.9,230.8 L1000.3,231.4 L1007.3,232.9 L1006.2,256.5" fill="none" stroke="#000" stroke-width="1.4" stroke-linejoin="round" stroke-linecap="round"/>
<path d="M975.8,206.7 L1001.5,208.4" fill="none" stroke="#000" stroke-width="1.4" stroke-linejoin="round" stroke-linecap="round"/>
<path d="M1003.8,185.7 L1001.5,208.4 L1000.3,231.2" fill="none" stroke="#000" stroke-width="1.4" stroke-linejoin="round" stroke-linecap="round"/>
<path d="M1003.2,203.8 L1028.9,204.3" fill="none" stroke="#000" stroke-width="1.4" stroke-linejoin="round" stroke-linecap="round"/>
<path d="M1002.0,221.2 L1022.5,221.8 L1028.3,223.6 L1031.8,227.7 L1034.2,233.2 L1036.0,240.2 L1038.0,242.5 L1038.5,260.0 L1039.1,276.2 L1040.3,280.9 L1042.0,287.9 L1043.8,294.9 L1043.2,300.7" fill="none" stroke="#000" stroke-width="1.4" stroke-linejoin="round" stroke-linecap="round"/>
<path d="M1028.3,186.2 L1029.5,204.3 L1031.2,218.3 L1050.0,219.0" fill="none" stroke="#000" stroke-width="1.4" stroke-linejoin="round" stroke-linecap="round"/>
<path d="M1008.5,240.3 L1034.5,240.2 L1036.0,240.8" fill="none" stroke="#000" stroke-width="1.4" stroke-linejoin="round" stroke-linecap="round"/>
<path d="M937.3,216.0 L935.0,232.3 L951.3,260.0 L952.5,264.7 L950.2,271.7 L949.0,276.3" fill="none" stroke="#000" stroke-width="1.4" stroke-linejoin="round" stroke-linecap="round"/>
<path d="M961.2,220.7 L957.2,251.2 L954.2,255.3 L951.3,260.0" fill="none" stroke="#000" stroke-width="1.4" stroke-linejoin="round" stroke-linecap="round"/>
<path d="M957.2,251.2 L977.0,254.2 L1002.7,256.5 L1006.2,256.8 L1020.0,258.0 L1038.5,259.5" fill="none" stroke="#000" stroke-width="1.4" stroke-linejoin="round" stroke-linecap="round"/>
<path d="M979.9,230.8 L977.0,254.2 L973.5,285.7" fill="none" stroke="#000" stroke-width="1.4" stroke-linejoin="round" stroke-linecap="round"/>
<path d="M1002.7,256.5 L1000.3,285.7 L985.2,285.7 L977.0,284.5" fill="none" stroke="#000" stroke-width="1.4" stroke-linejoin="round" stroke-linecap="round"/>
<path d="M1002.7,260.6 L1014.9,261.2 L1015.2,271.6 L1021.6,275.0 L1029.2,276.8 L1038.0,276.2 L1039.1,276.2" fill="none" stroke="#000" stroke-width="1.4" stroke-linejoin="round" stroke-linecap="round"/>
<path d="M1033.3,235.5 L1050.8,236.1" fill="none" stroke="#000" stroke-width="1.4" stroke-linejoin="round" stroke-linecap="round"/>
<path d="M1038.5,260.0 L1056.6,261.1" fill="none" stroke="#000" stroke-width="1.4" stroke-linejoin="round" stroke-linecap="round"/>
<path d="M1040.3,280.9 L1053.7,280.3" fill="none" stroke="#000" stroke-width="1.4" stroke-linejoin="round" stroke-linecap="round"/>
<path d="M1048.3,197.5 L1045.0,203.0 L1047.0,211.0 L1050.0,219.0 L1049.0,225.0 L1050.8,230.0 L1050.8,236.6 L1054.3,246.0 L1058.9,253.0 L1061.2,256.4 L1058.9,260.0 L1056.6,263.4 L1056.6,269.3 L1054.8,273.9 L1053.7,280.3 L1055.4,285.6 L1053.7,291.4 L1061.2,292.6 L1061.2,296.0" fill="none" stroke="#000" stroke-width="1.4" stroke-linejoin="round" stroke-linecap="round"/>
<path d="M1050.5,228.0 L1066.0,228.3" fill="none" stroke="#000" stroke-width="1.4" stroke-linejoin="round" stroke-linecap="round"/>
<path d="M1057.0,198.0 L1060.0,201.0 L1063.9,203.0" fill="none" stroke="#000" stroke-width="1.4" stroke-linejoin="round" stroke-linecap="round"/>
<path d="M1067.1,268.7 L1067.1,294.9" fill="none" stroke="#000" stroke-width="1.4" stroke-linejoin="round" stroke-linecap="round"/>
<path d="M1078.7,268.1 L1082.2,283.2 L1083.4,290.8" fill="none" stroke="#000" stroke-width="1.4" stroke-linejoin="round" stroke-linecap="round"/>
<path d="M1056.6,269.3 L1078.7,268.1 L1089.2,265.8 L1098.5,264.6 L1104.4,265.2 L1109.0,269.8" fill="none" stroke="#000" stroke-width="1.4" stroke-linejoin="round" stroke-linecap="round"/>
<path d="M1058.9,260.0 L1079.9,257.6 L1091.5,255.9 L1114.8,251.2 L1117.5,250.5" fill="none" stroke="#000" stroke-width="1.4" stroke-linejoin="round" stroke-linecap="round"/>
<path d="M1091.5,256.5 L1089.2,261.1 L1084.6,265.2" fill="none" stroke="#000" stroke-width="1.4" stroke-linejoin="round" stroke-linecap="round"/>
<path d="M1089.2,266.4 L1093.9,272.8 L1098.5,278.6 L1100.0,282.0" fill="none" stroke="#000" stroke-width="1.4" stroke-linejoin="round" stroke-linecap="round"/>
<path d="M1068.2,293.1 L1083.4,290.8 L1098.5,290.2" fill="none" stroke="#000" stroke-width="1.4" stroke-linejoin="round" stroke-linecap="round"/>
<path d="M1061.2,256.4 L1065.9,250.6 L1072.9,248.3 L1077.6,244.8 L1082.2,242.5 L1086.9,244.8 L1090.4,248.3 L1093.9,250.6 L1096.2,247.1 L1100.9,240.1 L1102.0,235.5" fill="none" stroke="#000" stroke-width="1.4" stroke-linejoin="round" stroke-linecap="round"/>
<path d="M1066.8,224.0 L1067.1,244.8 L1065.9,250.6" fill="none" stroke="#000" stroke-width="1.4" stroke-linejoin="round" stroke-linecap="round"/>
<path d="M1077.0,225.5 L1078.7,243.6" fill="none" stroke="#000" stroke-width="1.4" stroke-linejoin="round" stroke-linecap="round"/>
<path d="M1069.6,224.0 L1077.0,225.5 L1083.8,225.0" fill="none" stroke="#000" stroke-width="1.4" stroke-linejoin="round" stroke-linecap="round"/>
<path d="M1093.9,222.0 L1093.9,235.5 L1112.5,234.3 L1116.0,233.0" fill="none" stroke="#000" stroke-width="1.4" stroke-linejoin="round" stroke-linecap="round"/>
<path d="M1095.1,222.2 L1112.5,220.1 L1116.0,223.0" fill="none" stroke="#000" stroke-width="1.4" stroke-linejoin="round" stroke-linecap="round"/>
<path d="M1090.4,248.3 L1096.2,251.8 L1103.2,244.8 L1110.2,237.8 L1112.5,234.3" fill="none" stroke="#000" stroke-width="1.4" stroke-linejoin="round" stroke-linecap="round"/>
<path d="M1096.2,251.8 L1091.5,255.9" fill="none" stroke="#000" stroke-width="1.4" stroke-linejoin="round" stroke-linecap="round"/>
<path d="M1117.1,200.7 L1119.7,215.0" fill="none" stroke="#000" stroke-width="1.4" stroke-linejoin="round" stroke-linecap="round"/>
<path d="M1122.8,199.7 L1121.8,212.0" fill="none" stroke="#000" stroke-width="1.4" stroke-linejoin="round" stroke-linecap="round"/>
<path d="M1118.0,214.0 L1130.0,211.0" fill="none" stroke="#000" stroke-width="1.4" stroke-linejoin="round" stroke-linecap="round"/>
<path d="M1119.0,219.0 L1127.0,218.0" fill="none" stroke="#000" stroke-width="1.4" stroke-linejoin="round" stroke-linecap="round"/>
<path d="M1105.4,200.7 L1112.5,200.2 L1117.1,200.7 L1122.8,198.6 L1124.8,191.5 L1125.9,184.3 L1123.8,179.2 L1127.9,179.2 L1133.0,178.1 L1134.0,187.4 L1138.1,193.5" fill="none" stroke="#000" stroke-width="1.4" stroke-linejoin="round" stroke-linecap="round"/>
<path d="M1123.8,196.6 L1126.0,203.0 L1128.9,209.9" fill="none" stroke="#000" stroke-width="1.4" stroke-linejoin="round" stroke-linecap="round"/>
<path d="M1120.5,179.0 L1127.0,179.0" fill="none" stroke="#000" stroke-width="1.4" stroke-linejoin="round" stroke-linecap="round"/>
<circle cx="1078.8" cy="76" r="2.2" fill="#fff" stroke="#000" stroke-width="1"/>
<circle cx="1080" cy="91.5" r="2.2" fill="#fff" stroke="#000" stroke-width="1"/>
<path d="M1080,136 L1082.5,135.5 L1084,138 L1083.5,141 L1081,141.5 L1079.8,139 Z" fill="#000" stroke="#000" stroke-width="0.8"/>
<circle cx="1080.3" cy="132.5" r="0.9" fill="#000"/>
<circle cx="1077" cy="120.5" r="0.9" fill="#000"/>
<ellipse cx="1079.5" cy="158.5" rx="2" ry="1.2" fill="#fff" stroke="#000" stroke-width="1" transform="rotate(-25 1079.5 158.5)"/>
<circle cx="792.75" cy="59.25" r="0.9" fill="#000"/>
<circle cx="795" cy="62.25" r="0.9" fill="#000"/>
<circle cx="799" cy="64.5" r="0.9" fill="#000"/>
<circle cx="801.75" cy="66" r="0.9" fill="#000"/>
<circle cx="840.75" cy="37.5" r="0.9" fill="#000"/>
<path d="M926.5,262 L929,262.5 M931.5,267.5 L932.5,270" stroke="#000" stroke-width="1.2" fill="none"/>
</g>
<rect x="773.75" y="4.5" width="418.5" height="325.9" fill="none" stroke="#000" stroke-width="1.4"/>
<rect x="1029.2" y="234.2" width="93.8" height="91.1" fill="none" stroke="#000" stroke-width="1.4"/>
<!-- main map -->
<rect x="7.5" y="319.25" width="766.4" height="581" fill="#fff"/>
<clipPath id="mainclip"><rect x="7.5" y="319.25" width="766.4" height="581.0"/></clipPath>
<clipPath id="landclip"><path d="M7.5,319.2 L773.9,319.2 L773.9,362.9 L768.5,360.1 L764.3,356.6 L760.8,352.4 L758.0,348.2 L760.1,354.5 L762.9,360.1 L764.3,366.4 L768.5,372.1 L773.9,375.2 L773.9,387.5 L769.9,393.1 L765.7,398.7 L762.9,402.9 L760.1,407.1 L755.9,412.7 L750.3,419.7 L746.1,426.7 L744.0,430.9 L743.0,426.7 L744.7,419.7 L747.5,414.1 L751.7,408.5 L751.7,404.3 L748.2,402.9 L749.6,397.3 L748.2,393.1 L744.7,391.7 L739.1,388.9 L734.2,387.5 L737.7,383.3 L739.1,377.7 L737.7,372.0 L739.1,366.4 L737.7,362.2 L740.5,358.0 L744.7,354.5 L742.6,351.0 L739.8,354.5 L734.9,358.0 L729.3,358.7 L725.0,361.5 L728.6,365.0 L727.2,370.7 L725.7,376.3 L727.9,381.9 L730.7,387.5 L732.1,391.7 L727.0,393.0 L721.0,391.0 L716.0,388.5 L722.0,393.5 L728.0,396.5 L732.5,397.0 L733.5,400.1 L734.9,405.7 L732.1,411.3 L733.5,416.9 L734.9,422.5 L732.1,426.7 L733.5,432.3 L736.3,436.5 L743.3,438.6 L745.4,446.4 L746.5,451.0 L749.0,458.0 L751.0,465.0 L750.0,468.0 L744.0,467.3 L736.0,466.8 L728.0,467.5 L722.0,466.5 L718.5,463.5 L716.6,470.1 L726.6,471.1 L738.7,470.1 L748.7,472.1 L752.0,477.0 L750.3,481.7 L743.2,486.4 L737.3,491.2 L730.0,488.8 L726.6,484.0 L721.8,485.2 L714.0,484.3 L706.4,484.0 L713.5,487.6 L720.7,490.0 L725.4,492.4 L723.0,495.9 L721.8,500.7 L717.0,501.5 L711.2,500.3 L706.4,498.9 L711.2,503.0 L720.7,504.8 L729.0,503.0 L732.5,504.2 L727.8,507.8 L716.0,510.2 L706.4,511.3 L694.6,514.9 L687.4,520.8 L680.5,528.3 L678.5,535.5 L672.5,538.3 L656.4,538.7 L648.4,544.4 L640.3,554.4 L638.0,559.0 L634.0,560.5 L628.3,566.4 L620.3,571.4 L616.0,571.0 L612.2,574.5 L606.2,580.5 L602.0,580.0 L598.2,583.5 L594.0,583.0 L590.2,587.5 L586.0,586.0 L583.1,592.5 L580.0,591.0 L578.1,599.5 L575.0,597.5 L573.1,606.6 L570.1,614.6 L567.0,621.0 L565.0,626.0 L562.0,631.0 L560.5,642.5 L561.2,652.5 L563.8,662.5 L567.5,675.0 L572.5,687.5 L578.8,700.0 L583.8,708.8 L591.2,716.2 L592.5,720.0 L588.8,720.0 L587.5,719.0 L590.0,727.5 L593.8,737.5 L597.3,746.6 L600.9,757.3 L605.6,765.6 L607.4,772.7 L607.8,783.4 L606.8,796.5 L605.0,806.0 L602.1,813.1 L600.3,821.4 L598.5,823.8 L595.0,826.1 L587.8,828.5 L581.9,829.1 L576.0,823.8 L579.5,826.1 L577.2,829.7 L572.4,829.7 L571.2,826.1 L572.4,822.6 L570.0,816.6 L569.4,810.7 L565.3,807.2 L559.3,804.8 L554.6,804.2 L552.8,801.2 L549.9,794.1 L547.5,785.8 L548.7,778.7 L546.3,782.2 L541.5,784.6 L539.2,779.3 L540.4,771.5 L543.9,768.0 L539.2,769.2 L539.2,775.1 L535.6,772.7 L532.0,769.2 L528.5,764.4 L525.5,759.7 L524.9,753.7 L520.8,751.4 L522.0,745.4 L525.5,743.1 L529.1,739.5 L528.5,737.1 L522.6,735.9 L520.2,732.4 L516.6,734.7 L516.0,740.7 L519.0,744.8 L517.5,743.8 L516.2,736.2 L520.0,725.0 L522.5,712.5 L520.8,703.3 L518.8,702.5 L512.5,695.0 L505.0,688.8 L497.5,681.2 L490.0,672.5 L480.0,666.2 L477.5,666.2 L467.5,666.2 L462.5,670.0 L452.5,673.8 L442.5,676.2 L432.5,677.5 L431.2,673.8 L427.5,667.5 L420.0,661.2 L410.0,657.5 L400.0,653.8 L387.5,653.8 L375.0,653.8 L365.0,653.8 L358.0,656.0 L352.0,658.5 L345.0,660.4 L350.0,657.0 L347.0,650.0 L344.0,644.0 L342.0,650.0 L340.0,656.0 L332.0,655.6 L324.0,656.0 L316.0,655.0 L304.0,656.0 L298.0,658.0 L295.0,662.0 L291.0,662.0 L288.0,665.0 L284.0,669.0 L289.0,672.0 L292.0,669.0 L297.0,668.0 L298.0,673.0 L294.0,678.0 L288.0,681.0 L290.0,685.0 L296.0,689.0 L302.0,690.0 L309.0,694.0 L310.0,698.0 L304.0,699.0 L298.0,703.0 L300.0,698.0 L295.0,694.0 L289.0,691.0 L284.0,689.0 L280.0,686.0 L276.0,688.0 L277.0,694.0 L271.0,698.0 L268.0,692.0 L262.0,691.0 L256.0,694.0 L250.0,697.0 L240.0,695.0 L234.0,692.0 L237.0,690.0 L234.0,685.0 L227.0,684.0 L225.0,679.0 L219.0,677.0 L217.0,673.0 L210.0,673.0 L205.0,677.0 L206.0,681.0 L200.0,683.0 L190.0,681.0 L180.0,679.0 L175.0,677.5 L160.0,676.2 L150.0,677.5 L149.5,675.0 L143.7,678.8 L134.0,681.7 L126.2,684.7 L124.3,684.3 L121.4,681.7 L118.4,676.9 L113.6,679.8 L109.7,675.9 L111.7,681.7 L110.7,686.6 L116.5,689.5 L116.5,692.4 L108.7,697.3 L104.9,702.1 L97.1,707.0 L87.4,709.9 L77.7,712.8 L71.8,713.8 L66.0,716.7 L62.1,712.8 L56.3,709.9 L60.0,716.0 L64.1,721.6 L56.3,725.4 L52.0,723.0 L48.5,730.3 L44.0,729.0 L41.7,737.1 L37.0,737.0 L35.9,745.8 L30.0,745.0 L32.0,754.6 L25.0,753.0 L27.2,764.3 L27.2,774.0 L29.1,783.7 L32.0,793.4 L35.9,801.2 L31.1,806.0 L23.3,803.1 L15.5,800.2 L7.5,800.2 Z"/></clipPath>
<g clip-path="url(#mainclip)">
<g clip-path="url(#landclip)">
<rect x="0" y="310" width="800" height="600" fill="#e60000"/>
<path d="M5.5,319.2 L5.5,527.0 L7.5,527.0 L9.7,525.6 L11.9,527.0 L14.1,526.0 L16.3,526.5 L18.4,528.2 L20.6,527.7 L22.8,527.7 L25.0,527.8 L27.2,526.8 L29.4,526.1 L31.6,527.0 L33.8,527.5 L35.9,527.7 L38.1,527.6 L40.3,528.4 L42.5,527.1 L44.7,527.4 L46.9,528.3 L49.1,526.8 L51.3,527.6 L53.4,528.2 L55.6,528.6 L57.8,527.9 L60.0,528.7 L62.2,528.0 L64.3,527.5 L66.5,527.4 L68.7,526.4 L70.8,527.0 L73.0,528.3 L75.2,528.1 L77.4,528.5 L79.6,527.8 L81.7,527.8 L83.9,527.1 L86.1,526.6 L88.2,527.1 L90.4,527.4 L92.6,527.8 L94.8,528.2 L96.9,527.9 L99.1,526.8 L101.3,526.9 L103.4,525.5 L105.6,527.3 L107.8,528.2 L110.0,526.9 L112.1,527.4 L114.3,527.2 L116.5,526.6 L118.6,525.9 L120.8,525.9 L122.3,526.3 L125.0,526.0 L126.6,524.6 L127.7,522.7 L129.6,521.6 L130.5,519.5 L131.7,517.5 L133.1,515.7 L135.7,515.9 L137.6,515.1 L139.0,513.2 L141.8,513.9 L143.5,512.5 L144.7,510.3 L146.7,509.6 L148.7,508.9 L150.2,507.2 L151.9,505.8 L154.4,506.0 L156.3,505.2 L158.3,504.3 L160.6,503.9 L162.0,501.1 L164.3,501.0 L166.5,500.2 L168.4,499.0 L171.1,499.7 L173.0,498.2 L175.2,497.6 L177.8,498.1 L179.4,496.1 L181.1,494.1 L183.4,493.8 L185.8,493.7 L187.8,492.5 L190.1,492.2 L192.4,492.6 L194.1,490.8 L196.2,490.6 L197.9,488.9 L199.8,487.8 L202.1,487.8 L204.1,487.3 L206.3,487.4 L208.4,487.0 L210.8,487.7 L212.2,484.8 L214.6,485.3 L216.7,484.7 L218.5,482.8 L220.8,483.4 L223.0,483.1 L225.3,483.1 L227.4,482.6 L229.5,482.0 L231.6,481.3 L233.4,479.7 L235.6,479.5 L237.8,479.2 L239.9,478.6 L242.5,479.8 L244.4,478.0 L246.9,478.7 L248.9,477.3 L250.8,475.2 L253.3,476.2 L255.4,475.2 L257.8,475.7 L260.2,476.4 L262.3,476.1 L264.3,473.9 L266.4,473.6 L268.6,473.5 L270.7,472.4 L272.9,472.9 L275.3,474.3 L277.3,472.9 L279.5,472.8 L281.8,473.7 L283.8,471.6 L286.9,471.1 L287.6,473.4 L289.4,474.6 L291.4,475.6 L291.4,477.8 L290.4,479.7 L289.9,481.7 L289.4,483.8 L288.8,485.8 L290.2,488.5 L288.2,490.1 L287.1,492.2 L286.1,494.3 L284.6,496.1 L284.5,498.6 L284.4,501.1 L282.8,503.3 L285.5,502.9 L287.2,504.1 L289.0,505.3 L290.3,507.5 L292.6,507.7 L294.2,509.3 L296.1,510.3 L298.3,510.6 L300.0,511.9 L302.4,511.9 L304.9,511.8 L306.6,514.2 L308.5,515.9 L311.0,515.7 L312.8,517.6 L315.8,515.9 L317.8,517.2 L320.0,518.3 L322.2,517.7 L324.2,518.3 L326.1,520.0 L328.1,520.8 L330.5,519.2 L332.4,520.7 L334.6,520.2 L336.9,519.1 L338.8,520.8 L340.8,521.6 L343.1,520.8 L345.1,523.0 L347.3,523.0 L349.4,521.8 L351.6,521.7 L353.7,520.6 L355.9,520.3 L358.1,520.5 L360.4,522.2 L362.5,520.8 L364.8,522.1 L367.0,522.1 L369.1,520.5 L371.2,520.4 L373.4,519.3 L375.6,519.5 L377.8,520.1 L379.9,521.2 L382.1,520.6 L384.3,520.2 L386.4,520.8 L388.6,520.4 L390.9,519.5 L393.0,520.3 L395.1,520.9 L397.2,521.6 L399.2,523.1 L401.4,522.1 L403.5,522.8 L405.7,522.5 L407.9,522.6 L409.7,521.0 L412.2,523.2 L414.4,522.7 L416.6,522.8 L418.9,523.4 L420.9,522.5 L422.7,519.7 L424.9,519.9 L427.0,519.2 L429.2,519.2 L431.4,519.1 L433.6,519.4 L435.7,518.4 L437.9,518.5 L440.3,519.2 L442.1,517.4 L443.9,516.1 L446.3,516.6 L448.2,515.3 L450.5,515.8 L452.7,516.0 L454.7,515.1 L456.6,513.8 L458.7,513.4 L460.6,512.1 L462.6,511.0 L465.0,511.9 L467.4,511.7 L469.2,510.0 L471.7,510.0 L473.8,509.1 L475.3,506.8 L477.6,506.3 L479.8,505.5 L481.9,504.9 L484.1,504.5 L485.8,503.1 L488.1,502.8 L490.2,502.3 L492.0,500.9 L494.0,500.0 L495.3,498.5 L496.3,496.8 L497.7,495.3 L499.9,494.4 L500.8,493.4 L502.5,491.7 L504.0,489.5 L505.7,487.8 L507.2,485.8 L510.0,485.9 L512.1,485.1 L514.4,484.6 L517.2,485.7 L519.0,483.6 L520.9,482.1 L523.2,481.6 L525.2,480.2 L527.6,480.2 L530.2,480.5 L532.1,479.4 L534.2,478.7 L536.5,478.7 L538.0,476.6 L539.9,475.3 L542.2,475.4 L543.9,473.5 L546.4,474.2 L548.9,474.6 L550.5,472.7 L552.7,472.6 L554.9,472.0 L556.8,470.4 L558.9,469.8 L561.3,470.3 L563.4,469.8 L565.7,469.6 L567.9,469.5 L570.0,468.9 L572.0,467.6 L574.1,466.8 L576.2,466.1 L578.3,465.3 L580.8,466.6 L582.8,465.3 L585.2,465.9 L587.4,465.8 L589.3,463.8 L591.5,463.6 L593.6,462.8 L595.7,462.1 L597.8,461.2 L600.2,462.1 L602.6,463.0 L604.5,461.1 L606.8,461.4 L608.8,459.8 L610.8,458.6 L613.3,460.0 L615.5,459.6 L617.6,459.0 L619.9,459.6 L622.1,459.8 L624.1,458.4 L626.2,457.8 L628.4,457.4 L630.4,456.0 L632.6,456.5 L634.8,456.6 L637.0,456.4 L639.3,457.0 L641.5,457.0 L643.6,456.1 L645.7,455.5 L647.7,453.9 L649.9,454.1 L652.1,454.1 L654.4,455.2 L656.6,455.3 L658.8,455.6 L661.0,455.4 L663.1,453.7 L665.2,452.9 L667.4,452.6 L669.5,452.6 L671.8,454.0 L674.0,453.8 L676.2,453.1 L678.4,453.8 L680.5,452.7 L682.6,451.6 L684.8,451.6 L687.1,452.6 L689.0,450.7 L691.3,451.6 L693.6,453.0 L695.7,451.6 L697.7,450.2 L699.9,450.0 L701.9,448.8 L704.2,449.4 L706.5,450.9 L708.5,449.4 L710.7,449.5 L713.0,450.7 L715.0,448.9 L717.1,448.8 L719.3,449.4 L721.4,448.7 L723.6,448.3 L725.7,449.3 L727.9,448.6 L730.0,449.3 L732.2,449.1 L734.3,448.3 L736.4,447.4 L738.6,448.4 L740.7,447.9 L742.9,448.3 L745.0,449.5 L747.2,448.4 L749.4,447.9 L751.7,448.9 L753.9,448.2 L756.1,447.5 L758.3,447.1 L760.6,448.2 L762.8,448.7 L765.0,449.1 L767.2,449.2 L769.5,448.4 L771.7,447.2 L773.9,448.0 L775.9,448.0 L775.9,319.2 Z" fill="#ff0000"/>
<path d="M5.5,319.2 L5.5,427.5 L7.5,427.5 L9.5,427.3 L11.1,425.9 L12.9,425.0 L15.1,424.3 L17.2,424.8 L19.1,426.6 L21.3,426.7 L23.3,427.9 L25.8,426.1 L28.1,425.7 L29.5,425.8 L32.2,427.4 L34.2,426.2 L36.0,424.9 L39.0,427.3 L40.8,425.8 L42.3,424.3 L44.5,424.7 L47.2,423.1 L49.3,423.6 L50.8,426.5 L53.2,425.8 L55.0,427.3 L57.2,427.6 L59.0,425.6 L61.1,425.7 L63.3,425.5 L65.4,425.4 L67.7,424.2 L69.4,426.2 L71.6,426.4 L73.6,427.0 L75.7,427.5 L78.0,426.7 L80.1,427.8 L82.3,427.5 L84.2,426.4 L85.9,425.1 L88.0,424.5 L89.7,424.0 L91.9,425.0 L93.8,426.1 L94.5,428.7 L97.6,428.5 L98.2,431.2 L99.8,432.3 L102.1,431.2 L104.0,429.7 L103.6,426.7 L104.6,424.2 L107.4,424.9 L108.8,422.6 L111.0,422.0 L112.8,420.6 L114.9,419.4 L117.3,420.3 L119.6,421.0 L121.6,419.1 L124.1,417.0 L126.2,418.3 L128.1,420.4 L130.5,420.1 L132.8,420.3 L134.9,421.4 L137.3,421.6 L139.2,422.8 L140.7,424.8 L143.9,423.4 L145.2,426.1 L146.3,427.8 L148.0,429.2 L146.8,432.2 L148.8,433.4 L149.7,435.5 L152.4,435.1 L154.1,436.7 L156.9,436.3 L158.6,437.9 L160.0,441.6 L162.1,440.9 L164.3,440.2 L166.4,442.1 L168.6,439.1 L170.7,439.1 L172.9,440.6 L174.9,439.4 L176.8,437.9 L179.8,440.9 L181.4,438.2 L183.5,437.7 L186.1,438.8 L187.6,435.9 L189.9,434.7 L192.0,434.7 L194.2,434.3 L196.4,435.7 L198.6,436.0 L200.8,436.4 L202.8,434.9 L205.0,435.2 L207.2,435.5 L209.2,433.3 L211.4,434.4 L213.7,435.3 L215.6,433.3 L217.9,434.1 L219.8,435.7 L222.1,434.4 L224.4,433.2 L226.5,433.0 L228.6,433.9 L230.6,435.6 L232.9,434.7 L234.8,436.5 L236.9,437.1 L239.1,436.8 L241.6,435.3 L243.9,434.7 L246.0,435.3 L247.8,437.6 L249.7,436.9 L252.7,438.0 L253.9,435.3 L256.5,435.6 L258.3,434.0 L259.7,431.0 L261.9,430.4 L264.4,432.3 L266.2,430.1 L268.5,430.8 L270.9,432.1 L273.1,431.6 L275.1,430.1 L276.3,428.3 L278.4,427.6 L278.9,424.8 L281.0,424.1 L283.2,423.6 L285.1,422.5 L285.5,420.6 L286.2,418.7 L286.1,416.6 L287.4,414.6 L289.8,413.2 L292.3,412.9 L294.3,415.2 L295.7,416.5 L298.0,416.1 L299.9,417.2 L302.0,417.3 L304.3,415.1 L306.5,414.6 L308.5,415.6 L310.3,418.0 L312.5,417.9 L314.4,420.0 L316.7,417.5 L318.7,418.5 L320.8,418.5 L322.9,418.8 L324.4,417.1 L327.3,418.8 L328.7,416.5 L331.1,416.7 L333.5,417.1 L336.8,416.2 L336.5,413.3 L337.6,411.3 L339.1,409.6 L340.0,407.5 L341.9,406.6 L344.2,408.3 L346.2,408.3 L348.2,407.9 L350.1,406.9 L352.2,406.4 L354.3,405.4 L356.4,405.0 L358.5,404.6 L360.6,403.8 L363.1,405.3 L364.7,404.9 L367.2,403.3 L368.8,405.5 L370.7,406.3 L373.1,405.5 L375.0,406.2 L377.0,405.7 L379.3,405.9 L381.4,405.9 L383.5,405.6 L385.6,405.1 L386.9,402.5 L389.8,403.1 L390.6,399.6 L393.7,400.5 L396.1,400.1 L397.7,398.2 L399.8,398.9 L401.9,398.5 L404.0,397.8 L406.0,398.5 L408.1,397.6 L408.5,397.4 L410.9,396.5 L414.1,396.2 L414.3,393.4 L415.6,391.4 L418.2,391.3 L419.1,388.9 L420.2,387.1 L422.1,387.9 L424.4,388.6 L425.3,390.7 L426.9,392.1 L427.9,394.1 L429.6,395.7 L431.4,397.2 L433.7,398.0 L436.8,397.4 L437.9,400.2 L440.0,401.1 L442.2,401.1 L443.7,403.3 L445.6,404.3 L447.9,403.6 L450.0,403.8 L452.3,403.7 L453.4,400.8 L455.7,400.6 L458.3,401.5 L460.0,399.9 L462.0,399.5 L464.1,400.0 L466.0,399.2 L467.9,397.9 L470.2,397.9 L471.9,399.8 L473.8,400.6 L475.8,400.9 L478.0,400.8 L480.5,400.3 L481.4,403.2 L484.3,402.1 L485.9,403.5 L488.0,404.5 L489.4,406.5 L490.3,408.9 L492.4,409.6 L495.0,409.6 L497.4,408.6 L499.7,407.3 L502.1,408.5 L503.8,406.2 L506.1,406.8 L508.2,406.7 L510.5,407.3 L512.7,406.9 L514.8,406.3 L516.3,404.3 L518.5,404.1 L520.8,404.1 L522.3,402.4 L522.4,400.4 L524.6,398.9 L523.8,396.6 L523.4,394.4 L525.0,393.1 L527.3,392.7 L529.5,390.7 L531.8,392.0 L534.0,392.3 L536.3,393.5 L538.5,394.1 L540.8,393.5 L543.0,393.1 L545.3,392.4 L547.5,392.5 L549.6,392.8 L550.7,395.0 L549.1,397.6 L549.8,399.9 L551.4,401.9 L552.3,404.4 L551.3,406.6 L549.6,408.7 L550.6,411.5 L548.0,413.2 L546.7,417.1 L548.8,418.1 L549.9,420.2 L553.0,420.3 L554.9,421.5 L556.7,422.9 L557.3,425.6 L559.0,427.1 L560.5,428.9 L562.4,430.0 L565.3,429.2 L566.7,431.7 L568.8,431.9 L571.0,431.8 L573.1,432.2 L574.9,434.2 L577.2,432.8 L579.2,435.2 L581.3,435.3 L583.6,432.8 L585.8,432.1 L587.9,433.4 L589.8,433.1 L592.1,433.9 L594.2,434.0 L595.9,432.2 L598.2,433.6 L599.8,431.7 L602.1,431.6 L602.5,428.3 L604.7,428.1 L607.3,428.4 L607.7,425.4 L610.2,424.9 L612.8,424.5 L614.2,422.7 L616.2,421.5 L617.3,419.4 L618.7,417.6 L620.0,415.8 L622.9,415.6 L622.7,412.3 L625.1,411.6 L627.3,410.8 L627.5,407.9 L629.8,407.1 L631.1,405.4 L631.9,403.1 L634.5,402.8 L636.6,401.8 L637.9,399.6 L640.2,398.9 L642.7,398.5 L643.9,396.1 L644.8,393.7 L647.7,393.7 L649.4,392.2 L651.1,390.8 L653.2,389.9 L653.7,387.1 L656.0,386.5 L657.4,384.7 L658.5,382.4 L660.0,380.5 L663.5,382.1 L664.7,379.8 L667.0,379.3 L669.6,379.4 L670.6,376.7 L672.4,375.3 L674.5,375.1 L675.6,372.1 L678.1,373.0 L680.2,373.2 L682.6,373.8 L684.7,373.0 L686.1,371.2 L687.9,370.0 L689.0,367.3 L691.4,367.4 L693.7,367.1 L695.6,366.2 L697.8,365.9 L699.9,365.2 L701.7,363.7 L704.4,364.5 L706.7,363.5 L707.9,359.8 L711.3,361.2 L711.7,358.1 L714.1,357.5 L716.6,357.0 L718.4,356.0 L719.6,353.8 L721.6,353.1 L723.6,351.9 L725.7,350.2 L727.8,353.0 L729.9,351.7 L732.0,352.6 L734.2,352.4 L736.2,351.5 L738.3,350.7 L740.4,350.2 L742.5,349.5 L744.5,348.7 L746.8,349.8 L748.9,349.3 L750.8,348.6 L753.5,348.9 L755.4,347.8 L756.4,345.4 L758.8,344.5 L760.3,342.7 L762.2,341.4 L764.0,340.1 L766.7,340.5 L768.4,338.8 L770.6,338.2 L771.6,335.3 L773.9,335.0 L775.9,335.0 L775.9,319.2 Z" fill="#ff7f7f"/>
<path d="M5.5,319.2 L5.5,361.2 L7.5,361.2 L9.9,362.1 L12.1,362.0 L14.0,358.6 L16.3,358.9 L19.0,358.9 L21.3,359.6 L22.9,362.7 L25.6,361.8 L27.9,362.5 L30.4,362.6 L32.8,362.5 L34.8,362.8 L36.5,365.4 L38.7,365.5 L41.0,364.4 L42.8,366.4 L45.1,366.1 L46.5,368.1 L48.2,369.6 L50.2,370.8 L52.0,372.2 L53.4,374.9 L55.4,376.1 L57.8,376.1 L60.2,375.9 L62.7,376.9 L64.2,374.7 L66.6,375.5 L68.4,374.5 L70.3,373.6 L72.8,374.0 L74.6,372.9 L75.3,370.6 L76.5,368.8 L79.1,368.4 L79.9,365.9 L82.2,366.3 L84.3,366.0 L86.3,365.0 L88.6,365.7 L90.5,364.5 L92.6,364.4 L94.5,362.8 L96.5,362.0 L98.4,360.8 L100.7,361.2 L102.9,361.4 L104.9,361.7 L107.0,362.1 L109.1,362.5 L111.3,361.5 L113.4,361.5 L115.6,361.4 L117.6,361.8 L119.8,361.6 L121.7,363.4 L123.7,363.7 L126.1,364.4 L128.5,365.2 L130.7,363.2 L133.0,362.7 L135.4,363.8 L137.6,361.8 L140.1,361.9 L142.1,364.9 L144.2,365.1 L146.4,363.6 L148.6,362.5 L150.7,363.0 L152.9,363.3 L155.1,364.4 L157.4,364.7 L159.4,362.6 L161.9,364.7 L164.0,363.1 L166.1,362.4 L168.2,360.7 L170.6,362.6 L172.7,360.8 L175.2,362.1 L177.3,361.0 L179.6,361.0 L181.8,360.9 L184.0,360.0 L185.8,357.7 L188.3,358.8 L190.4,357.6 L192.6,357.0 L195.0,357.6 L197.6,358.2 L199.1,355.3 L201.4,355.2 L203.3,353.4 L205.7,353.6 L208.1,353.8 L210.4,353.4 L212.3,351.6 L215.1,352.9 L217.0,351.1 L219.0,349.1 L221.3,348.5 L224.0,349.6 L226.4,347.5 L228.2,349.2 L230.3,349.1 L232.2,350.2 L234.3,349.6 L236.3,349.9 L239.0,350.5 L239.6,353.6 L243.1,353.2 L243.8,355.9 L245.8,357.4 L247.9,358.0 L250.0,356.5 L252.1,356.6 L254.2,356.1 L256.2,354.5 L258.3,354.8 L260.4,356.3 L262.6,357.3 L264.7,357.7 L266.7,356.2 L268.8,355.9 L270.9,356.1 L272.8,354.3 L275.2,354.1 L277.3,354.5 L279.2,355.8 L281.3,356.0 L283.4,356.5 L285.3,357.7 L287.8,356.1 L289.8,356.8 L291.9,357.0 L293.8,358.7 L295.9,358.9 L298.0,359.1 L300.3,361.5 L302.0,359.1 L304.3,359.7 L306.3,358.8 L308.0,356.7 L310.2,356.8 L312.5,357.2 L314.5,356.0 L316.8,358.7 L318.8,357.1 L320.9,357.7 L322.8,355.7 L325.1,355.7 L327.2,355.1 L329.4,354.5 L331.3,356.2 L333.3,357.0 L335.4,357.5 L336.9,359.6 L339.1,359.7 L342.2,357.0 L343.8,359.2 L346.3,358.4 L347.9,360.5 L350.0,361.3 L352.4,362.7 L354.4,361.1 L356.5,360.1 L358.9,358.8 L361.3,358.6 L363.3,361.3 L365.9,359.7 L368.1,361.2 L370.2,362.6 L372.7,362.3 L375.2,363.3 L377.0,361.6 L379.1,361.4 L381.1,360.6 L383.6,362.0 L385.4,360.6 L388.1,361.2 L390.1,359.9 L391.9,358.4 L393.7,356.7 L396.1,356.4 L397.9,354.8 L399.4,352.3 L402.0,352.7 L404.4,352.5 L406.8,352.6 L408.7,351.3 L410.0,348.6 L412.5,349.1 L414.7,348.1 L416.8,347.4 L418.9,348.0 L420.9,349.4 L422.8,351.1 L425.5,349.4 L426.2,352.3 L428.6,353.2 L430.4,354.9 L432.9,357.0 L434.2,355.0 L436.6,355.0 L439.1,355.4 L440.1,353.5 L441.9,351.4 L444.1,352.6 L445.8,350.1 L447.8,349.8 L450.4,352.3 L452.2,350.9 L453.9,349.4 L456.6,350.5 L458.2,348.9 L459.0,345.9 L461.0,344.7 L463.4,344.1 L465.3,342.6 L468.9,343.9 L470.1,341.5 L472.3,341.9 L474.4,341.7 L476.0,339.8 L478.1,339.5 L480.0,338.6 L482.0,338.3 L483.9,337.2 L486.0,338.0 L488.3,340.0 L490.7,338.0 L490.5,335.1 L492.3,333.6 L493.0,331.4 L493.1,329.6 L495.8,327.9 L495.0,325.5 L497.6,323.8 L497.3,321.5 L497.5,319.2 L499.5,319.2 L499.5,319.2 Z" fill="#ffbebe"/>
<path d="M510.5,319.2 L510.5,319.2 L512.5,319.2 L512.2,322.0 L515.0,323.3 L513.6,326.6 L517.4,327.4 L517.5,330.0 L518.3,332.1 L518.7,334.3 L519.2,336.6 L520.6,338.4 L521.2,340.6 L522.0,343.0 L524.1,343.9 L526.2,344.8 L528.4,345.6 L528.1,348.9 L530.3,351.0 L532.2,350.1 L534.0,349.1 L536.6,350.7 L538.0,348.1 L539.1,347.0 L541.0,345.3 L541.3,342.8 L542.5,340.7 L545.7,339.9 L546.2,337.5 L547.7,335.6 L548.9,333.7 L547.3,331.2 L547.0,329.0 L548.9,327.2 L549.2,325.1 L549.0,323.0 L551.7,321.6 L550.0,319.2 L552.0,319.2 L552.0,319.2 Z" fill="#ffbebe"/>
<path d="M553.7,387.0 L560.0,386.0 L563.2,390.0 L561.0,394.7 L555.0,394.0 Z" fill="#ff0000"/>
<path d="M582.4,402.3 L586.0,394.0 L592.0,388.0 L596.0,387.0 L595.8,393.0 L590.0,400.0 L585.0,404.0 Z" fill="#ff0000"/>
<path d="M567.0,412.0 L575.0,408.0 L590.0,404.0 L604.0,404.0 L607.0,412.0 L600.0,422.0 L585.0,426.0 L570.0,425.0 Z" fill="#ff0000"/>
<path d="M618.8,343.0 L624.0,336.0 L630.0,329.0 L634.2,325.7 L640.0,321.0 L645.7,319.3 L659.0,319.3 L656.0,327.0 L653.3,333.3 L648.0,338.0 L641.8,343.0 L636.0,346.0 L632.2,348.7 L627.0,353.0 L622.7,356.3 L613.0,356.3 L614.0,351.0 L615.0,348.7 Z" fill="#ff0000"/>
<path d="M622.0,349.0 L628.0,341.0 L636.0,332.0 L643.0,324.0 L646.0,325.0 L640.0,333.0 L632.0,342.0 L625.0,351.0 Z" fill="#ff7f7f"/>
<path d="M631.0,339.0 L637.0,331.0 L643.0,322.0 L645.0,323.0 L640.0,331.0 L634.0,340.0 Z" fill="#ffbebe"/>
<path d="M648.0,331.0 L652.0,324.0 L655.0,320.0 L657.0,321.0 L653.0,328.0 L650.0,333.0 Z" fill="#ff7f7f"/>
<path d="M594.0,431.0 L600.0,429.0 L607.0,432.0 L606.0,438.0 L600.0,440.7 L595.0,437.0 Z" fill="#ff7f7f"/>
<path d="M474.5,418.0 L479.0,416.5 L483.0,419.0 L482.5,424.0 L478.5,426.0 L475.0,424.0 Z" fill="#ff7f7f"/>
<path d="M751.5,345.5 L757.0,343.0 L763.0,342.5 L760.0,347.0 L756.0,352.0 L752.0,356.0 Z" fill="#ff7f7f"/>
<path d="M594.6,432.0 L595.5,432.0 L593.3,433.7 L591.7,434.9 L589.5,436.3 L589.6,435.6 L589.2,435.3 L590.5,433.8 L592.8,432.2 L594.8,431.1 Z M647.5,404.6 L648.1,405.2 L647.6,406.5 L646.2,407.7 L645.1,407.7 L643.9,407.9 L644.5,406.6 L644.2,405.6 L645.6,404.6 L647.1,403.6 Z M631.5,414.2 L631.9,414.6 L629.9,416.6 L627.8,417.9 L626.2,418.8 L624.7,419.5 L625.1,418.5 L626.1,417.0 L629.0,414.4 L631.0,413.8 Z M651.6,402.0 L650.7,403.4 L648.8,405.4 L646.8,407.5 L645.9,407.9 L645.1,408.3 L643.9,409.0 L646.7,406.4 L648.2,404.7 L649.8,403.4 Z M613.2,434.5 L612.5,435.4 L610.5,437.1 L608.0,438.9 L605.1,440.9 L604.7,440.7 L605.9,439.5 L607.5,438.1 L609.7,436.6 L613.0,434.2 Z M672.5,378.7 L672.2,379.6 L671.6,380.7 L670.3,382.5 L669.5,382.5 L668.1,383.6 L668.3,382.6 L669.6,381.1 L670.5,379.8 L672.0,378.3 Z M689.7,371.5 L689.3,372.6 L687.1,375.2 L684.3,378.2 L681.4,380.9 L681.6,380.1 L681.8,379.5 L683.6,377.2 L686.0,374.7 L687.7,373.2 Z M568.9,430.2 L569.3,431.0 L568.3,431.9 L568.0,433.1 L567.1,432.6 L565.8,433.2 L565.9,432.1 L566.3,431.2 L567.0,430.3 L568.2,429.5 Z M646.7,409.8 L646.7,410.6 L645.9,411.8 L644.5,413.0 L643.1,414.1 L642.1,414.2 L643.0,412.7 L643.7,411.8 L644.7,410.9 L645.6,410.4 Z M545.3,445.5 L545.0,446.4 L544.4,447.0 L543.9,447.8 L543.1,447.8 L542.5,447.6 L542.0,447.1 L542.7,446.2 L543.6,445.5 L544.2,445.8 Z M579.5,442.4 L578.2,444.2 L577.5,445.5 L575.2,448.0 L573.0,450.0 L572.8,449.7 L572.4,449.5 L574.8,446.9 L576.5,444.8 L578.0,443.6 Z M628.0,416.6 L628.1,417.4 L627.8,418.3 L627.1,419.0 L626.4,418.7 L625.4,419.0 L625.6,418.1 L626.0,417.5 L626.4,416.9 L627.2,416.3 Z M627.4,416.9 L627.3,417.8 L625.9,419.2 L624.8,420.4 L623.5,421.1 L621.9,421.7 L623.3,419.9 L623.8,419.0 L625.0,417.8 L626.5,416.8 Z M571.9,440.0 L571.6,440.8 L569.7,442.3 L568.2,443.2 L566.1,444.7 L565.9,444.2 L565.4,444.0 L567.3,442.5 L568.9,441.5 L570.0,441.0 Z M570.9,441.8 L569.2,443.8 L569.2,445.0 L567.0,446.4 L565.0,447.7 L564.3,447.3 L564.7,446.2 L565.2,444.9 L567.5,442.8 L568.6,443.1 Z M599.7,426.5 L599.2,428.0 L598.0,430.0 L596.2,432.1 L594.8,432.9 L593.7,433.2 L594.6,431.6 L594.5,430.6 L596.4,429.0 L598.4,426.7 Z M629.6,421.8 L629.9,422.5 L629.9,423.7 L628.4,424.5 L627.2,425.8 L625.7,426.5 L626.4,424.6 L626.9,423.4 L627.8,421.8 L628.9,421.7 Z M590.9,436.1 L590.1,437.5 L589.7,439.1 L586.1,441.8 L584.7,441.8 L581.7,443.6 L583.0,441.7 L584.9,439.6 L587.5,437.6 L589.4,436.6 Z M584.1,440.1 L582.6,441.9 L581.7,443.4 L579.3,445.1 L576.7,447.4 L576.9,446.6 L576.4,446.4 L578.2,444.4 L580.3,442.6 L582.9,440.5 Z M601.8,428.7 L601.6,429.9 L601.4,431.5 L598.7,433.9 L597.1,434.7 L595.1,436.0 L596.1,433.9 L597.3,432.1 L599.0,430.6 L601.4,427.9 Z M681.2,379.9 L680.9,380.8 L679.4,382.3 L677.0,384.5 L675.8,384.6 L674.7,385.0 L673.6,384.9 L676.3,382.7 L678.2,381.4 L679.7,380.6 Z M542.1,433.2 L542.3,433.6 L541.4,434.7 L540.5,435.7 L539.6,436.4 L538.2,437.4 L539.2,435.9 L539.9,435.0 L540.7,434.0 L541.6,433.3 Z M567.7,445.0 L567.5,446.1 L566.8,446.8 L566.5,447.9 L565.4,448.3 L564.7,447.9 L564.8,447.1 L565.1,446.2 L565.7,445.1 L566.6,445.2 Z M585.2,425.5 L583.8,427.9 L583.6,429.1 L581.9,430.9 L580.4,432.3 L580.1,431.8 L579.9,431.3 L580.5,429.8 L582.1,427.5 L583.2,427.4 Z M608.1,427.1 L606.1,429.5 L604.9,431.0 L602.5,433.6 L601.4,434.3 L599.2,436.3 L599.8,435.3 L601.6,433.1 L604.3,430.4 L606.8,427.9 Z M627.3,415.5 L627.3,416.0 L626.4,416.9 L625.4,417.5 L624.5,418.0 L623.5,418.5 L623.4,418.0 L625.0,416.9 L625.8,415.9 L627.1,415.2 Z M629.6,417.3 L629.0,418.9 L625.8,422.4 L623.6,425.3 L620.7,428.1 L621.6,426.1 L621.2,425.9 L622.3,424.0 L624.9,421.6 L628.0,418.1 Z M571.0,428.3 L570.6,429.5 L568.2,432.2 L566.2,434.5 L564.5,435.8 L563.0,436.8 L562.8,436.3 L565.2,433.5 L567.3,431.2 L569.4,429.4 Z M644.1,400.5 L643.4,401.9 L641.6,403.6 L639.6,405.9 L637.2,407.3 L636.6,407.0 L636.1,406.5 L638.4,404.1 L641.0,401.4 L643.6,399.9 Z M563.0,438.9 L563.7,438.8 L562.8,439.8 L562.3,440.6 L561.6,441.2 L561.4,440.8 L561.2,440.6 L561.5,439.9 L562.1,439.0 L562.9,438.5 Z M631.0,419.5 L630.8,420.6 L629.5,422.7 L627.6,424.4 L625.4,427.0 L624.3,427.5 L624.5,426.4 L626.8,423.8 L628.0,422.3 L629.1,421.3 Z M648.8,399.5 L648.2,400.5 L648.2,401.4 L646.6,402.8 L645.0,404.1 L645.2,403.1 L644.6,403.0 L645.4,401.7 L646.8,400.3 L647.6,400.2 Z M640.9,405.8 L640.8,406.7 L639.9,408.1 L638.2,409.9 L636.3,411.6 L636.0,410.9 L635.7,410.3 L637.0,408.6 L638.7,406.0 L640.9,404.7 Z M538.6,443.1 L538.5,443.6 L538.0,444.4 L537.3,445.1 L536.1,446.5 L536.1,445.9 L535.5,445.9 L536.5,444.7 L537.4,444.0 L538.5,442.6 Z M660.8,394.0 L658.8,396.6 L657.9,398.0 L655.3,401.0 L652.8,403.6 L653.4,402.4 L652.6,402.8 L654.4,400.4 L657.3,397.2 L658.9,395.8 Z M601.9,428.1 L601.4,429.0 L600.5,430.1 L599.5,431.6 L598.5,432.1 L598.0,432.2 L598.0,431.7 L598.7,430.6 L600.0,429.2 L601.4,428.0 Z M592.6,442.8 L592.6,443.3 L592.8,444.3 L591.3,446.2 L589.7,447.1 L589.7,446.0 L589.1,445.8 L589.6,444.5 L591.2,443.4 L592.2,442.6 Z M638.3,412.7 L637.3,413.9 L636.4,414.9 L635.3,415.9 L634.4,416.6 L632.8,417.8 L634.0,416.4 L634.2,415.7 L635.9,414.5 L637.8,412.6 Z M529.4,445.9 L529.6,446.3 L528.4,447.3 L527.3,448.3 L525.7,449.4 L525.8,448.6 L525.7,448.2 L526.0,447.2 L527.9,446.0 L529.4,445.2 Z M561.4,436.7 L561.3,437.9 L558.0,441.2 L555.9,442.9 L554.0,444.5 L553.1,444.7 L553.6,443.6 L554.9,441.9 L556.9,439.5 L560.0,436.9 Z M601.9,440.3 L600.2,442.2 L599.5,443.4 L597.6,444.7 L596.2,445.2 L593.4,446.7 L594.6,444.9 L596.5,443.2 L598.4,441.1 L600.1,440.8 Z M552.6,438.9 L551.1,440.9 L550.4,442.2 L548.7,444.3 L547.0,446.0 L546.7,445.9 L547.6,444.5 L548.3,443.5 L549.6,442.1 L550.7,440.8 Z M549.9,431.8 L550.5,432.3 L548.1,434.2 L545.8,436.7 L542.8,438.1 L541.9,437.7 L542.9,436.1 L544.9,434.3 L547.5,431.9 L549.8,431.1 Z M642.6,410.8 L642.4,411.4 L642.4,412.1 L641.4,412.8 L640.2,413.9 L640.0,413.2 L640.2,412.6 L640.4,411.9 L641.3,411.0 L642.1,410.8 Z M617.4,432.0 L617.4,432.9 L616.5,434.3 L615.2,435.1 L614.3,435.9 L613.1,436.6 L614.1,435.2 L614.0,434.5 L615.2,433.5 L616.6,432.1 Z M595.6,438.8 L595.4,439.8 L595.0,440.7 L594.3,441.9 L593.0,442.8 L592.0,442.6 L591.9,441.5 L592.5,440.2 L593.8,439.5 L594.6,439.1 Z M636.0,416.1 L635.4,416.9 L634.9,417.8 L633.7,418.5 L632.3,419.8 L632.3,419.4 L631.9,419.3 L632.8,418.2 L634.1,417.1 L634.7,417.0 Z M673.3,384.6 L672.2,386.0 L670.3,388.0 L667.3,390.5 L663.8,393.6 L662.4,394.4 L665.6,391.3 L666.8,390.0 L669.1,387.9 L672.4,385.0 Z M618.9,417.9 L619.3,418.5 L618.8,419.9 L617.0,420.7 L615.7,421.7 L615.1,421.4 L614.5,420.9 L615.0,419.4 L616.9,418.3 L618.8,416.8 Z M551.3,440.4 L549.7,442.2 L549.1,443.3 L547.3,444.6 L546.2,445.3 L544.1,446.8 L545.2,445.3 L546.7,443.9 L548.0,442.6 L549.5,441.5 Z M560.8,441.8 L561.3,441.8 L559.4,443.7 L557.5,445.9 L556.6,446.2 L554.3,448.2 L554.6,447.3 L556.5,445.1 L558.8,443.1 L560.9,441.2 Z M569.0,435.2 L567.2,437.2 L565.4,439.0 L562.8,441.0 L560.9,441.8 L560.0,441.9 L559.8,441.3 L562.1,439.4 L564.6,437.1 L566.9,436.1 Z M575.7,444.2 L576.1,445.1 L575.7,446.4 L574.5,447.4 L573.4,447.3 L573.0,446.8 L572.7,446.3 L572.8,445.4 L573.7,444.5 L574.6,444.5 Z" fill="#ff7f7f"/>
<path d="M654.3,402.8 L653.3,404.1 L652.9,404.8 L651.9,406.0 L651.0,406.6 L650.4,406.8 L650.3,406.4 L651.5,405.2 L652.3,404.1 L653.1,403.7 Z M581.2,438.5 L581.7,439.2 L579.6,441.8 L578.0,444.2 L576.2,445.6 L575.1,445.9 L575.4,444.5 L576.1,442.7 L578.3,439.9 L579.9,439.0 Z M669.9,388.0 L669.2,388.9 L668.1,390.0 L666.0,391.7 L665.1,391.8 L662.3,393.4 L664.3,391.5 L665.6,390.3 L667.4,389.1 L669.7,387.6 Z M605.6,436.5 L605.6,437.1 L605.3,437.8 L604.9,438.4 L604.3,438.8 L603.4,439.1 L603.9,438.1 L603.6,437.5 L604.2,436.6 L604.9,436.7 Z M554.5,436.6 L554.7,437.1 L554.2,438.2 L553.1,439.6 L552.1,440.0 L551.5,440.1 L551.9,439.2 L552.1,438.4 L552.9,437.0 L553.7,437.1 Z M671.1,385.6 L671.1,386.0 L671.1,386.6 L670.0,387.2 L669.0,387.8 L668.8,387.3 L668.4,387.0 L669.3,386.2 L670.1,385.7 L671.1,385.0 Z M562.8,426.5 L563.2,426.7 L561.5,428.3 L559.0,430.6 L557.0,431.6 L555.5,432.2 L557.6,430.2 L558.7,429.0 L561.1,426.7 L562.6,426.2 Z M583.0,431.9 L583.1,432.6 L580.9,435.0 L578.7,436.8 L575.9,439.2 L576.4,437.9 L575.6,437.8 L577.7,435.7 L579.8,433.5 L581.0,433.2 Z M592.2,432.8 L592.6,433.1 L592.2,433.9 L591.4,434.7 L590.3,435.4 L590.4,434.5 L589.5,434.5 L590.3,433.6 L591.1,432.8 L592.0,432.3 Z M629.8,421.9 L629.5,422.8 L628.3,424.2 L626.2,426.9 L623.5,428.3 L622.3,428.2 L623.3,426.5 L625.1,424.6 L627.5,422.3 L630.7,419.9 Z M575.0,442.3 L576.2,442.5 L574.8,443.7 L574.2,445.1 L573.0,445.2 L571.8,445.3 L572.0,444.1 L572.6,443.1 L573.4,441.8 L574.5,441.8 Z M548.6,440.8 L546.1,443.6 L545.8,444.9 L543.3,446.7 L540.7,448.8 L540.4,447.9 L540.0,447.3 L541.2,445.3 L544.2,443.0 L545.9,442.4 Z M628.7,423.0 L628.8,423.7 L628.8,424.6 L627.7,425.1 L626.9,425.1 L626.0,425.0 L625.7,424.2 L626.4,423.3 L627.2,422.9 L628.0,422.7 Z M577.2,428.1 L576.6,429.4 L575.9,430.5 L574.7,431.6 L573.2,433.0 L573.0,432.3 L572.1,432.2 L573.4,430.6 L574.8,429.6 L575.9,428.8 Z M668.2,390.0 L669.1,390.5 L666.8,392.9 L665.3,394.7 L663.2,396.5 L663.0,395.5 L662.8,394.7 L663.1,393.2 L665.3,391.3 L667.5,389.4 Z" fill="#ffbebe"/>
<path d="M546.0,432.4 L545.7,433.4 L543.2,435.9 L540.7,437.9 L538.9,439.0 L537.9,439.2 L538.1,438.5 L539.8,436.7 L541.8,435.1 L544.9,432.4 Z M635.3,414.0 L633.9,415.3 L632.5,416.5 L630.5,418.4 L628.5,419.3 L627.8,419.2 L627.3,418.9 L630.0,416.9 L632.4,414.9 L634.8,413.6 Z M567.9,428.6 L568.3,429.0 L568.6,430.0 L567.5,430.7 L566.7,430.5 L566.1,430.3 L565.6,429.8 L565.7,428.8 L566.6,428.2 L567.5,428.2 Z M611.6,426.1 L612.6,426.3 L611.6,427.9 L610.1,428.7 L608.5,430.4 L607.3,430.3 L607.5,428.9 L608.2,427.4 L609.7,425.8 L610.8,426.0 Z M650.0,401.0 L650.2,401.3 L649.8,402.0 L649.2,402.9 L648.1,403.8 L647.6,403.6 L647.8,402.8 L648.2,402.0 L649.0,401.1 L649.7,400.7 Z M672.8,375.2 L673.0,375.5 L672.4,376.6 L671.1,377.4 L670.1,378.1 L669.8,377.9 L669.0,378.0 L670.5,376.7 L671.3,376.0 L672.0,375.6 Z M682.9,374.7 L682.2,375.5 L682.1,376.0 L680.5,377.0 L678.7,378.5 L677.7,378.9 L678.2,378.1 L679.6,376.8 L681.2,375.5 L682.4,374.8 Z M658.0,385.0 L658.1,386.1 L656.9,388.4 L654.5,391.6 L652.8,392.2 L651.1,393.2 L650.5,392.6 L652.3,389.6 L654.8,387.2 L656.7,385.5 Z M646.4,402.0 L646.9,402.6 L644.9,405.4 L642.9,407.5 L641.5,408.7 L640.4,409.3 L641.0,408.0 L641.5,406.6 L643.4,403.7 L645.7,401.8 Z M597.1,428.6 L595.8,430.2 L595.5,431.1 L594.1,431.8 L592.3,433.1 L591.3,432.7 L592.3,431.3 L593.1,430.3 L594.2,428.8 L595.3,429.2 Z M589.3,431.2 L587.9,433.3 L586.7,435.2 L584.0,437.7 L582.2,438.7 L581.4,438.6 L580.7,438.4 L583.2,436.0 L585.2,433.4 L586.5,433.2 Z M577.0,442.3 L575.9,443.9 L575.9,444.8 L574.6,445.6 L573.4,446.6 L573.2,446.0 L572.4,445.8 L573.0,444.5 L574.5,443.0 L575.8,442.5 Z M564.9,432.5 L564.6,433.7 L563.4,435.7 L560.9,437.7 L558.8,438.9 L558.5,438.2 L558.8,437.2 L559.9,435.9 L561.5,434.2 L563.0,433.4 Z M545.0,432.8 L545.0,433.7 L544.8,434.4 L544.3,434.9 L543.7,435.3 L542.7,435.5 L542.6,434.5 L542.9,433.8 L543.1,432.6 L544.1,432.4 Z M550.2,437.7 L550.4,438.5 L549.5,439.4 L548.7,440.1 L547.9,440.0 L547.4,439.6 L546.5,439.2 L547.3,438.2 L548.4,437.9 L549.2,437.8 Z M579.8,428.4 L579.9,429.0 L579.3,430.0 L577.9,430.8 L576.5,431.9 L576.2,431.3 L576.2,430.8 L577.1,429.8 L578.1,428.8 L579.7,427.8 Z M626.5,416.6 L626.3,417.1 L625.4,417.8 L624.6,418.6 L623.5,419.2 L623.4,418.9 L623.9,418.3 L623.9,417.9 L625.0,417.4 L626.2,416.4 Z M550.1,429.9 L549.4,431.2 L547.9,433.3 L544.8,436.2 L543.2,437.1 L543.1,436.7 L542.8,436.5 L544.1,434.8 L546.5,432.4 L549.2,430.0 Z M569.6,433.1 L570.4,433.0 L568.7,434.9 L565.8,437.0 L562.8,439.5 L561.0,440.4 L563.5,437.8 L564.7,436.3 L567.6,433.8 L569.7,432.5 Z M566.1,433.0 L565.8,433.8 L565.3,434.6 L564.4,435.5 L563.3,436.3 L562.5,436.4 L562.3,435.9 L563.6,434.6 L564.5,433.8 L565.9,432.3 Z M632.0,420.1 L631.2,421.3 L629.2,423.0 L627.5,424.2 L626.0,425.2 L625.0,425.4 L624.3,425.2 L626.3,423.4 L628.6,421.5 L630.6,420.4 Z M655.8,390.0 L656.1,390.9 L655.0,392.4 L654.2,393.8 L652.9,394.7 L652.4,394.2 L651.7,393.9 L652.5,392.4 L653.5,390.5 L654.9,390.0 Z" fill="#ff9a9a"/>
<path d="M636.1,328.3 L637.0,328.6 L635.1,330.9 L633.3,332.6 L631.6,333.8 L630.8,333.7 L630.7,332.9 L631.9,331.2 L633.4,329.9 L635.6,327.6 Z M652.6,350.3 L651.3,352.6 L650.7,354.1 L648.7,355.9 L647.3,357.4 L646.6,357.6 L646.1,357.4 L647.7,355.3 L649.2,353.1 L650.6,352.0 Z M618.7,350.5 L618.6,351.1 L616.8,353.1 L614.7,355.0 L613.5,355.7 L611.2,357.5 L611.9,356.2 L613.9,354.2 L615.7,352.7 L617.0,351.7 Z M600.5,400.0 L600.4,400.8 L600.0,401.8 L598.7,402.8 L598.0,402.6 L597.3,402.6 L597.2,402.1 L597.8,401.2 L598.7,400.7 L599.6,400.2 Z M579.8,388.7 L579.4,389.5 L579.0,390.2 L577.9,390.7 L576.8,391.4 L575.6,391.7 L576.3,390.7 L576.8,389.8 L578.1,389.2 L579.3,388.4 Z M591.2,381.5 L590.3,382.7 L589.4,383.9 L587.5,385.9 L585.3,387.6 L584.3,387.9 L584.9,386.9 L587.2,384.7 L588.9,382.6 L589.8,382.4 Z M643.0,347.6 L642.9,348.3 L642.3,349.5 L640.4,350.2 L639.1,351.0 L637.5,351.6 L638.1,350.5 L639.6,349.3 L641.0,347.9 L642.3,347.5 Z M630.2,362.2 L628.8,363.8 L627.7,365.1 L625.4,367.4 L623.5,368.7 L623.6,368.2 L624.0,367.6 L624.5,366.6 L627.5,363.7 L629.2,362.7 Z M605.1,364.3 L604.5,365.2 L603.5,366.3 L602.5,367.4 L600.9,369.0 L601.5,367.9 L601.5,367.6 L601.9,366.9 L603.2,365.7 L604.1,365.0 Z M605.2,363.6 L604.5,364.8 L604.1,366.2 L601.1,368.4 L598.4,370.2 L597.4,370.1 L598.8,368.3 L600.5,366.7 L602.1,365.3 L604.5,363.5 Z M663.3,344.4 L663.4,345.2 L662.7,346.6 L661.4,347.6 L659.5,349.6 L659.8,348.0 L658.8,348.0 L659.3,346.4 L661.2,345.3 L662.7,344.0 Z M654.8,363.7 L654.9,364.1 L654.7,364.8 L653.6,365.8 L652.5,366.3 L651.9,366.1 L651.6,365.6 L652.8,364.5 L653.7,363.6 L654.3,363.7 Z M682.0,324.3 L681.6,325.5 L679.6,327.4 L678.5,328.9 L677.1,329.9 L676.3,330.0 L675.8,329.7 L677.5,327.8 L679.0,326.2 L681.0,324.5 Z M634.4,369.2 L634.3,369.8 L633.5,370.7 L632.2,371.7 L631.4,372.1 L630.8,372.3 L630.3,372.1 L631.1,371.0 L632.8,369.8 L634.1,368.9 Z M583.9,401.7 L583.0,402.7 L583.0,403.2 L581.8,403.9 L581.1,404.3 L580.3,404.7 L580.7,404.1 L581.2,403.4 L582.2,402.7 L583.5,401.6 Z M602.2,399.0 L601.9,399.9 L600.6,401.0 L599.9,402.1 L599.2,402.1 L598.3,402.5 L598.8,401.7 L598.9,401.0 L600.1,399.9 L600.9,399.8 Z M580.5,405.4 L578.6,407.4 L578.2,408.2 L575.8,409.9 L574.2,411.2 L571.7,412.9 L573.7,410.9 L575.3,409.4 L577.5,407.2 L579.4,406.0 Z M600.0,401.1 L600.5,401.2 L599.2,402.8 L596.7,404.3 L594.1,406.3 L594.4,405.5 L594.5,405.0 L596.2,403.5 L597.9,402.1 L599.8,400.9 Z" fill="#ff2a2a"/>
<path d="M620.8,397.4 L621.6,397.6 L620.0,399.3 L619.1,401.1 L617.9,401.5 L617.4,401.2 L617.1,400.7 L618.0,399.4 L618.9,397.9 L619.9,397.6 Z M642.1,339.5 L642.3,340.3 L641.2,341.1 L640.7,342.2 L639.9,342.0 L639.5,341.7 L638.7,341.4 L639.2,340.4 L640.2,339.5 L641.1,339.7 Z M578.5,407.4 L578.1,408.2 L577.7,409.0 L576.5,410.0 L575.5,410.5 L574.1,411.3 L574.9,410.1 L575.5,409.1 L576.8,407.6 L578.4,406.8 Z M643.7,359.1 L644.1,359.7 L642.1,362.3 L640.2,364.0 L638.5,365.8 L637.5,366.2 L636.9,365.9 L638.8,363.3 L640.8,361.1 L643.1,358.8 Z M569.6,392.9 L569.7,393.6 L567.0,396.0 L564.5,397.3 L562.4,398.7 L560.2,399.8 L561.8,398.0 L562.8,396.6 L565.7,394.8 L568.5,392.9 Z M667.8,342.0 L667.7,342.6 L667.4,343.3 L666.8,343.8 L665.9,344.7 L665.4,344.6 L665.7,343.8 L666.0,343.2 L666.6,342.4 L667.3,342.0 Z M654.3,327.6 L653.4,328.7 L652.6,329.6 L651.3,330.8 L650.3,331.3 L649.0,332.0 L650.1,330.7 L651.0,329.9 L652.0,328.8 L653.4,327.9 Z M625.5,368.0 L625.5,368.6 L624.3,369.7 L622.6,371.2 L621.0,371.8 L618.9,372.7 L619.5,371.4 L621.7,369.7 L623.5,368.6 L625.2,367.7 Z M686.2,323.4 L686.3,324.1 L685.1,325.7 L682.9,327.7 L681.1,328.5 L680.5,328.3 L681.0,327.2 L681.8,325.9 L683.8,324.1 L686.7,321.8 Z M638.1,359.7 L638.9,359.5 L637.3,361.0 L636.0,362.1 L634.2,363.7 L634.4,363.1 L634.8,362.4 L635.2,361.6 L636.6,360.5 L637.9,359.5 Z M637.2,338.2 L636.2,339.7 L634.3,341.8 L631.7,343.5 L629.3,345.3 L628.2,345.5 L627.8,345.0 L629.9,342.8 L633.0,340.5 L636.0,338.3 Z M689.0,325.7 L690.2,325.6 L687.8,328.1 L685.5,330.5 L683.1,332.0 L681.4,332.6 L683.5,330.0 L684.4,328.6 L686.7,326.2 L689.6,324.0 Z M659.5,321.8 L660.8,321.4 L659.4,323.6 L657.7,325.1 L656.5,326.0 L655.4,326.6 L654.7,326.2 L656.1,324.1 L657.7,322.8 L658.7,322.1 Z M568.6,395.6 L568.8,396.6 L566.7,399.4 L564.5,401.5 L561.7,404.8 L560.7,404.6 L562.0,402.3 L563.0,400.5 L565.0,398.7 L567.9,395.1 Z M623.6,366.9 L623.4,367.5 L622.7,368.2 L622.0,368.8 L621.4,369.0 L620.4,369.4 L620.9,368.7 L621.1,368.0 L622.1,367.4 L622.6,367.4 Z M625.6,344.7 L625.7,345.4 L625.0,346.3 L624.1,346.9 L623.1,347.1 L622.8,346.7 L622.8,346.1 L622.9,345.4 L623.9,344.6 L625.0,344.3 Z M654.0,348.1 L654.2,348.6 L652.9,350.0 L651.4,351.0 L649.9,352.0 L649.2,352.0 L648.1,351.9 L650.2,350.1 L651.8,348.8 L653.1,348.2 Z M619.3,374.0 L617.9,375.3 L617.0,376.3 L615.0,377.9 L612.6,379.4 L613.5,378.2 L613.6,377.9 L614.1,377.1 L616.4,375.5 L617.7,374.9 Z M560.5,400.5 L559.9,401.2 L559.8,401.7 L559.2,402.0 L558.5,402.5 L557.7,402.8 L558.4,401.9 L558.4,401.4 L559.2,400.7 L560.0,400.3 Z M578.0,402.2 L576.9,404.4 L576.5,405.9 L574.5,408.2 L573.4,408.1 L572.3,408.9 L571.7,408.5 L573.2,406.5 L574.6,404.8 L576.4,403.0 Z M675.9,334.1 L676.8,334.2 L676.0,335.4 L675.2,336.4 L674.2,337.0 L673.5,336.9 L673.2,336.2 L673.7,335.1 L674.6,334.3 L675.7,333.3 Z M590.0,388.7 L589.2,390.1 L588.3,391.2 L587.1,392.3 L585.4,393.4 L585.6,392.3 L585.8,391.6 L585.9,390.8 L587.3,389.6 L588.8,388.8 Z M586.0,393.1 L584.9,394.2 L584.2,395.1 L582.1,396.5 L580.1,397.8 L578.9,398.3 L579.1,397.7 L581.1,396.0 L583.6,394.2 L585.6,393.0 Z M632.9,350.3 L632.3,351.5 L629.7,354.1 L627.8,355.9 L625.2,358.4 L626.0,357.0 L624.9,357.6 L627.4,355.2 L629.2,353.0 L631.7,350.9 Z M653.5,352.0 L653.0,353.4 L651.6,354.9 L650.5,355.9 L649.3,356.6 L648.3,356.7 L648.6,355.7 L649.3,354.6 L650.5,353.0 L652.1,352.3 Z M573.0,405.4 L572.8,405.8 L572.9,406.4 L571.7,407.0 L570.8,407.4 L570.0,407.5 L569.8,407.1 L571.1,406.1 L571.9,405.6 L573.2,404.7 Z M616.3,362.1 L617.3,361.8 L615.3,363.1 L614.2,364.2 L613.5,364.3 L612.2,365.0 L613.4,364.0 L614.0,363.3 L615.2,362.3 L615.9,362.2 Z M698.9,320.6 L699.4,320.4 L698.1,322.1 L696.3,324.2 L694.6,325.8 L695.1,324.8 L693.9,325.7 L696.1,323.3 L697.3,321.9 L699.5,319.4 Z M632.7,380.8 L634.6,380.3 L632.5,382.9 L629.7,385.6 L628.2,385.7 L627.6,385.4 L626.3,385.6 L628.9,383.3 L630.4,381.6 L633.4,378.9 Z M688.5,322.4 L688.6,323.1 L687.4,324.5 L685.9,325.9 L684.5,326.6 L683.9,326.3 L683.6,325.8 L684.9,324.4 L686.3,322.8 L688.1,321.9 Z M561.2,414.6 L560.6,415.6 L558.9,417.3 L557.1,419.0 L555.8,419.7 L553.7,421.1 L555.0,419.5 L556.1,418.0 L558.3,416.2 L560.0,415.1 Z M629.1,370.9 L629.5,371.5 L629.1,372.7 L628.0,374.0 L626.7,374.7 L626.6,373.6 L626.1,373.3 L626.2,372.3 L627.3,371.1 L628.2,371.2 Z M589.1,377.5 L589.8,377.6 L588.2,378.8 L587.2,379.9 L585.7,380.9 L585.9,380.2 L585.7,379.8 L586.2,378.9 L587.7,377.8 L588.7,377.4 Z M606.0,389.6 L605.8,390.2 L605.4,391.2 L603.6,392.0 L601.8,393.2 L600.3,393.6 L600.8,392.5 L602.4,391.0 L604.0,390.2 L605.3,389.6 Z M617.2,366.9 L618.3,366.6 L616.4,368.5 L614.1,370.6 L611.9,372.0 L612.4,371.0 L612.4,370.5 L613.8,369.1 L615.6,367.1 L616.6,367.0 Z M656.0,359.4 L656.2,360.0 L654.9,361.5 L652.6,362.6 L649.3,365.2 L649.7,363.8 L650.1,362.9 L651.5,361.5 L653.5,360.1 L656.5,358.1 Z M571.9,410.4 L572.2,410.6 L571.2,412.4 L569.0,414.6 L566.9,416.6 L566.4,416.4 L566.8,415.3 L567.5,413.8 L569.9,411.5 L572.3,409.1 Z M648.3,321.9 L647.9,322.6 L646.0,324.1 L644.7,325.2 L642.8,326.6 L641.9,326.9 L642.3,326.3 L644.1,324.8 L645.6,323.7 L647.6,322.1 Z M601.8,400.8 L599.9,402.6 L598.3,403.8 L596.7,405.1 L594.5,406.5 L593.5,406.8 L595.0,405.4 L596.3,404.3 L597.9,403.1 L599.5,402.1 Z M605.1,383.0 L604.8,383.7 L603.6,385.2 L600.6,387.1 L597.3,389.3 L598.4,387.7 L597.8,387.6 L599.2,385.9 L602.4,383.9 L604.8,382.7 Z M678.7,339.7 L679.8,339.7 L678.3,342.1 L676.6,343.5 L675.2,344.9 L674.1,345.2 L674.4,344.0 L674.6,342.6 L676.4,341.1 L678.3,338.9 Z M641.3,362.5 L640.7,363.9 L640.1,365.3 L638.4,366.8 L636.6,368.9 L635.7,369.3 L636.5,367.8 L637.1,366.4 L638.7,364.9 L639.6,364.1 Z M632.4,349.6 L632.1,350.6 L631.5,351.8 L630.1,353.2 L629.1,353.9 L628.3,354.3 L627.3,354.5 L628.9,352.4 L630.5,350.4 L631.3,350.4 Z M654.3,340.8 L654.3,341.1 L653.4,342.3 L652.4,343.6 L651.9,343.8 L650.9,344.6 L651.5,343.7 L651.8,342.9 L653.0,341.5 L654.1,340.6 Z M658.9,323.7 L658.9,324.5 L657.2,326.2 L655.3,327.6 L654.2,327.9 L652.8,328.5 L652.7,327.9 L654.1,326.3 L656.0,325.3 L657.9,323.8 Z M665.7,329.8 L664.8,331.3 L663.0,333.1 L660.7,335.1 L658.3,336.3 L656.8,336.4 L658.5,334.5 L659.1,333.1 L661.8,331.4 L664.7,329.6 Z M671.0,341.3 L670.3,342.8 L669.5,344.4 L667.4,346.6 L666.5,346.6 L664.8,348.0 L665.4,346.6 L666.2,345.2 L668.0,343.1 L669.3,342.5 Z M586.1,384.2 L585.7,385.0 L584.5,386.5 L581.7,389.1 L579.1,390.8 L578.9,390.3 L579.5,389.2 L581.3,387.4 L583.3,385.9 L585.7,383.9 Z M577.6,402.2 L577.9,402.6 L577.9,403.4 L577.2,404.2 L576.3,404.5 L575.6,404.2 L575.0,403.5 L575.6,402.5 L576.3,401.7 L577.3,401.5 Z M569.8,394.1 L570.4,394.5 L569.4,395.5 L568.7,396.3 L567.7,396.7 L567.3,396.3 L567.0,395.8 L567.4,394.9 L568.4,393.9 L569.3,393.9 Z M559.8,400.6 L559.4,401.8 L558.3,403.4 L556.6,404.3 L555.3,405.3 L554.8,405.0 L553.5,405.2 L554.9,403.4 L556.7,402.4 L558.3,401.0 Z M608.9,393.5 L609.6,393.7 L608.7,394.8 L607.7,395.5 L606.2,396.9 L605.6,396.4 L605.7,395.5 L606.0,394.3 L607.6,393.5 L609.0,392.4 Z" fill="#ff0000"/>
<path d="M693.6,328.0 L693.7,328.1 L693.6,328.5 L693.2,329.0 L692.6,329.5 L692.5,329.1 L692.5,328.8 L692.4,328.4 L693.0,328.0 L693.5,327.6 Z M725.3,337.5 L725.5,337.8 L725.1,338.4 L724.7,338.7 L724.3,339.1 L723.9,339.2 L723.9,338.7 L724.0,338.3 L724.4,337.7 L724.8,337.8 Z" fill="#ff0000"/>
<path d="M586.3,402.3 L592.0,392.0 L599.7,381.2 L607.3,369.8 L615.0,365.0 L622.7,362.0 L634.2,359.2 L638.0,350.0 L640.0,346.8 L640.0,356.0 L638.0,364.0 L632.0,373.0 L626.5,381.2 L615.0,390.8 L603.5,398.5 L592.0,403.3 Z" fill="#ffbebe"/>
<path d="M586.0,346.8 L592.0,345.5 L599.7,348.0 L598.0,355.0 L592.0,358.2 L587.5,354.0 Z" fill="#ffbebe"/>
<path d="M548.7,467.8 L548.4,468.5 L547.9,469.4 L546.8,469.8 L545.7,470.6 L545.1,470.4 L545.3,469.8 L546.1,469.0 L546.9,468.5 L547.9,467.8 Z M546.2,469.5 L546.5,469.8 L545.7,470.3 L545.3,470.6 L544.7,471.0 L544.6,470.7 L544.1,470.6 L544.8,470.0 L545.3,469.6 L545.9,469.2 Z M527.5,478.6 L527.6,478.9 L527.0,479.6 L526.1,480.2 L525.2,480.9 L524.8,480.9 L525.0,480.4 L525.3,479.7 L526.5,478.8 L527.3,478.4 Z M547.0,470.2 L547.2,470.5 L546.6,471.0 L546.1,471.9 L545.1,472.2 L544.7,472.0 L545.0,471.3 L545.4,470.7 L546.1,470.3 L547.0,469.7 Z M530.2,476.4 L530.4,476.7 L530.4,477.4 L529.6,478.1 L528.7,478.7 L528.1,478.5 L528.4,477.7 L528.3,477.0 L529.2,476.4 L529.8,476.3 Z M551.1,467.2 L550.9,467.7 L551.0,468.1 L550.7,468.6 L550.2,468.8 L549.7,468.8 L549.9,468.3 L550.0,467.9 L550.3,467.7 L550.6,467.2 Z M504.7,487.7 L504.3,488.6 L503.9,489.3 L503.2,490.1 L502.5,490.6 L502.3,490.4 L502.0,490.2 L502.2,489.4 L503.2,488.4 L504.3,487.5 Z M509.6,483.6 L509.3,484.2 L508.9,484.7 L508.3,485.1 L507.5,485.8 L507.5,485.3 L507.4,485.1 L507.8,484.6 L508.3,483.9 L508.8,484.0 Z" fill="#ffd0d0"/>
<path d="M528.7,475.0 L528.9,475.3 L528.4,476.0 L527.9,476.9 L527.3,476.9 L526.5,477.4 L526.5,476.9 L527.1,476.0 L527.8,475.6 L528.5,474.7 Z M510.0,487.4 L509.9,488.0 L509.6,488.5 L509.1,489.1 L508.3,490.2 L508.1,489.8 L508.1,489.4 L508.6,488.7 L509.1,488.1 L509.7,487.4 Z" fill="#fff"/>
<path d="M523.4,477.9 L523.5,478.4 L522.9,479.3 L521.8,479.8 L520.8,480.6 L520.0,480.7 L519.9,480.1 L520.8,479.0 L521.9,478.3 L523.0,477.5 Z M502.0,490.4 L502.0,490.9 L502.0,491.4 L501.7,492.0 L501.1,491.9 L500.6,492.1 L500.8,491.4 L500.9,491.1 L501.1,490.5 L501.5,490.6 Z M529.7,479.9 L529.9,480.1 L529.7,480.5 L529.6,481.1 L529.2,480.9 L528.6,481.2 L528.4,480.7 L528.7,480.2 L529.0,480.0 L529.4,479.6 Z M502.7,490.4 L503.2,490.4 L502.6,491.3 L501.7,491.7 L501.1,492.2 L500.7,492.2 L500.8,491.9 L501.1,491.3 L501.8,490.6 L502.4,490.4 Z" fill="#ff7f7f"/>
<path d="M465.0,516.8 L461.9,518.0 L458.3,518.9 L453.9,519.2 L448.3,519.5 L448.0,518.2 L449.6,517.1 L452.5,515.6 L460.0,514.2 L465.4,515.1 Z M357.0,519.8 L353.5,520.7 L352.0,522.1 L346.6,522.0 L342.3,521.2 L342.6,519.9 L344.4,518.9 L347.6,518.5 L351.2,518.3 L355.8,518.6 Z M378.0,515.0 L376.6,516.7 L371.3,518.4 L367.2,519.8 L364.8,519.7 L362.6,519.6 L362.1,518.7 L366.6,517.1 L370.3,516.2 L374.9,514.9 Z M335.3,518.4 L334.4,519.4 L332.2,520.7 L328.4,521.4 L324.0,522.2 L325.8,520.7 L324.3,520.1 L327.2,518.6 L331.1,518.3 L333.0,518.4 Z M428.2,517.4 L424.8,518.3 L421.4,519.2 L414.0,519.8 L408.4,520.1 L400.9,520.3 L405.2,519.1 L411.4,517.7 L421.0,517.1 L429.7,516.5 Z M311.4,520.3 L309.8,522.7 L304.8,524.5 L300.1,527.2 L297.7,525.7 L294.7,525.4 L296.4,523.4 L298.5,521.0 L303.7,520.4 L310.0,518.5 Z M446.2,504.6 L443.0,505.7 L440.5,506.9 L433.9,507.6 L426.5,509.1 L426.8,508.4 L427.2,507.7 L432.3,506.3 L439.8,504.7 L442.7,504.8 Z M351.7,512.5 L348.1,513.7 L345.1,514.8 L339.7,515.1 L335.3,515.3 L334.4,514.7 L332.7,513.9 L338.9,512.8 L345.0,511.8 L346.8,512.6 Z M411.7,509.0 L414.4,510.2 L409.5,511.7 L404.3,511.2 L400.4,511.2 L399.4,510.3 L400.6,509.2 L402.4,507.4 L408.9,506.8 L411.5,508.0 Z M310.0,507.6 L308.3,508.4 L305.9,509.0 L302.6,509.0 L300.5,508.2 L300.4,507.4 L301.1,506.7 L303.0,506.2 L305.6,506.4 L309.3,506.5 Z M327.9,516.1 L324.9,517.5 L320.4,518.7 L314.3,518.5 L310.1,517.9 L311.0,516.8 L307.4,515.4 L314.7,515.2 L320.3,514.1 L324.0,515.2 Z M319.0,520.0 L318.1,521.1 L310.8,523.6 L304.0,525.4 L297.9,527.0 L298.4,526.2 L296.4,526.0 L302.5,523.7 L310.4,521.3 L312.6,521.5 Z M471.8,517.5 L469.5,519.1 L465.8,520.0 L461.8,520.5 L456.6,520.5 L455.2,518.7 L458.2,517.0 L460.6,515.1 L465.8,515.5 L469.9,516.0 Z" fill="#f40000"/>
<path d="M324.7,509.3 L326.5,509.9 L320.9,510.4 L316.9,511.0 L313.2,510.9 L311.4,510.4 L314.7,509.7 L317.5,509.2 L320.7,508.9 L326.7,508.4 Z M388.1,507.0 L388.9,508.3 L382.9,509.8 L376.4,510.0 L373.8,509.4 L371.6,509.0 L372.5,508.0 L375.9,506.8 L381.1,506.4 L385.5,506.3 Z M323.8,514.4 L320.7,516.6 L312.7,516.9 L306.4,518.8 L302.0,517.3 L302.0,515.6 L303.9,514.3 L306.2,512.1 L312.7,513.0 L316.1,513.7 Z M353.7,522.4 L351.0,523.6 L349.3,524.7 L345.9,525.7 L344.7,523.8 L341.5,522.9 L343.4,521.3 L346.3,520.6 L349.3,520.1 L352.5,520.8 Z M451.2,521.9 L450.1,523.5 L447.2,523.8 L445.0,524.3 L442.9,523.7 L440.6,522.7 L442.9,521.3 L445.1,520.8 L447.6,519.4 L449.9,520.5 Z M348.9,506.7 L349.1,508.2 L344.8,509.2 L342.4,510.1 L340.2,509.9 L337.6,509.7 L338.8,508.2 L341.3,506.8 L344.7,505.2 L347.7,505.6 Z M359.6,519.7 L357.7,522.3 L350.7,524.1 L346.2,526.7 L343.5,525.6 L342.1,524.8 L343.3,523.3 L345.4,521.4 L350.1,520.2 L355.5,519.1 Z M440.3,513.4 L438.7,515.4 L432.1,518.1 L424.7,518.7 L421.0,518.8 L413.0,519.8 L417.4,517.4 L424.0,515.5 L430.3,513.3 L434.1,513.8 Z M347.8,512.2 L346.5,513.7 L344.4,515.1 L341.0,515.6 L340.1,513.7 L337.9,513.0 L338.1,511.3 L340.7,510.0 L344.0,509.9 L345.5,511.2 Z M399.8,521.2 L399.5,522.4 L394.4,523.3 L388.6,524.4 L385.4,523.5 L380.7,522.9 L383.3,521.4 L388.4,520.2 L395.0,519.5 L398.5,520.3 Z M333.7,517.0 L333.0,518.8 L323.8,519.0 L317.1,520.0 L313.4,518.6 L311.9,517.5 L310.1,515.9 L317.4,515.1 L325.3,514.5 L332.3,515.4 Z M437.4,508.4 L433.3,510.0 L427.5,511.2 L423.4,512.1 L417.1,513.3 L416.9,512.4 L416.6,511.5 L422.9,510.1 L428.5,508.5 L434.3,508.0 Z M438.6,514.8 L438.2,516.1 L436.8,517.5 L433.8,517.8 L431.5,516.8 L429.6,515.4 L432.3,514.1 L433.9,513.1 L436.5,512.3 L438.0,513.6 Z M342.6,509.7 L336.7,511.3 L331.6,512.4 L324.2,513.4 L321.7,511.4 L315.5,510.4 L321.4,509.0 L325.8,508.2 L332.0,507.2 L335.6,508.6 Z M476.0,519.2 L475.6,521.3 L471.0,523.6 L466.2,524.8 L463.1,524.6 L462.7,523.4 L460.7,522.2 L464.5,520.0 L469.1,518.9 L471.4,519.5 Z M455.4,513.0 L451.6,515.1 L447.8,516.9 L441.6,518.9 L435.5,519.0 L434.8,517.3 L439.1,515.3 L441.5,513.6 L447.2,512.1 L450.6,512.8 Z M328.7,521.1 L328.0,522.5 L322.0,524.6 L311.7,526.2 L308.0,525.2 L305.2,524.7 L300.9,523.6 L313.1,522.0 L321.5,519.6 L326.6,520.3 Z" fill="#f80000"/>
<path d="M170.7,517.8 L167.5,520.3 L156.9,522.8 L150.4,524.2 L143.3,525.5 L139.3,525.0 L137.6,523.5 L148.7,520.7 L156.0,519.4 L161.4,518.8 Z M293.8,486.1 L292.2,487.1 L288.3,488.0 L283.7,488.1 L279.8,488.1 L274.1,487.8 L278.8,486.4 L282.4,485.2 L289.0,484.4 L294.1,484.8 Z M274.5,484.4 L269.3,486.2 L263.6,488.3 L252.3,490.2 L239.7,492.7 L235.4,492.7 L239.0,491.0 L252.7,488.1 L263.5,485.2 L273.0,483.9 Z M229.9,496.8 L226.8,499.2 L219.1,501.0 L213.2,501.6 L208.7,501.9 L200.5,502.3 L202.9,499.9 L212.7,498.4 L218.4,496.8 L225.4,496.1 Z M192.4,497.5 L193.6,499.4 L184.3,502.5 L175.3,503.8 L164.6,506.0 L163.7,504.1 L170.0,501.5 L173.3,499.0 L183.2,496.3 L189.7,496.4 Z M229.9,494.9 L231.4,496.7 L221.3,498.9 L214.2,500.1 L208.7,500.2 L203.8,499.8 L204.4,497.7 L213.0,495.5 L220.2,494.5 L226.3,494.1 Z M256.8,491.1 L251.2,493.0 L249.3,495.2 L241.2,495.8 L235.1,495.7 L230.9,494.6 L233.5,492.5 L239.2,490.1 L248.1,489.5 L251.6,490.6 Z M240.0,510.8 L242.5,512.4 L232.4,513.9 L224.0,514.4 L219.2,513.8 L217.7,512.9 L213.3,511.5 L222.3,509.7 L230.4,510.2 L237.4,509.8 Z M211.1,500.7 L208.7,502.2 L207.4,504.0 L203.9,503.4 L201.5,503.4 L199.2,502.7 L200.2,501.2 L202.4,499.6 L205.7,500.3 L209.7,499.4 Z M150.5,525.3 L148.3,526.6 L146.0,527.7 L142.2,528.1 L140.5,527.0 L139.9,526.1 L140.0,525.1 L142.6,524.6 L145.2,524.3 L147.0,524.8 Z M247.4,486.0 L243.0,488.1 L230.1,491.5 L220.1,494.8 L212.5,496.1 L204.8,497.4 L209.5,495.2 L218.4,492.1 L230.9,489.2 L242.1,486.5 Z M256.0,482.8 L254.3,485.5 L246.2,487.8 L239.9,489.6 L233.0,490.4 L230.5,488.9 L234.2,486.4 L237.8,483.7 L245.0,482.9 L253.0,481.2 Z M269.0,475.3 L258.5,479.5 L253.9,482.2 L242.0,485.5 L234.5,487.0 L223.7,489.2 L236.3,484.5 L240.5,482.0 L250.6,479.5 L265.5,474.8 Z" fill="#ee0000"/>
<path d="M218.8,493.8 L215.1,496.0 L208.1,497.9 L202.0,500.4 L200.2,499.4 L194.8,500.1 L197.5,498.4 L201.4,496.4 L208.1,495.0 L211.2,495.1 Z M265.8,492.8 L268.0,493.5 L258.2,494.7 L249.8,495.1 L240.7,495.8 L243.2,494.9 L242.3,494.3 L249.2,493.4 L258.7,492.0 L264.4,492.2 Z M287.1,482.2 L280.2,483.9 L275.9,486.0 L267.3,485.3 L263.3,484.6 L257.1,484.0 L256.6,482.1 L265.0,480.4 L275.6,479.7 L281.1,481.1 Z M164.0,507.0 L163.1,508.1 L157.0,509.9 L148.5,511.5 L144.6,511.5 L143.4,511.1 L142.4,510.5 L147.2,508.7 L157.1,506.7 L161.4,506.8 Z M179.7,500.4 L177.2,503.0 L172.0,504.4 L168.3,506.0 L163.9,506.2 L164.0,504.4 L162.0,502.9 L167.1,501.1 L171.5,499.8 L175.4,499.9 Z M197.6,498.6 L193.2,500.9 L184.2,503.4 L174.3,505.7 L165.9,506.4 L161.9,505.7 L165.0,503.6 L174.5,501.2 L183.6,499.2 L191.8,498.3 Z M147.9,517.6 L149.8,518.9 L142.9,520.5 L138.6,521.9 L135.3,521.7 L128.7,522.2 L134.3,519.7 L137.6,518.0 L142.1,517.2 L146.7,516.5 Z M188.8,510.7 L187.9,511.9 L184.5,513.7 L179.5,514.6 L173.7,516.2 L174.3,514.9 L175.6,513.7 L179.0,512.4 L182.6,511.4 L188.5,509.6 Z M221.4,511.3 L223.0,512.7 L215.6,513.6 L208.5,515.4 L201.1,515.1 L199.5,513.4 L204.6,511.7 L209.8,510.6 L217.3,508.5 L223.3,509.5 Z M213.5,511.8 L211.8,513.6 L208.7,514.0 L206.0,515.7 L203.8,514.4 L201.9,513.2 L203.0,511.5 L205.3,509.9 L208.7,510.1 L212.6,509.9 Z M189.3,498.4 L185.4,500.1 L182.5,502.0 L171.5,504.9 L161.2,507.7 L162.6,506.4 L160.6,506.1 L170.1,502.8 L179.2,500.6 L188.5,497.9 Z M210.3,499.4 L208.7,500.8 L206.6,503.1 L200.4,502.5 L196.2,502.3 L192.4,501.4 L195.1,499.6 L199.9,498.5 L206.1,496.3 L210.3,497.7 Z" fill="#f20000"/>
<path d="M201.0,674.5h2.8v1.4h-2.8Z M207.8,676.7h2.9v2.5h-2.9Z M192.3,676.2h2.7v1.9h-2.7Z M162.5,678.5h2.6v2.4h-2.6Z M198.7,674.4h1.9v2.6h-1.9Z M210.9,678.5h1.3v2.4h-1.3Z M188.0,675.4h1.3v1.3h-1.3Z M183.3,676.0h1.5v1.7h-1.5Z M188.0,677.6h2.2v1.3h-2.2Z M206.6,675.2h2.9v3.0h-2.9Z M164.9,676.5h2.9v1.8h-2.9Z M187.7,674.9h1.1v1.4h-1.1Z M163.9,674.7h2.3v2.1h-2.3Z M210.1,677.1h1.7v2.9h-1.7Z M192.5,676.3h2.7v2.3h-2.7Z M177.2,676.6h1.6v2.9h-1.6Z" fill="#fff"/>
<path d="M273.9,689.5h1.1v1.0h-1.1Z M281.3,674.1h2.0v1.2h-2.0Z M288.1,683.4h2.4v2.9h-2.4Z M291.8,683.6h2.4v1.0h-2.4Z M269.2,678.5h2.9v1.6h-2.9Z M281.6,670.2h1.8v2.8h-1.8Z M282.1,686.5h1.0v1.4h-1.0Z M272.3,686.6h1.2v2.9h-1.2Z M274.4,687.6h2.0v1.6h-2.0Z M291.2,678.1h2.4v1.1h-2.4Z M287.9,689.6h1.2v2.5h-1.2Z M274.5,673.0h1.7v2.3h-1.7Z M290.9,689.9h3.0v2.2h-3.0Z M283.7,673.2h2.5v2.1h-2.5Z M276.6,688.0h1.5v1.3h-1.5Z M271.8,673.0h2.2v2.6h-2.2Z M271.8,680.1h2.1v2.1h-2.1Z M277.9,680.9h1.0v1.1h-1.0Z M278.1,674.7h2.5v1.5h-2.5Z M287.8,674.8h1.2v2.0h-1.2Z M277.3,676.7h2.5v1.4h-2.5Z M284.1,686.7h1.9v2.0h-1.9Z" fill="#fff"/>
<path d="M306.8,695.0h1.4v1.1h-1.4Z M293.3,692.3h1.2v2.3h-1.2Z M298.8,692.1h2.0v2.9h-2.0Z M295.9,690.5h1.6v1.6h-1.6Z M306.6,696.1h1.9v1.3h-1.9Z M292.7,690.2h2.7v2.3h-2.7Z M294.5,695.3h1.1v2.0h-1.1Z M297.4,690.0h2.5v2.4h-2.5Z M300.2,690.7h2.3v1.9h-2.3Z M302.6,689.9h2.8v1.0h-2.8Z" fill="#fff"/>
<path d="M208.7,678.4h1.4v1.2h-1.4Z M214.2,682.0h1.7v1.5h-1.7Z M214.0,677.3h1.8v2.4h-1.8Z M211.2,676.9h1.1v2.1h-1.1Z M217.9,681.5h1.2v2.0h-1.2Z M211.9,677.2h2.3v2.0h-2.3Z" fill="#fff"/>
<path d="M78.5,717.0h2.9v2.6h-2.9Z M58.4,713.4h2.0v1.3h-2.0Z M71.1,726.7h2.2v3.0h-2.2Z M32.7,727.2h2.6v1.2h-2.6Z M49.3,711.3h2.2v2.4h-2.2Z M50.9,726.7h1.7v2.4h-1.7Z M46.6,733.5h1.9v1.0h-1.9Z M35.5,727.4h2.7v2.3h-2.7Z M39.3,730.9h2.4v1.2h-2.4Z M52.8,726.1h1.0v1.1h-1.0Z" fill="#fff"/>
<path d="M724.7,480.5h3.0v1.6h-3.0Z M744.7,478.0h2.7v2.2h-2.7Z M746.9,474.0h2.9v2.1h-2.9Z M719.1,470.5h2.0v1.7h-2.0Z M725.5,470.3h2.2v1.4h-2.2Z M722.0,470.1h2.0v1.8h-2.0Z M735.9,461.2h2.1v1.6h-2.1Z M739.7,475.7h2.6v2.0h-2.6Z M721.0,481.9h2.0v1.8h-2.0Z M722.5,467.3h2.4v2.6h-2.4Z M729.4,476.5h1.4v1.9h-1.4Z M724.9,464.6h1.7v2.5h-1.7Z" fill="#fff"/>
<path d="M716.7,501.5h1.5v2.6h-1.5Z M715.1,507.1h2.3v2.4h-2.3Z M707.5,499.7h1.7v1.1h-1.7Z M721.2,505.3h2.3v2.9h-2.3Z M718.1,501.8h1.7v1.2h-1.7Z M717.9,507.8h2.0v1.7h-2.0Z M707.4,504.8h2.4v2.8h-2.4Z M719.0,509.4h1.9v1.8h-1.9Z" fill="#fff"/>
<path d="M734.0,418.7h1.4v1.3h-1.4Z M733.5,416.1h2.7v1.7h-2.7Z M742.6,414.5h1.9v1.4h-1.9Z M741.4,388.7h1.2v2.8h-1.2Z M736.0,389.9h2.2v1.5h-2.2Z M729.3,389.5h1.8v1.0h-1.8Z M734.9,408.1h1.7v2.4h-1.7Z M739.0,379.4h1.0v2.3h-1.0Z M738.8,384.7h1.4v2.7h-1.4Z M743.5,381.7h2.2v2.1h-2.2Z M734.2,371.8h1.7v2.3h-1.7Z M738.6,395.5h1.2v1.4h-1.2Z M734.0,390.8h1.7v2.8h-1.7Z M730.9,419.3h1.5v2.7h-1.5Z" fill="#fff"/>
<path d="M598.8,583.9h1.8v1.1h-1.8Z M612.1,586.1h1.5v2.6h-1.5Z M604.5,587.9h1.1v1.8h-1.1Z M598.5,584.2h2.6v2.7h-2.6Z M606.2,581.9h2.6v1.2h-2.6Z M599.2,585.5h1.9v3.0h-1.9Z M595.2,582.6h1.4v1.0h-1.4Z M595.2,578.9h1.7v1.9h-1.7Z" fill="#fff"/>
<path d="M660.1,535.2h2.4v2.0h-2.4Z M663.9,534.7h2.0v2.0h-2.0Z M659.0,537.4h1.4v2.8h-1.4Z" fill="#fff"/>
<path d="M720.1,387.0h2.2v2.1h-2.2Z M719.7,385.5h2.9v1.7h-2.9Z M718.7,388.9h2.1v1.7h-2.1Z M720.0,390.1h1.7v1.8h-1.7Z" fill="#fff"/>
<path d="M709.7,427.4h1.8v1.3h-1.8Z M707.3,428.7h1.9v1.8h-1.9Z M703.9,429.2h1.9v2.7h-1.9Z" fill="#fff"/>
</g>
<path d="M7.5,319.2 L773.9,319.2 L773.9,362.9 L768.5,360.1 L764.3,356.6 L760.8,352.4 L758.0,348.2 L760.1,354.5 L762.9,360.1 L764.3,366.4 L768.5,372.1 L773.9,375.2 L773.9,387.5 L769.9,393.1 L765.7,398.7 L762.9,402.9 L760.1,407.1 L755.9,412.7 L750.3,419.7 L746.1,426.7 L744.0,430.9 L743.0,426.7 L744.7,419.7 L747.5,414.1 L751.7,408.5 L751.7,404.3 L748.2,402.9 L749.6,397.3 L748.2,393.1 L744.7,391.7 L739.1,388.9 L734.2,387.5 L737.7,383.3 L739.1,377.7 L737.7,372.0 L739.1,366.4 L737.7,362.2 L740.5,358.0 L744.7,354.5 L742.6,351.0 L739.8,354.5 L734.9,358.0 L729.3,358.7 L725.0,361.5 L728.6,365.0 L727.2,370.7 L725.7,376.3 L727.9,381.9 L730.7,387.5 L732.1,391.7 L727.0,393.0 L721.0,391.0 L716.0,388.5 L722.0,393.5 L728.0,396.5 L732.5,397.0 L733.5,400.1 L734.9,405.7 L732.1,411.3 L733.5,416.9 L734.9,422.5 L732.1,426.7 L733.5,432.3 L736.3,436.5 L743.3,438.6 L745.4,446.4 L746.5,451.0 L749.0,458.0 L751.0,465.0 L750.0,468.0 L744.0,467.3 L736.0,466.8 L728.0,467.5 L722.0,466.5 L718.5,463.5 L716.6,470.1 L726.6,471.1 L738.7,470.1 L748.7,472.1 L752.0,477.0 L750.3,481.7 L743.2,486.4 L737.3,491.2 L730.0,488.8 L726.6,484.0 L721.8,485.2 L714.0,484.3 L706.4,484.0 L713.5,487.6 L720.7,490.0 L725.4,492.4 L723.0,495.9 L721.8,500.7 L717.0,501.5 L711.2,500.3 L706.4,498.9 L711.2,503.0 L720.7,504.8 L729.0,503.0 L732.5,504.2 L727.8,507.8 L716.0,510.2 L706.4,511.3 L694.6,514.9 L687.4,520.8 L680.5,528.3 L678.5,535.5 L672.5,538.3 L656.4,538.7 L648.4,544.4 L640.3,554.4 L638.0,559.0 L634.0,560.5 L628.3,566.4 L620.3,571.4 L616.0,571.0 L612.2,574.5 L606.2,580.5 L602.0,580.0 L598.2,583.5 L594.0,583.0 L590.2,587.5 L586.0,586.0 L583.1,592.5 L580.0,591.0 L578.1,599.5 L575.0,597.5 L573.1,606.6 L570.1,614.6 L567.0,621.0 L565.0,626.0 L562.0,631.0 L560.5,642.5 L561.2,652.5 L563.8,662.5 L567.5,675.0 L572.5,687.5 L578.8,700.0 L583.8,708.8 L591.2,716.2 L592.5,720.0 L588.8,720.0 L587.5,719.0 L590.0,727.5 L593.8,737.5 L597.3,746.6 L600.9,757.3 L605.6,765.6 L607.4,772.7 L607.8,783.4 L606.8,796.5 L605.0,806.0 L602.1,813.1 L600.3,821.4 L598.5,823.8 L595.0,826.1 L587.8,828.5 L581.9,829.1 L576.0,823.8 L579.5,826.1 L577.2,829.7 L572.4,829.7 L571.2,826.1 L572.4,822.6 L570.0,816.6 L569.4,810.7 L565.3,807.2 L559.3,804.8 L554.6,804.2 L552.8,801.2 L549.9,794.1 L547.5,785.8 L548.7,778.7 L546.3,782.2 L541.5,784.6 L539.2,779.3 L540.4,771.5 L543.9,768.0 L539.2,769.2 L539.2,775.1 L535.6,772.7 L532.0,769.2 L528.5,764.4 L525.5,759.7 L524.9,753.7 L520.8,751.4 L522.0,745.4 L525.5,743.1 L529.1,739.5 L528.5,737.1 L522.6,735.9 L520.2,732.4 L516.6,734.7 L516.0,740.7 L519.0,744.8 L517.5,743.8 L516.2,736.2 L520.0,725.0 L522.5,712.5 L520.8,703.3 L518.8,702.5 L512.5,695.0 L505.0,688.8 L497.5,681.2 L490.0,672.5 L480.0,666.2 L477.5,666.2 L467.5,666.2 L462.5,670.0 L452.5,673.8 L442.5,676.2 L432.5,677.5 L431.2,673.8 L427.5,667.5 L420.0,661.2 L410.0,657.5 L400.0,653.8 L387.5,653.8 L375.0,653.8 L365.0,653.8 L358.0,656.0 L352.0,658.5 L345.0,660.4 L350.0,657.0 L347.0,650.0 L344.0,644.0 L342.0,650.0 L340.0,656.0 L332.0,655.6 L324.0,656.0 L316.0,655.0 L304.0,656.0 L298.0,658.0 L295.0,662.0 L291.0,662.0 L288.0,665.0 L284.0,669.0 L289.0,672.0 L292.0,669.0 L297.0,668.0 L298.0,673.0 L294.0,678.0 L288.0,681.0 L290.0,685.0 L296.0,689.0 L302.0,690.0 L309.0,694.0 L310.0,698.0 L304.0,699.0 L298.0,703.0 L300.0,698.0 L295.0,694.0 L289.0,691.0 L284.0,689.0 L280.0,686.0 L276.0,688.0 L277.0,694.0 L271.0,698.0 L268.0,692.0 L262.0,691.0 L256.0,694.0 L250.0,697.0 L240.0,695.0 L234.0,692.0 L237.0,690.0 L234.0,685.0 L227.0,684.0 L225.0,679.0 L219.0,677.0 L217.0,673.0 L210.0,673.0 L205.0,677.0 L206.0,681.0 L200.0,683.0 L190.0,681.0 L180.0,679.0 L175.0,677.5 L160.0,676.2 L150.0,677.5 L149.5,675.0 L143.7,678.8 L134.0,681.7 L126.2,684.7 L124.3,684.3 L121.4,681.7 L118.4,676.9 L113.6,679.8 L109.7,675.9 L111.7,681.7 L110.7,686.6 L116.5,689.5 L116.5,692.4 L108.7,697.3 L104.9,702.1 L97.1,707.0 L87.4,709.9 L77.7,712.8 L71.8,713.8 L66.0,716.7 L62.1,712.8 L56.3,709.9 L60.0,716.0 L64.1,721.6 L56.3,725.4 L52.0,723.0 L48.5,730.3 L44.0,729.0 L41.7,737.1 L37.0,737.0 L35.9,745.8 L30.0,745.0 L32.0,754.6 L25.0,753.0 L27.2,764.3 L27.2,774.0 L29.1,783.7 L32.0,793.4 L35.9,801.2 L31.1,806.0 L23.3,803.1 L15.5,800.2 L7.5,800.2 Z" fill="none" stroke="#000" stroke-width="1.35" stroke-linejoin="round"/>
<path d="M7.5,335.8 L97.5,335.8" fill="none" stroke="#000" stroke-width="1.4" stroke-linejoin="round" stroke-linecap="round"/>
<path d="M88.0,319.2 L89.3,320.9 L90.8,322.4 L92.0,324.1 L92.6,326.2 L93.1,328.5 L94.6,330.3 L95.9,332.1 L97.7,333.3 L99.1,334.6 L101.0,335.1 L102.7,335.7 L104.7,336.4 L106.5,337.4 L107.8,339.4 L109.8,340.1 L112.3,340.9 L114.5,341.1 L115.2,343.2 L114.5,345.3 L112.3,346.5 L110.3,348.0 L108.2,350.3 L109.0,352.0 L111.1,353.0 L111.1,355.1 L112.6,356.8 L114.4,358.1 L116.3,359.3 L117.5,361.2 L119.9,361.4 L121.4,363.6 L123.8,363.8" fill="none" stroke="#000" stroke-width="1.4" stroke-linejoin="round" stroke-linecap="round"/>
<path d="M123.8,363.8 L123.8,435.0 L124.2,452.5" fill="none" stroke="#000" stroke-width="1.4" stroke-linejoin="round" stroke-linecap="round"/>
<path d="M7.5,435.0 L123.8,435.0" fill="none" stroke="#000" stroke-width="1.4" stroke-linejoin="round" stroke-linecap="round"/>
<path d="M124.2,452.5 L127.5,470.0 L129.5,485.0 L130.0,510.0 L129.5,530.0 L128.8,547.0" fill="none" stroke="#000" stroke-width="1.4" stroke-linejoin="round" stroke-linecap="round"/>
<path d="M124.2,452.5 L272.5,452.5 L276.2,457.5 L273.8,462.5 L265.0,468.8 L287.5,468.8" fill="none" stroke="#000" stroke-width="1.4" stroke-linejoin="round" stroke-linecap="round"/>
<path d="M226.2,319.2 L228.1,319.2 L229.2,321.0 L231.8,321.4 L229.9,323.0 L228.0,324.9 L229.4,327.1 L228.4,329.0 L228.1,331.0 L229.0,333.1 L228.2,334.9 L228.3,336.9 L229.4,338.5 L229.6,340.4 L231.2,341.8 L231.6,343.4 L233.2,344.5 L234.2,346.3 L235.1,348.1 L237.0,348.9 L238.2,350.4 L240.1,351.1 L241.4,352.9 L243.8,353.2 L245.2,354.7 L246.5,356.5 L248.1,357.8 L250.1,358.7 L251.5,360.1 L252.0,361.9 L253.0,363.5 L253.7,365.2 L253.7,367.3 L255.3,368.3 L256.2,370.3 L257.8,371.2 L260.1,370.9 L261.3,372.3 L263.4,372.8 L265.7,372.3 L267.8,373.3 L269.3,374.1 L271.5,375.1 L271.5,377.2 L273.0,379.2 L271.1,380.2 L269.5,381.3 L269.2,383.6 L268.2,385.3 L267.0,386.0 L266.8,388.1 L268.3,389.7 L268.8,391.6 L268.8,393.7 L269.7,395.8 L271.9,396.6 L273.4,398.1 L274.6,399.9 L276.7,400.6 L277.8,402.4 L279.8,402.9 L281.0,404.6 L282.2,406.2 L284.7,405.9 L285.8,407.8 L287.4,408.9 L289.4,409.5 L290.8,410.9 L291.4,413.2 L292.9,414.4 L295.7,414.9 L294.8,417.1 L294.6,419.2 L296.1,421.2 L295.6,423.4 L296.9,425.3 L296.5,427.4 L296.9,429.5 L298.0,431.3 L298.6,433.3 L300.0,435.0" fill="none" stroke="#000" stroke-width="1.4" stroke-linejoin="round" stroke-linecap="round"/>
<path d="M300.0,435.0 L301.1,435.9 L302.9,435.4 L303.3,437.8 L303.9,437.7 L304.7,438.9 L306.6,439.8 L305.7,441.3 L306.6,442.4 L307.1,443.6 L305.3,444.0 L304.4,444.9 L306.1,448.0 L303.1,447.2 L303.0,448.8 L302.8,450.3 L301.7,451.6 L300.4,451.6 L298.9,451.1 L298.4,449.6 L296.5,448.7 L297.2,450.9 L294.6,450.9 L293.2,451.6 L292.3,453.1 L293.0,454.7 L294.3,456.5 L294.0,457.6 L293.1,458.5 L290.1,458.5 L291.6,460.5 L290.9,461.6 L288.7,462.0 L290.1,464.0 L288.8,464.9 L288.7,466.3 L289.4,468.0 L287.3,468.6 L285.7,469.4 L286.8,471.9 L285.8,473.1 L284.4,473.8 L284.7,475.6 L282.6,475.8 L280.9,476.3 L280.5,477.8 L280.3,479.1 L278.8,479.8 L280.3,482.0 L278.5,482.6 L278.5,484.0 L277.2,484.8 L277.9,486.8 L275.3,486.5 L276.5,488.8 L275.6,489.7 L273.1,489.5 L272.1,490.4 L273.1,492.2 L272.5,493.4 L272.5,494.7 L271.8,495.7 L270.2,496.2 L270.8,498.2 L270.2,499.3 L268.5,499.4 L268.5,501.0 L266.4,500.8 L265.1,501.4 L264.5,502.6 L264.7,504.2 L264.3,505.6 L263.4,506.5 L264.0,508.3 L261.3,508.2 L261.8,509.9 L261.3,511.0 L261.4,512.5 L259.7,513.0 L258.8,513.8 L258.6,515.2 L256.6,515.3 L256.5,516.7 L257.1,518.5 L255.6,519.0 L254.0,519.0 L254.0,521.0 L252.8,521.8 L253.1,524.1 L251.0,524.0 L250.1,525.1 L249.5,526.2 L248.7,527.2 L247.5,527.8 L246.9,528.9 L246.3,530.0 L246.5,531.8 L244.9,532.5 L242.6,532.8 L243.5,535.0 L243.8,536.8 L243.3,537.9 L241.1,537.9 L241.9,539.8 L241.3,540.5 L240.7,541.7 L239.1,542.4 L237.0,542.8 L238.0,544.7 L237.6,545.9 L237.2,547.0 L236.8,548.4 L236.8,549.8 L235.7,551.0 L235.0,553.1 L236.3,554.1 L237.7,554.9 L237.7,556.5 L237.5,558.1 L240.4,558.2 L240.9,560.3 L239.2,561.2 L238.6,562.5 L238.3,563.9 L238.0,565.2 L236.8,566.3 L237.6,568.0 L237.0,569.6 L237.0,571.0 L239.1,571.5 L238.2,573.2 L239.2,574.2 L239.1,575.6 L242.2,575.7 L239.9,578.0 L240.9,579.1 L240.8,580.6 L241.2,581.9 L243.9,582.2 L243.2,584.0 L245.4,584.5 L244.4,586.4 L243.9,588.0 L246.7,588.4 L246.7,590.3 L246.8,591.9 L245.7,592.8 L245.0,593.9 L244.6,595.2 L241.3,594.7 L241.0,596.0 L241.5,597.8 L240.0,598.4 L239.5,599.6 L239.2,601.0 L238.7,602.2 L237.3,602.7 L236.8,603.9 L236.9,605.5 L235.9,606.3 L234.4,606.7 L233.7,607.7 L234.0,609.6 L232.2,609.8 L230.8,610.5 L230.3,611.7 L230.4,613.1 L231.6,615.1 L230.0,615.7 L230.4,617.3 L230.0,618.5 L228.8,619.3 L227.6,620.1 L226.2,620.9 L226.2,622.3 L226.8,624.0 L225.0,624.8 L225.1,626.2 L224.7,627.5 L225.0,629.0 L223.9,630.0 L224.3,631.5 L223.0,633.0 L223.8,634.5" fill="none" stroke="#000" stroke-width="1.4" stroke-linejoin="round" stroke-linecap="round"/>
<path d="M223.8,634.5 L226.0,634.9 L228.2,634.5 L230.4,634.5 L232.6,634.6 L234.9,634.2 L237.1,634.6 L239.3,634.7 L241.5,634.9 L243.8,634.2 L246.0,634.4 L248.2,634.2 L250.4,634.9 L252.7,634.8 L254.9,634.2 L257.1,635.1 L259.3,635.1 L261.5,634.8 L263.8,634.8 L266.0,634.4 L268.2,634.2 L270.4,634.8 L272.7,634.3 L274.9,634.4 L277.1,634.5 L279.3,634.3 L281.6,634.7 L283.8,634.7 L285.7,634.8 L285.7,636.7 L285.4,638.6 L285.3,640.6 L284.9,642.4 L284.0,644.3 L283.2,645.9 L283.9,648.3 L285.3,650.3 L286.7,652.1 L287.6,654.1 L288.7,655.9 L289.5,657.9 L290.0,660.0" fill="none" stroke="#000" stroke-width="1.4" stroke-linejoin="round" stroke-linecap="round"/>
<path d="M7.5,530.0 L8.5,531.8 L10.6,532.7 L12.0,534.1 L12.7,536.1 L14.1,537.2 L15.1,539.4 L17.0,538.9 L19.0,538.5 L21.0,538.1 L23.0,538.1 L25.3,536.9 L26.9,538.3 L29.1,538.8 L30.3,541.0 L32.6,540.4 L34.4,542.1 L36.6,540.9 L38.5,542.4 L40.5,541.9 L42.4,542.3 L44.7,542.2 L45.8,539.8 L47.7,538.9 L49.8,539.6 L52.0,539.3 L54.2,539.0 L55.8,541.2 L57.8,541.6 L60.3,540.5 L61.9,541.9 L64.0,542.2 L65.8,543.3 L67.6,544.7 L69.3,543.1 L71.6,543.3 L73.2,541.3 L75.3,540.7 L77.6,541.1 L79.5,540.1 L81.5,539.9 L83.5,540.1 L85.5,539.7 L87.5,539.3 L89.4,538.2 L91.7,539.3 L93.9,539.4 L96.0,539.1 L98.0,538.2 L100.1,537.2 L102.1,537.7 L103.9,538.9 L105.9,539.3 L108.2,538.8 L110.2,539.5 L111.8,540.6 L113.3,541.7 L114.7,543.1 L116.7,543.3 L118.8,543.3 L119.9,545.6 L122.2,545.4 L124.4,546.0 L126.7,546.0 L128.8,546.9 L130.8,547.1 L132.6,548.2 L134.8,547.3 L136.6,548.5 L138.7,548.2 L140.5,549.5 L142.5,549.5" fill="none" stroke="#000" stroke-width="1.4" stroke-linejoin="round" stroke-linecap="round"/>
<path d="M142.5,549.5 L142.4,551.8 L142.3,554.1 L143.0,556.4 L143.0,558.7 L143.2,561.1 L143.1,563.4 L142.7,565.7 L143.4,568.0 L143.0,570.2 L143.4,572.4 L143.4,574.6 L143.3,576.9 L142.9,579.1 L143.2,581.3 L143.8,583.5 L143.6,585.7 L143.8,587.9 L143.1,590.2 L143.2,592.4 L143.3,594.6 L143.3,596.8 L143.5,599.0 L143.4,601.5 L144.8,603.0 L146.4,604.2 L147.2,606.2 L148.8,607.5 L149.3,609.6 L150.2,611.5 L151.1,613.5 L151.9,615.5 L152.6,617.5 L153.7,619.4 L154.8,621.3 L155.2,623.6 L156.2,625.6 L157.0,627.7 L157.9,629.4 L158.7,631.3 L159.1,633.2 L160.3,635.1 L159.1,636.9 L158.6,639.0 L158.1,641.1 L157.3,643.1 L156.2,645.0 L156.0,647.1 L155.3,649.0 L154.6,651.0 L154.4,653.0 L154.1,655.0 L153.5,657.3 L153.5,659.5 L153.3,661.8 L153.1,664.0 L152.6,666.3 L152.3,668.6 L151.1,670.6 L150.2,672.7 L150.0,675.0" fill="none" stroke="#000" stroke-width="1.4" stroke-linejoin="round" stroke-linecap="round"/>
<path d="M143.0,568.0 L237.5,568.0" fill="none" stroke="#000" stroke-width="1.4" stroke-linejoin="round" stroke-linecap="round"/>
<path d="M266.0,502.0 L466.2,502.0 L505.0,502.0" fill="none" stroke="#000" stroke-width="1.4" stroke-linejoin="round" stroke-linecap="round"/>
<path d="M339.5,502.0 L336.2,541.8 L333.8,555.0 L330.0,592.5 L329.5,630.0 L330.8,656.0" fill="none" stroke="#000" stroke-width="1.4" stroke-linejoin="round" stroke-linecap="round"/>
<path d="M424.5,502.0 L424.5,504.6 L425.4,507.1 L425.4,509.7 L425.9,512.2 L426.3,514.7 L427.1,517.2 L427.6,519.8 L427.7,522.3 L427.8,524.9 L428.6,527.4 L428.7,530.0 L429.5,532.5 L429.7,535.1 L430.3,537.6 L431.3,540.0 L431.5,542.6 L432.8,544.9 L432.9,547.6 L433.5,550.1 L434.6,552.4 L434.8,555.0 L435.6,557.5 L435.9,560.1 L437.1,562.4 L437.5,565.0 L437.8,567.6 L438.6,570.0 L439.7,572.5 L440.6,574.9 L440.8,577.6 L441.9,580.0 L442.3,582.6 L443.7,584.9 L444.0,587.6 L444.8,589.9 L443.9,592.4 L443.9,595.1 L442.8,597.5 L442.3,600.1 L441.0,602.5 L441.1,605.0 L440.4,607.5 L440.6,610.0 L440.0,612.5 L439.7,615.0 L440.6,617.5 L440.8,620.0 L440.9,622.6 L441.6,625.0 L442.2,627.5 L442.7,630.0 L442.9,632.6 L444.0,634.9 L444.6,637.5 L445.6,640.0 L446.5,642.5 L447.5,645.0" fill="none" stroke="#000" stroke-width="1.4" stroke-linejoin="round" stroke-linecap="round"/>
<path d="M443.8,635.0 L357.5,635.5 L358.8,641.2 L361.0,644.0 L364.0,648.0 L365.0,653.8" fill="none" stroke="#000" stroke-width="1.4" stroke-linejoin="round" stroke-linecap="round"/>
<path d="M447.5,645.0 L450.5,645.1 L453.4,645.2 L456.4,645.3 L459.3,645.8 L462.3,645.4 L465.2,645.5 L468.2,645.7 L471.1,645.8 L474.1,645.9 L477.1,646.0 L480.0,646.0 L483.1,646.3 L486.1,646.5 L489.2,646.8 L492.2,646.8 L495.3,646.9 L498.3,647.2 L501.4,647.5 L504.4,647.6 L507.5,648.0 L510.5,648.2 L513.6,648.2 L516.7,648.2 L519.7,648.7 L522.8,648.9 L525.8,648.9 L528.9,649.2 L532.0,649.2 L534.8,649.6 L536.1,651.8 L537.3,654.1 L538.8,656.5 L541.1,656.2 L541.6,653.4 L542.0,650.6 L542.4,647.8 L542.4,645.0 L543.7,642.8 L546.9,642.4 L550.0,641.5 L552.6,642.1 L555.3,641.8 L557.9,642.3 L560.5,642.5" fill="none" stroke="#000" stroke-width="1.4" stroke-linejoin="round" stroke-linecap="round"/>
<path d="M360.0,319.2 L359.8,321.8 L359.6,324.3 L360.1,326.9 L359.8,329.4 L359.5,332.0 L359.5,334.5 L359.7,337.1 L360.0,339.7 L359.8,342.2 L359.3,344.7 L360.0,347.3 L359.7,349.9 L359.2,352.4 L359.6,355.0 L359.7,357.7 L358.0,359.5 L355.9,361.4 L357.2,363.3 L358.0,365.4 L358.6,367.5 L358.8,369.7 L359.4,371.9 L360.0,374.0 L359.9,376.2 L359.1,378.9 L357.8,381.4 L356.4,383.9 L354.3,385.2 L352.6,387.0 L350.5,388.3 L349.0,390.1 L347.8,392.2 L346.6,394.4 L344.8,396.2 L343.9,398.7 L343.5,401.3 L342.7,403.8 L342.2,405.7 L341.2,407.5" fill="none" stroke="#000" stroke-width="1.4" stroke-linejoin="round" stroke-linecap="round"/>
<path d="M300.0,435.0 L302.0,434.6 L303.7,433.7 L305.5,432.6 L307.7,433.0 L309.6,432.4 L311.3,431.3 L313.1,430.6 L315.1,429.5 L317.2,429.6 L319.1,430.8 L321.0,431.6 L323.2,431.2 L325.2,433.0 L326.7,431.4 L328.3,431.4 L327.2,429.5 L327.9,426.8 L326.5,425.4 L328.7,424.3 L330.5,422.7 L332.1,420.5 L334.2,420.0 L336.2,419.4 L337.8,417.8 L340.8,417.6 L340.0,415.5 L339.9,413.4 L341.3,411.6 L340.3,409.4 L341.7,408.1 L343.1,406.2 L345.0,405.1 L347.1,404.7 L349.2,405.0 L351.2,404.4 L353.3,404.2 L355.4,405.7 L357.5,404.5 L360.0,405.3 L362.5,404.1 L364.6,405.3 L366.9,406.2 L369.2,407.0 L371.4,408.1 L373.8,408.9 L375.7,408.1 L376.9,406.2 L379.0,405.7 L381.0,405.3 L382.7,403.3 L384.3,405.3 L386.4,406.1 L388.6,406.1 L389.8,404.5 L391.2,403.1 L392.3,401.4 L394.2,400.8 L395.7,398.6 L397.5,396.8 L400.5,395.7 L401.4,398.2 L402.7,400.2 L405.0,401.2 L407.5,401.2 L410.0,401.3 L412.9,401.5 L413.1,399.3 L414.7,397.8 L415.6,396.1 L416.7,394.4 L417.2,392.0 L418.8,390.8 L420.7,389.8 L422.9,389.4 L424.4,387.3 L426.8,386.4 L428.4,384.9 L428.5,382.8 L428.8,380.7 L430.1,379.3 L432.1,379.0 L434.0,378.0 L436.0,378.3 L438.0,378.1 L440.2,378.2 L442.1,377.7 L443.7,376.1 L445.9,376.5 L448.2,375.4 L448.5,373.4 L449.8,372.0 L450.0,370.0 L449.5,368.2 L449.5,365.8 L451.6,366.9 L453.7,365.6 L455.8,365.5 L457.9,366.8 L459.7,366.6 L461.6,367.5 L462.7,369.2 L465.2,369.4 L466.5,370.9 L468.0,372.2 L469.5,373.6 L471.3,374.5 L472.6,375.5 L474.5,376.2 L476.4,377.5 L478.4,377.9 L480.4,377.7 L482.5,377.5 L484.6,378.0 L485.9,380.1 L488.1,380.4 L489.9,381.7 L492.1,380.7 L494.1,381.2 L495.9,382.6 L497.9,382.8 L500.2,383.2 L501.9,382.0 L503.7,381.1 L505.7,380.8 L507.7,380.6 L509.5,378.8 L511.7,378.4 L514.1,377.3 L514.6,379.8 L517.0,381.2 L517.3,384.0 L518.6,385.6 L521.2,385.6 L522.1,387.6 L523.9,389.0 L526.2,388.4 L528.2,387.0 L530.1,385.5 L532.3,384.9 L534.2,383.1 L535.0,380.9 L534.7,378.2 L535.7,375.7 L537.3,374.2 L538.8,372.5 L540.9,371.5 L542.4,369.4 L545.1,370.2 L547.5,369.4 L549.4,368.5 L550.7,366.9 L550.9,364.9 L551.9,363.1 L552.3,360.8 L554.2,359.7 L556.2,358.7 L558.4,358.1 L560.7,357.6 L562.5,356.3 L564.2,354.7 L566.6,355.1 L568.7,354.6 L570.7,353.7 L572.8,352.9 L573.8,350.3 L576.2,349.3 L577.6,347.2 L580.4,346.5 L580.8,344.1 L582.8,342.7 L583.4,340.4 L585.3,338.9 L585.5,336.8 L585.8,334.7 L587.2,333.0 L587.8,331.0 L589.6,329.5 L589.4,327.3 L590.0,325.3 L590.3,323.3 L591.3,321.4 L590.7,319.2" fill="none" stroke="#000" stroke-width="1.4" stroke-linejoin="round" stroke-linecap="round"/>
<path d="M450.5,319.2 L450.0,366.2" fill="none" stroke="#000" stroke-width="1.4" stroke-linejoin="round" stroke-linecap="round"/>
<path d="M593.0,319.2 L593.0,345.0" fill="none" stroke="#000" stroke-width="1.4" stroke-linejoin="round" stroke-linecap="round"/>
<path d="M593.0,345.0 L751.0,344.7 L751.7,343.3 L755.9,341.2 L762.9,341.9 L768.5,339.8 L773.9,336.0" fill="none" stroke="#000" stroke-width="1.4" stroke-linejoin="round" stroke-linecap="round"/>
<path d="M751.0,344.7 L753.1,386.5 L773.9,386.8" fill="none" stroke="#000" stroke-width="1.4" stroke-linejoin="round" stroke-linecap="round"/>
<path d="M627.2,345.0 L627.2,362.2" fill="none" stroke="#000" stroke-width="1.4" stroke-linejoin="round" stroke-linecap="round"/>
<path d="M627.2,362.2 L629.5,361.8 L630.8,359.6 L632.7,358.4 L635.1,358.5 L636.7,356.8 L638.6,355.8 L640.9,355.4 L642.3,353.3 L644.8,353.1 L646.4,351.3 L647.9,349.3 L650.0,349.0 L652.1,349.1 L654.3,349.0 L656.2,350.8 L658.1,350.0 L660.0,349.2 L661.9,348.4 L663.9,348.2 L665.7,346.0 L668.4,346.9 L670.3,345.7 L672.2,346.1 L673.5,347.6 L675.3,348.2 L677.1,349.3 L679.0,350.0 L681.0,350.3 L682.5,351.5 L683.0,353.3 L684.1,354.9 L683.9,357.1 L684.6,359.7 L686.6,359.9 L688.6,360.0 L690.7,359.9 L692.2,361.1 L694.1,362.3 L694.4,364.6 L696.5,365.2 L697.9,367.3 L700.5,366.9 L701.9,369.0 L704.1,369.3 L705.9,370.1 L707.9,370.3 L709.8,370.6 L711.8,371.5 L710.0,372.7 L709.3,374.7 L708.0,376.4 L706.0,377.3 L705.3,379.5 L703.6,380.7 L702.0,382.0 L701.0,383.6 L700.6,385.5 L698.9,387.1 L700.6,388.7 L701.9,390.0 L703.9,390.1 L705.8,389.4 L707.7,389.7 L710.1,389.2 L711.9,390.8 L713.6,392.6 L715.4,393.7 L717.5,394.1 L719.3,395.3 L721.0,395.9 L722.6,396.6 L724.1,397.6 L726.0,397.0 L728.2,397.8 L730.3,397.3 L732.5,397.0" fill="none" stroke="#000" stroke-width="1.4" stroke-linejoin="round" stroke-linecap="round"/>
<path d="M708.5,369.5 L711.7,371.4 L709.5,374.5 L706.3,372.5" fill="none" stroke="#000" stroke-width="1.4" stroke-linejoin="round" stroke-linecap="round"/>
<path d="M684.8,359.0 L683.8,361.3 L683.7,364.1 L681.7,362.8 L679.4,362.1 L677.3,361.1 L675.6,359.3 L672.8,359.4 L670.9,357.8 L668.6,356.9 L666.6,355.6 L663.8,354.1 L664.6,356.5 L663.8,358.6 L663.8,361.0 L662.1,362.3 L661.2,364.2 L660.1,366.1 L657.9,367.4 L656.0,369.0 L653.7,370.1 L652.3,371.6 L650.9,373.3 L648.8,373.9 L647.5,375.5 L645.6,377.0 L644.3,379.0 L642.4,380.4 L640.4,381.6 L638.7,383.2 L636.6,384.1 L634.7,385.3 L633.0,386.7 L630.7,386.9 L628.5,387.6 L626.3,387.6 L624.9,385.9 L622.5,385.0 L620.8,382.7 L620.6,385.0 L620.0,387.1 L619.1,389.0 L617.8,390.7 L617.0,392.9 L615.4,394.5 L614.2,396.4 L612.7,398.2 L611.8,400.2 L609.8,401.7 L608.7,403.9 L607.7,406.2 L605.5,407.7 L604.6,409.5 L603.0,410.9 L602.2,412.7 L600.6,414.4 L601.3,417.1 L600.4,419.7 L598.1,419.4 L596.7,421.6 L594.3,420.9 L592.5,421.7 L590.3,423.3 L587.9,423.8 L585.3,423.1 L582.9,423.5 L580.9,423.8 L579.0,424.2 L577.0,424.4 L575.0,425.3 L573.1,426.0 L571.0,425.3 L568.9,425.1 L566.9,425.3 L565.0,426.2 L562.6,427.4 L560.1,427.6 L557.5,427.6 L555.3,427.2 L553.2,426.7 L551.3,425.7 L549.5,424.5 L547.0,424.1 L545.8,422.5 L544.6,420.7 L543.8,418.8" fill="none" stroke="#000" stroke-width="1.4" stroke-linejoin="round" stroke-linecap="round"/>
<path d="M523.8,388.8 L525.0,390.6 L524.5,392.8 L525.7,394.6 L526.1,396.7 L526.4,398.7 L527.3,400.9 L528.1,403.2 L530.1,404.7 L530.6,407.2 L531.9,409.3 L534.3,410.0 L536.0,411.3 L537.4,412.9 L538.1,415.1 L539.9,416.4 L541.5,418.1 L543.8,418.8" fill="none" stroke="#000" stroke-width="1.4" stroke-linejoin="round" stroke-linecap="round"/>
<path d="M543.8,418.8 L541.6,420.4 L539.2,421.7 L537.4,423.8 L535.2,425.4 L532.6,426.5 L529.9,427.2 L527.7,429.1 L524.8,429.8 L522.9,431.3 L521.3,433.3 L519.0,434.5 L517.0,436.1 L515.1,437.6 L512.7,438.2 L511.3,440.4 L509.3,441.7 L506.7,442.1 L505.0,443.9 L502.8,444.7 L500.4,445.2 L498.1,445.7 L495.6,445.7 L493.5,447.1 L491.2,447.7 L488.8,448.0" fill="none" stroke="#000" stroke-width="1.4" stroke-linejoin="round" stroke-linecap="round"/>
<path d="M300.0,452.0 L342.0,452.0 L342.5,447.0 L488.8,448.0 L555.0,448.8 L600.0,450.0 L743.0,451.0" fill="none" stroke="#000" stroke-width="1.4" stroke-linejoin="round" stroke-linecap="round"/>
<path d="M555.0,448.8 L553.9,450.8 L554.1,453.2 L552.9,455.2 L552.2,457.0 L550.3,458.2 L549.0,460.4 L546.7,461.0 L545.0,462.3 L543.0,463.0 L540.8,462.8 L539.0,464.0 L537.0,464.6 L534.8,464.3 L532.9,465.5 L531.1,466.8 L529.1,467.5 L527.0,468.0 L525.1,469.5 L522.5,469.0 L519.9,469.2 L517.6,470.1 L515.5,470.8 L513.8,472.0 L512.5,473.7 L510.3,474.5 L508.6,476.4 L506.6,477.5 L503.8,477.2 L502.2,479.3 L500.1,480.4 L497.8,479.9 L495.9,480.6 L494.1,482.1 L492.1,482.3 L490.1,482.9 L488.1,483.4 L486.2,484.3 L484.0,484.0 L482.1,484.8 L480.1,485.1 L478.4,486.7 L476.6,488.0 L474.8,489.4 L472.1,489.6 L470.6,491.4 L469.1,493.3 L468.1,495.1 L467.6,497.4 L467.3,499.8 L466.2,502.0" fill="none" stroke="#000" stroke-width="1.4" stroke-linejoin="round" stroke-linecap="round"/>
<path d="M505.0,502.0 L508.4,500.8 L511.7,499.5 L515.0,498.2 L518.7,497.3 L522.5,496.9 L526.2,496.1 L530.0,495.4 L534.0,495.3 L538.0,495.5 L542.0,495.4 L546.0,495.4 L550.0,495.5 L554.0,495.7 L557.9,495.9 L561.9,495.7 L565.8,495.8 L569.8,496.0 L573.7,496.3 L577.5,500.1 L582.0,500.2 L583.5,503.8 L585.2,507.2 L589.1,507.4 L593.0,507.3 L596.9,507.5 L600.8,507.5 L604.7,507.8 L608.6,507.9 L612.5,508.0 L616.4,508.0 L620.3,508.2 L623.4,510.7 L626.2,513.4 L629.3,515.8 L632.3,518.4 L635.3,521.0 L638.4,523.4 L641.5,525.9 L644.4,528.5 L647.3,531.2 L650.3,533.7 L653.4,536.1 L656.4,538.7" fill="none" stroke="#000" stroke-width="1.4" stroke-linejoin="round" stroke-linecap="round"/>
<path d="M505.0,502.0 L503.5,503.4 L502.1,504.9 L501.5,507.0 L499.5,508.0 L498.7,510.1 L500.3,511.8 L502.0,513.3 L503.6,515.0 L506.0,515.8 L507.6,517.4 L508.8,519.2 L510.4,520.6 L511.8,522.2 L513.6,523.4 L514.5,525.5 L517.2,526.2 L518.1,528.6 L520.1,529.9 L522.2,530.9 L523.4,533.0 L525.7,533.8 L527.4,535.4 L529.1,537.0 L531.0,538.2 L532.9,539.7 L534.5,541.5 L535.1,544.1 L537.5,545.3 L538.9,547.2 L540.4,549.0 L541.1,551.5 L543.0,552.9 L544.2,554.9 L545.6,556.9 L547.7,557.7 L549.4,559.0 L551.1,560.3 L552.9,561.5 L554.3,563.2 L555.4,564.7 L557.2,566.4 L558.1,568.6 L559.1,570.7 L560.4,572.7 L561.8,574.6 L563.1,576.5 L564.9,578.2 L565.7,580.4 L566.4,582.8 L568.1,584.5 L568.6,586.6 L570.0,588.4 L570.4,590.5 L571.6,592.4 L571.8,594.8 L573.2,596.3 L575.0,597.5" fill="none" stroke="#000" stroke-width="1.4" stroke-linejoin="round" stroke-linecap="round"/>
<path d="M744.4,439.0 L746.5,448.0 L749.0,458.0 L751.5,466.3 L756.0,474.0 L761.0,481.7 L760.5,488.0 L758.6,493.5 L751.0,496.5 L743.2,499.5" fill="none" stroke="#000" stroke-width="1.2" stroke-linejoin="round" stroke-linecap="round"/>
<path d="M712.6,456.1 L716.5,457.5 L720.6,460.1 L718.5,463.5" fill="none" stroke="#000" stroke-width="1.2" stroke-linejoin="round" stroke-linecap="round"/>
<path d="M733.7,505.4 L729.0,511.0 L724.2,516.0" fill="none" stroke="#000" stroke-width="1.2" stroke-linejoin="round" stroke-linecap="round"/>
<path d="M773.0,390.5 L768.0,398.0 L762.0,406.0 L756.0,414.0" fill="none" stroke="#000" stroke-width="1.2" stroke-linejoin="round" stroke-linecap="round"/>
<path d="M126.2,685.6 L108.7,698.3" fill="none" stroke="#000" stroke-width="1.2" stroke-linejoin="round" stroke-linecap="round"/>
<path d="M93.2,711.8 L70.9,718.6" fill="none" stroke="#000" stroke-width="1.2" stroke-linejoin="round" stroke-linecap="round"/>
<path d="M64.1,723.5 L52.0,731.0 L44.7,737.1 L39.0,746.0 L34.0,756.5 L32.0,766.2 L34.0,779.8 L37.9,793.4 L38.8,801.2" fill="none" stroke="#000" stroke-width="1.2" stroke-linejoin="round" stroke-linecap="round"/>
<path d="M601.2,822.5 L597.0,829.0 L591.2,835.0" fill="none" stroke="#000" stroke-width="1.2" stroke-linejoin="round" stroke-linecap="round"/>
<path d="M584.0,709.5 L588.0,716.0 L590.0,721.0" fill="none" stroke="#000" stroke-width="1.2" stroke-linejoin="round" stroke-linecap="round"/>
<path d="M265.0,660.0 L267.0,657.0 L272.0,655.8 L278.0,656.5 L283.0,658.5 L286.0,661.0 L284.0,664.5 L279.0,666.5 L273.0,667.0 L268.0,665.5 L265.5,663.0 Z" fill="#fff" stroke="#000" stroke-width="1.1" stroke-linejoin="round"/>
<path d="M732.5,391.5 L726.0,392.5 L720.0,390.2 L716.0,387.5 L721.0,391.8 L727.0,395.5 L733.0,397.5 Z" fill="#fff" stroke="#000" stroke-width="1.1" stroke-linejoin="round"/>
<path d="M733.5,402.0 L727.0,398.0 L721.0,393.5 L719.0,393.5 L725.0,399.0 L732.0,404.5 Z" fill="#fff" stroke="#000" stroke-width="1.1" stroke-linejoin="round"/>
<path d="M734.0,412.0 L728.0,407.5 L722.0,403.0 L720.0,403.5 L726.0,409.0 L733.0,414.5 Z" fill="#fff" stroke="#000" stroke-width="1.1" stroke-linejoin="round"/>
<path d="M736.3,436.5 L730.0,433.0 L724.0,428.0 L719.0,425.5 L718.5,427.0 L724.0,431.0 L730.0,436.5 L735.0,439.0 Z" fill="#fff" stroke="#000" stroke-width="1.1" stroke-linejoin="round"/>
<path d="M733.8,422.0 L728.0,418.0 L723.0,414.0 L722.0,415.3 L727.0,420.0 L733.0,424.5 Z" fill="#fff" stroke="#000" stroke-width="1.1" stroke-linejoin="round"/>
<path d="M731.5,369 L733.5,372 L732,375 Z M734,377 L736,380.5 L734.5,383 Z" fill="#000" stroke="#000" stroke-width="1"/>
<path d="M543.3,643.3 L550.0,641.8 L560.5,642.5 L561.2,652.5 L563.8,662.5 L567.5,675.0 L572.5,687.5 L578.8,700.0 L583.8,708.8 L591.2,716.2 L592.5,720.0 L588.8,720.0 L590.0,727.5 L593.8,737.5 L597.3,746.6 L600.9,757.3 L605.6,765.6 L607.4,772.7 L607.8,783.4 L606.8,796.5 L605.0,806.0 L602.1,813.1 L600.3,821.4 L598.5,823.8 L595.0,826.1 L587.8,828.5 L581.9,829.1 L581.3,808.3 L569.4,808.3 L565.3,807.2 L559.3,804.8 L554.6,804.2 L552.8,801.2 L549.9,794.1 L547.5,785.8 L548.7,778.7 L546.3,782.2 L541.5,784.6 L539.2,779.3 L539.2,775.1 L535.6,772.7 L532.0,769.2 L528.5,764.4 L525.5,759.7 L524.9,753.7 L520.8,751.4 L522.0,745.4 L525.5,743.1 L529.1,739.5 L528.5,737.1 L522.6,735.9 L520.2,732.4 L516.6,734.7 L516.2,736.2 L520.0,725.0 L522.5,712.5 L520.8,703.3 L526.7,700.0 L530.0,693.3 L533.3,685.8 L541.7,685.0 L543.3,676.7 L542.5,655.0 Z M542.7,768.0 L566.5,768.0 L567.7,765.6 L571.2,765.0 L572.4,762.6 L579.5,762.6 L580.1,775.1 L559.3,775.7 L542.7,775.7 Z" fill="url(#hatchM)" fill-rule="evenodd" stroke="#2a0000" stroke-width="0.6"/>
<path d="M425.8,636.7 L443.3,635.8 L447.5,645.0 L476.7,647.5 L474.2,659.2 L471.7,665.0 L465.0,666.7 L460.0,670.0 L450.0,673.3 L443.3,673.3 L444.2,668.3 L440.0,666.7 L440.0,660.0 L443.3,653.3 L445.8,648.3 L431.7,647.5 L428.3,641.7 Z" fill="url(#hatchM)" stroke="#2a0000" stroke-width="0.7"/>
<path d="M502.5,649.2 L510.0,650.8 L515.0,649.2 L520.8,651.7 L519.2,656.7 L513.3,655.8 L505.0,654.2 Z" fill="url(#hatchM)" stroke="#2a0000" stroke-width="0.7"/>
<path d="M500.0,675.0 L511.7,674.2 L512.5,680.0 L508.3,686.7 L503.3,686.7 L499.2,681.7 Z" fill="url(#hatchM)" stroke="#2a0000" stroke-width="0.7"/>
<path d="M523.3,672.5 L530.0,670.8 L538.3,674.2 L541.7,676.7 L541.7,685.0 L533.3,685.8 L525.0,685.0 L521.7,678.3 Z" fill="url(#hatchM)" stroke="#2a0000" stroke-width="0.7"/>
<path d="M546.7,631.7 L556.7,630.0 L560.0,635.0 L559.2,643.3 L548.3,641.7 Z" fill="url(#hatchM)" stroke="#2a0000" stroke-width="0.7"/>
<path d="M565.0,597.0 L571.0,592.0 L575.0,597.5 L572.0,606.0 L566.0,604.0 Z" fill="url(#hatchM)" stroke="#2a0000" stroke-width="0.7"/>
<path d="M358.0,636.0 L372.0,636.0 L371.0,645.0 L366.0,652.0 L362.0,646.0 Z" fill="url(#hatchM)" stroke="#2a0000" stroke-width="0.7"/>
<path d="M120.4,652.6 L141.7,651.3 L142.7,660.4 L135.9,664.3 L125.2,664.3 Z" fill="url(#hatchM)" stroke="#2a0000" stroke-width="0.7"/>
<path d="M76.7,677.9 L85.4,675.9 L97.1,681.7 L92.2,690.5 L81.6,692.4 L76.7,685.6 Z" fill="url(#hatchM)" stroke="#2a0000" stroke-width="0.7"/>
<path d="M7.8,659.4 L20.4,668.2 L12.6,675.9 L7.8,672.0 Z" fill="url(#hatchM)" stroke="#2a0000" stroke-width="0.7"/>
<path d="M7.8,776.0 L12.6,776.0 L13.6,787.6 L16.5,797.3 L7.8,799.2 Z" fill="url(#hatchM)" stroke="#2a0000" stroke-width="0.7"/>
<path d="M252.5,382.5 L262.5,373.8 L271.2,375.0 L268.8,382.5 L260.0,387.5 L253.8,386.2 Z" fill="url(#hatchM)" stroke="#2a0000" stroke-width="0.7"/>
<path d="M267.5,387.5 L280.0,392.5 L276.2,398.8 L268.8,396.2 Z" fill="url(#hatchM)" stroke="#2a0000" stroke-width="0.7"/>
<path d="M598.4,319.6 L615.7,321.5 L617.6,329.2 L611.8,328.2 L604.0,322.0 Z" fill="url(#hatchM)" stroke="#2a0000" stroke-width="0.7"/>
<path d="M719.3,331.1 L738.5,325.4 L746.2,330.2 L742.4,342.6 L734.7,343.6 L727.0,335.0 Z" fill="url(#hatchM)" stroke="#2a0000" stroke-width="0.7"/>
<path d="M634.3,461.1 L640.3,462.1 L643.4,473.1 L636.3,472.1 Z" fill="url(#hatchM)" stroke="#2a0000" stroke-width="0.7"/>
<path d="M651.4,467.1 L668.4,473.1 L662.4,479.1 L652.4,484.2 L644.4,482.1 L646.4,475.1 Z" fill="url(#hatchM)" stroke="#2a0000" stroke-width="0.7"/>
<path d="M541.5,730.0 L541.5,768.0" fill="none" stroke="#2a0000" stroke-width="0.6"/>
<path d="M558.8,745.4 L558.8,765.6" fill="none" stroke="#2a0000" stroke-width="0.6"/>
<path d="M558.8,775.7 L558.8,785.8" fill="none" stroke="#2a0000" stroke-width="0.6"/>
<path d="M581.3,730.0 L581.3,829.0" fill="none" stroke="#2a0000" stroke-width="0.6"/>
<path d="M541.5,745.4 L587.8,745.4" fill="none" stroke="#2a0000" stroke-width="0.6"/>
<path d="M541.5,757.9 L558.8,757.9" fill="none" stroke="#2a0000" stroke-width="0.6"/>
<path d="M581.3,790.5 L606.8,790.5" fill="none" stroke="#2a0000" stroke-width="0.6"/>
<path d="M581.3,803.6 L605.6,803.6" fill="none" stroke="#2a0000" stroke-width="0.6"/>
<path d="M556.0,785.8 L566.5,785.8 L566.5,793.0 L581.3,793.0" fill="none" stroke="#2a0000" stroke-width="0.6"/>
<path d="M543.3,655.0 L561.5,655.0" fill="none" stroke="#2a0000" stroke-width="0.6"/>
<path d="M543.3,665.0 L565.0,665.0" fill="none" stroke="#2a0000" stroke-width="0.6"/>
<path d="M552.0,665.0 L552.0,685.0" fill="none" stroke="#2a0000" stroke-width="0.6"/>
<path d="M541.7,685.0 L570.0,685.0" fill="none" stroke="#2a0000" stroke-width="0.6"/>
<path d="M556.0,685.0 L556.0,700.0" fill="none" stroke="#2a0000" stroke-width="0.6"/>
<path d="M530.0,700.0 L579.0,700.0" fill="none" stroke="#2a0000" stroke-width="0.6"/>
<path d="M545.0,700.0 L545.0,716.0" fill="none" stroke="#2a0000" stroke-width="0.6"/>
<path d="M522.0,716.0 L586.0,716.0" fill="none" stroke="#2a0000" stroke-width="0.6"/>
<path d="M562.0,700.0 L562.0,730.0" fill="none" stroke="#2a0000" stroke-width="0.6"/>
<path d="M535.0,716.0 L535.0,733.0" fill="none" stroke="#2a0000" stroke-width="0.6"/>
<path d="M528.0,733.0 L590.0,730.0" fill="none" stroke="#2a0000" stroke-width="0.6"/>
<path d="M570.0,716.0 L570.0,745.0" fill="none" stroke="#2a0000" stroke-width="0.6"/>
<path d="M548.0,730.0 L548.0,745.0" fill="none" stroke="#2a0000" stroke-width="0.6"/>
<path d="M566.0,745.0 L566.0,762.6" fill="none" stroke="#2a0000" stroke-width="0.6"/>
<path d="M595.0,745.0 L581.3,757.0" fill="none" stroke="#2a0000" stroke-width="0.6"/>
<path d="M581.3,772.0 L607.0,772.0" fill="none" stroke="#2a0000" stroke-width="0.6"/>
<path d="M552.0,643.0 L552.0,655.0" fill="none" stroke="#2a0000" stroke-width="0.6"/>
<path d="M533.3,685.8 L533.3,700.0" fill="none" stroke="#2a0000" stroke-width="0.6"/>
<path d="M445.8,648.3 L458.0,650.0 L458.0,668.0" fill="none" stroke="#2a0000" stroke-width="0.6"/>
<path d="M447.5,645.0 L446.0,656.0 L452.0,662.0 L450.0,673.0" fill="none" stroke="#2a0000" stroke-width="0.6"/>
<path d="M458.0,658.0 L474.0,659.0" fill="none" stroke="#2a0000" stroke-width="0.6"/>
</g>
<rect x="7.5" y="319.25" width="766.4" height="581" fill="none" stroke="#000" stroke-width="1.3"/>
<!-- legend -->
<clipPath id="lgclip"><rect x="24.1" y="21.3" width="60.6" height="30.2"/></clipPath>
<g clip-path="url(#lgclip)" stroke="#111" stroke-width="1.15" fill="none">
<path d="M-1.1,51.5 L29.1,21.3 M12.7,51.5 L42.9,21.3 M27.8,51.5 L58,21.3 M42,51.5 L72.2,21.3 M56.9,51.5 L87.1,21.3 M71.2,51.5 L101.4,21.3"/>
</g>
<rect x="24.1" y="21.3" width="60.6" height="30.2" fill="none" stroke="#666" stroke-width="1.2"/>
<rect x="24" y="124.5" width="60" height="30" fill="#e60000"/>
<rect x="24" y="167" width="60" height="30" fill="#ff0000"/>
<rect x="24" y="209.5" width="60" height="30" fill="#ff7f7f"/>
<rect x="24" y="252" width="60" height="30" fill="#ffbebe"/>
<line x1="103" y1="124" x2="103" y2="280" stroke="#000" stroke-width="1"/>
<path d="M103,120 L105.6,136 L103,134.5 L100.4,136 Z" fill="#000"/>
<path d="M103,283.75 L105.6,267.75 L103,269.25 L100.4,267.75 Z" fill="#000"/>

<!-- scale bars -->
<rect x="122" y="771.2" width="149.9" height="14.9" fill="#fff" stroke="#000" stroke-width="1.3"/>
<rect x="122" y="828" width="241.3" height="14.9" fill="#fff" stroke="#000" stroke-width="1.3"/>
<!-- north arrow -->
<path d="M999.2,772.4 L1020.8,836.1 L999.2,822.6 L977.8,836.1 Z" fill="#000"/>
<!-- logo -->
<text class="ser" x="955" y="898.6" font-size="6.6" textLength="89" lengthAdjust="spacingAndGlyphs" style="fill:#2a5f96;stroke:#2a5f96;stroke-width:0.25px">UNIVERSITY <tspan font-style="italic">of</tspan> FLORIDA</text>
<rect x="985.6" y="871" width="0.9" height="18.5" fill="#f0a468"/>

<text transform="translate(147.75,46) scale(1.0455,1)" font-size="30" style="fill:#000">Counties</text>
<text transform="translate(285.88,46) scale(1.0804,1)" font-size="30" style="fill:#000">with</text>
<text transform="translate(353.90,46) scale(1.1004,1)" font-size="30" style="fill:#000">reported</text>
<text transform="translate(483.13,46) scale(1.0685,1)" font-size="30" style="fill:#000">plants</text>
<text transform="translate(11.76,103.25) scale(0.9954,1)" font-size="39.5" style="fill:#000">Climatic Suitability</text>
<text transform="translate(147.35,148.75) scale(1.0773,1)" font-size="30" style="fill:#000">High</text>
<text transform="translate(147.44,278) scale(1.0287,1)" font-size="30" style="fill:#000">Low</text>
<text transform="translate(182.50,762.1) scale(1.0627,1)" font-size="16.8" style="fill:#000">500</text>
<text transform="translate(276.48,786.1) scale(1.0157,1)" font-size="17.7" style="fill:#000">Kilometers</text>
<text transform="translate(228.10,819.2) scale(1.0518,1)" font-size="16.8" style="fill:#000">500</text>
<text transform="translate(367.03,842.9) scale(1.0672,1)" font-size="17.2" style="fill:#000">Miles</text>
<text class="ser" transform="translate(991.50,760.8) scale(0.9412,1)" font-size="23.3" style="fill:#000">N</text>
<text class="ser" transform="translate(955.00,889) scale(0.7390,1)" font-size="27.5" font-weight="bold" style="fill:#15599d;stroke:#15599d;stroke-width:1.1px">UF</text>
<text class="ser" transform="translate(989.50,889) scale(0.9118,1)" font-size="27.5" font-weight="bold" style="fill:#15599d;stroke:#15599d;stroke-width:0.35px">IFAS</text>
</svg>
</body></html>
